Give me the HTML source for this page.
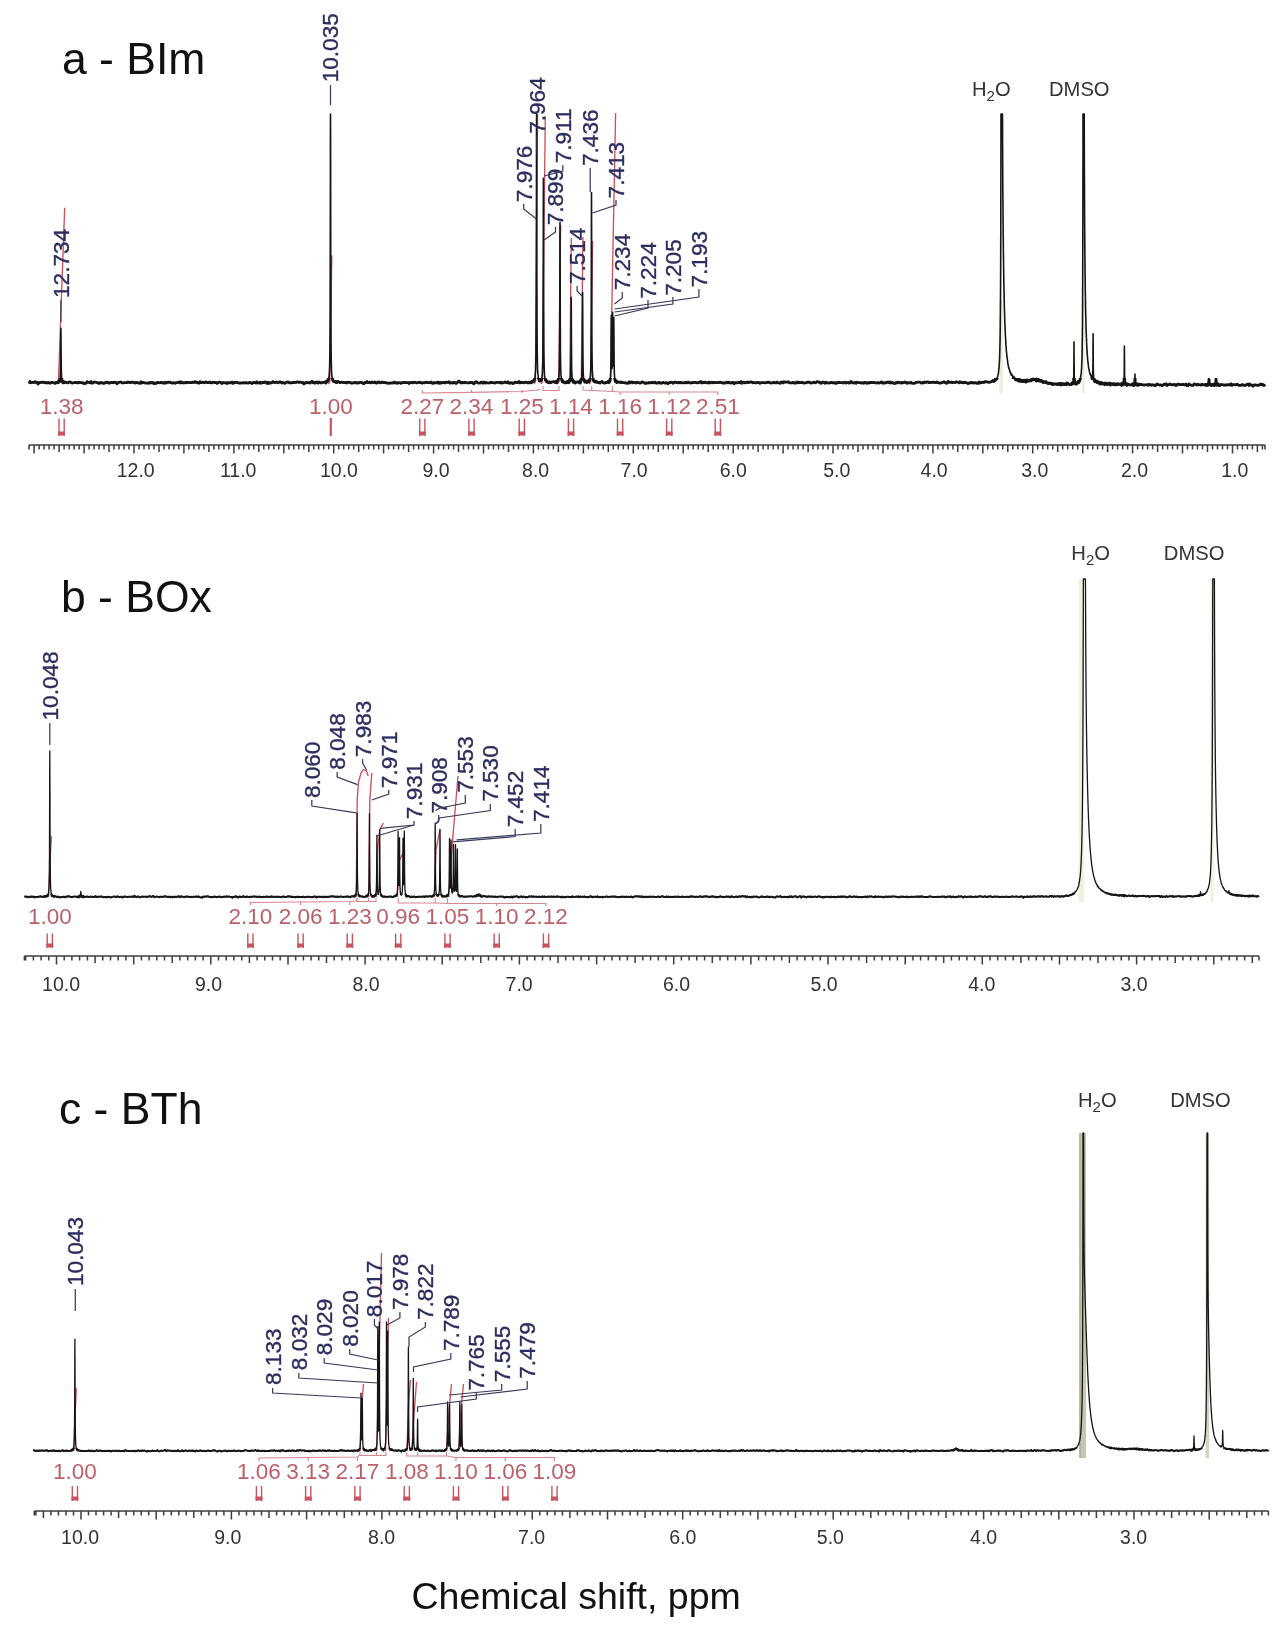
<!DOCTYPE html>
<html><head><meta charset="utf-8"><title>NMR spectra</title>
<style>html,body{margin:0;padding:0;background:#fff;}body{width:1277px;height:1626px;overflow:hidden;font-family:"Liberation Sans", sans-serif;}svg{display:block;filter:blur(0.5px);}</style>
</head><body>
<svg width="1277" height="1626" viewBox="0 0 1277 1626" font-family='"Liberation Sans", sans-serif'>
<rect width="1277" height="1626" fill="#fff"/>
<text x="62" y="74" font-size="44.5" fill="#111" text-anchor="start" >a - BIm</text>
<text x="972" y="96" font-size="20.2" fill="#333333">H<tspan font-size="15" dy="4.5">2</tspan><tspan dy="-4.5">O</tspan></text>
<text x="1049" y="96" font-size="20.2" fill="#333333" text-anchor="start" >DMSO</text>
<rect x="999.4" y="300" width="3.4" height="93" fill="#ececd8"/>
<rect x="1082.2" y="300" width="2.4" height="93" fill="#ececd8"/>
<path d="M56.9 384 L58.4 382 L61.5 294.9 L64.7 207.7" fill="none" stroke="#c9535e" stroke-width="1.35" />
<path d="M328.3 384 L329.8 382 L330.8 318.8 L331.8 255.6" fill="none" stroke="#c9535e" stroke-width="1.35" />
<path d="M533.9 384 L535.4 382 L536.5 248 L537.6 114" fill="none" stroke="#c9535e" stroke-width="1.35" />
<path d="M540.9 384 L542.4 382 L543.8 249 L545.3 116" fill="none" stroke="#c9535e" stroke-width="1.35" />
<path d="M557.3 384 L558.8 382 L559.7 303.5 L560.6 225" fill="none" stroke="#c9535e" stroke-width="1.35" />
<path d="M568.3 384 L569.8 382 L570.5 310 L571.3 238" fill="none" stroke="#c9535e" stroke-width="1.35" />
<path d="M579.8 384 L581.3 382 L582.1 309.5 L582.9 237" fill="none" stroke="#c9535e" stroke-width="1.35" />
<path d="M589.1 384 L590.6 382 L591.6 311.5 L592.6 241" fill="none" stroke="#c9535e" stroke-width="1.35" />
<path d="M608.9 384 L610.4 382 L613 247.5 L615.6 113" fill="none" stroke="#c9535e" stroke-width="1.35" />
<defs><path id="sp1" d="M29.0 383.5 L30.0 381.4 L31.0 382.8 L32.0 382.3 L33.0 382.4 L34.0 382.5 L35.0 381.7 L36.0 382.5 L37.0 382.2 L38.0 384.1 L39.0 382.7 L40.0 382.4 L41.0 382.5 L42.0 382.3 L43.0 382.1 L44.0 382.4 L45.0 382.8 L46.0 382.5 L47.0 383.0 L48.0 382.5 L49.0 382.6 L50.0 383.3 L51.0 382.8 L52.0 382.3 L53.0 382.5 L54.0 382.8 L55.0 383.4 L56.0 382.4 L57.0 382.3 L57.9 382.8 L58.0 381.9 L58.1 382.1 L58.2 382.6 L58.3 382.5 L58.4 382.2 L58.5 382.4 L58.6 380.8 L58.7 382.5 L58.8 381.6 L58.9 381.2 L59.0 382.0 L59.1 382.1 L59.2 381.5 L59.3 381.1 L59.4 381.5 L59.5 381.3 L59.6 381.7 L59.7 381.2 L59.8 380.6 L59.9 380.6 L60.0 379.4 L60.1 378.3 L60.2 378.0 L60.3 376.4 L60.4 373.6 L60.5 369.6 L60.6 363.6 L60.7 351.6 L60.8 337.7 L60.9 328.2 L61.0 336.6 L61.1 352.7 L61.2 363.1 L61.3 370.3 L61.4 372.8 L61.5 375.7 L61.6 378.0 L61.7 379.3 L61.8 378.5 L61.9 379.9 L62.0 380.6 L62.1 380.5 L62.2 381.8 L62.3 380.7 L62.4 381.6 L62.5 381.1 L62.6 382.3 L62.7 381.8 L62.8 381.7 L62.9 381.2 L63.0 382.8 L63.1 382.4 L63.2 382.4 L63.3 382.7 L63.4 382.3 L63.5 381.9 L63.6 381.9 L63.7 381.9 L63.8 382.9 L64.0 381.7 L65.0 382.2 L66.0 382.4 L67.0 382.6 L68.0 382.8 L69.0 382.0 L70.0 381.8 L71.0 382.6 L72.0 383.1 L73.0 382.9 L74.0 382.7 L75.0 382.4 L76.0 382.7 L77.0 382.5 L78.0 383.0 L79.0 382.2 L80.0 382.7 L81.0 382.5 L82.0 382.8 L83.0 382.7 L84.0 383.7 L85.0 383.3 L86.0 383.3 L87.0 381.7 L88.0 382.4 L89.0 382.3 L90.0 382.8 L91.0 381.6 L92.0 383.1 L93.0 383.1 L94.0 382.0 L95.0 382.2 L96.0 382.2 L97.0 382.6 L98.0 382.9 L99.0 383.5 L100.0 382.5 L101.0 382.9 L102.0 382.7 L103.0 383.4 L104.0 382.9 L105.0 383.2 L106.0 382.1 L107.0 382.5 L108.0 382.2 L109.0 383.3 L110.0 382.9 L111.0 382.5 L112.0 382.4 L113.0 382.8 L114.0 382.3 L115.0 382.2 L116.0 382.8 L117.0 383.7 L118.0 382.5 L119.0 382.3 L120.0 382.1 L121.0 382.0 L122.0 382.8 L123.0 383.0 L124.0 382.6 L125.0 382.7 L126.0 382.7 L127.0 382.7 L128.0 381.9 L129.0 382.4 L130.0 382.6 L131.0 382.2 L132.0 382.4 L133.0 382.2 L134.0 382.4 L135.0 383.0 L136.0 382.4 L137.0 382.5 L138.0 383.0 L139.0 382.9 L140.0 383.4 L141.0 381.7 L142.0 383.0 L143.0 382.4 L144.0 382.7 L145.0 383.0 L146.0 383.1 L147.0 383.1 L148.0 382.7 L149.0 383.3 L150.0 382.5 L151.0 382.5 L152.0 383.0 L153.0 382.4 L154.0 383.6 L155.0 383.1 L156.0 383.6 L157.0 382.6 L158.0 382.4 L159.0 382.7 L160.0 382.9 L161.0 382.3 L162.0 382.8 L163.0 382.6 L164.0 383.3 L165.0 382.3 L166.0 383.1 L167.0 382.3 L168.0 382.2 L169.0 382.3 L170.0 382.1 L171.0 382.7 L172.0 383.1 L173.0 382.7 L174.0 382.9 L175.0 383.3 L176.0 382.7 L177.0 382.7 L178.0 382.5 L179.0 381.9 L180.0 382.9 L181.0 381.8 L182.0 382.9 L183.0 382.6 L184.0 383.1 L185.0 382.6 L186.0 382.2 L187.0 382.8 L188.0 382.3 L189.0 382.5 L190.0 382.6 L191.0 382.5 L192.0 382.5 L193.0 382.2 L194.0 382.5 L195.0 381.6 L196.0 382.5 L197.0 382.1 L198.0 383.1 L199.0 383.2 L200.0 381.7 L201.0 382.7 L202.0 382.5 L203.0 382.1 L204.0 382.8 L205.0 382.4 L206.0 381.8 L207.0 382.5 L208.0 382.5 L209.0 382.6 L210.0 382.0 L211.0 382.9 L212.0 382.9 L213.0 382.1 L214.0 382.3 L215.0 382.6 L216.0 382.3 L217.0 383.4 L218.0 382.7 L219.0 382.1 L220.0 382.2 L221.0 382.6 L222.0 383.6 L223.0 382.5 L224.0 382.7 L225.0 382.8 L226.0 382.6 L227.0 383.6 L228.0 382.4 L229.0 382.9 L230.0 382.7 L231.0 382.9 L232.0 382.1 L233.0 383.4 L234.0 382.5 L235.0 382.6 L236.0 382.2 L237.0 382.3 L238.0 382.9 L239.0 383.0 L240.0 382.9 L241.0 383.1 L242.0 382.9 L243.0 382.6 L244.0 383.0 L245.0 382.9 L246.0 382.6 L247.0 382.9 L248.0 383.2 L249.0 382.7 L250.0 382.4 L251.0 382.9 L252.0 383.5 L253.0 382.5 L254.0 382.6 L255.0 382.5 L256.0 383.1 L257.0 381.8 L258.0 382.8 L259.0 383.1 L260.0 382.2 L261.0 383.3 L262.0 382.8 L263.0 382.3 L264.0 382.7 L265.0 381.9 L266.0 382.3 L267.0 383.4 L268.0 382.2 L269.0 383.4 L270.0 382.6 L271.0 383.0 L272.0 382.6 L273.0 381.6 L274.0 382.3 L275.0 382.7 L276.0 382.1 L277.0 382.0 L278.0 382.8 L279.0 382.3 L280.0 381.8 L281.0 382.3 L282.0 383.0 L283.0 382.4 L284.0 383.0 L285.0 383.3 L286.0 382.6 L287.0 382.1 L288.0 382.0 L289.0 382.6 L290.0 383.0 L291.0 382.7 L292.0 382.8 L293.0 382.4 L294.0 382.7 L295.0 382.4 L296.0 382.4 L297.0 382.0 L298.0 381.9 L299.0 382.4 L300.0 382.1 L301.0 382.2 L302.0 382.9 L303.0 382.5 L304.0 383.9 L305.0 383.0 L306.0 382.3 L307.0 382.9 L308.0 382.7 L309.0 382.3 L310.0 383.1 L311.0 382.2 L312.0 381.2 L313.0 382.9 L314.0 382.3 L315.0 383.2 L316.0 382.2 L317.0 382.0 L318.0 383.2 L319.0 382.0 L320.0 382.6 L321.0 383.1 L322.0 382.5 L323.0 382.3 L324.0 382.3 L324.9 382.5 L325.0 381.8 L325.4 382.3 L325.9 382.2 L326.0 383.0 L326.4 381.6 L326.9 381.1 L327.0 381.8 L327.4 381.0 L327.5 381.2 L327.6 381.0 L327.7 381.3 L327.8 380.4 L327.9 380.6 L327.9 379.4 L328.0 380.0 L328.1 380.9 L328.2 379.7 L328.3 379.4 L328.4 379.0 L328.4 379.7 L328.5 379.2 L328.6 378.2 L328.7 378.6 L328.8 377.9 L328.9 377.8 L328.9 376.9 L329.0 377.3 L329.1 375.8 L329.2 374.5 L329.3 372.9 L329.4 372.1 L329.4 371.8 L329.5 369.1 L329.6 366.7 L329.7 362.5 L329.8 357.1 L329.9 352.3 L329.9 348.2 L330.0 334.7 L330.1 315.4 L330.2 281.5 L330.3 223.8 L330.4 176.4 L330.4 142.0 L330.5 114.0 L330.6 141.8 L330.7 224.4 L330.8 281.2 L330.9 303.5 L330.9 314.6 L331.0 335.5 L331.1 348.9 L331.2 356.7 L331.3 361.9 L331.4 365.4 L331.4 366.9 L331.5 369.6 L331.6 371.8 L331.7 373.7 L331.8 374.8 L331.9 375.5 L331.9 375.3 L332.0 377.2 L332.1 377.3 L332.2 378.7 L332.3 377.4 L332.4 378.9 L332.4 379.2 L332.5 379.0 L332.6 379.7 L332.7 380.1 L332.8 380.2 L332.9 379.9 L332.9 380.1 L333.0 380.8 L333.1 381.1 L333.2 380.7 L333.3 380.9 L333.4 381.0 L333.4 381.4 L333.9 380.9 L334.0 380.9 L334.4 381.7 L334.9 381.4 L335.0 381.6 L335.4 382.0 L335.9 382.3 L336.0 381.7 L336.4 382.6 L336.9 381.5 L337.0 382.5 L338.0 381.6 L339.0 381.8 L340.0 382.7 L341.0 382.3 L342.0 382.1 L343.0 382.3 L344.0 382.7 L345.0 382.5 L346.0 382.5 L347.0 383.0 L348.0 382.2 L349.0 382.3 L350.0 382.3 L351.0 383.1 L352.0 383.0 L353.0 383.1 L354.0 382.6 L355.0 382.5 L356.0 383.0 L357.0 382.4 L358.0 383.0 L359.0 382.9 L360.0 382.3 L361.0 382.5 L362.0 382.5 L363.0 383.4 L364.0 383.7 L365.0 382.5 L366.0 382.6 L367.0 381.6 L368.0 382.7 L369.0 382.6 L370.0 382.1 L371.0 382.9 L372.0 381.9 L373.0 382.5 L374.0 382.7 L375.0 382.0 L376.0 383.0 L377.0 383.1 L378.0 382.0 L379.0 382.0 L380.0 382.9 L381.0 382.6 L382.0 382.0 L383.0 382.5 L384.0 382.5 L385.0 382.5 L386.0 383.0 L387.0 382.8 L388.0 383.4 L389.0 383.2 L390.0 382.9 L391.0 383.1 L392.0 383.2 L393.0 382.9 L394.0 382.0 L395.0 383.0 L396.0 382.6 L397.0 383.3 L398.0 382.6 L399.0 382.8 L400.0 382.7 L401.0 383.4 L402.0 382.7 L403.0 382.5 L404.0 382.7 L405.0 382.4 L406.0 382.7 L407.0 382.6 L408.0 382.7 L409.0 383.5 L410.0 382.4 L411.0 382.6 L412.0 382.5 L413.0 382.9 L414.0 382.1 L415.0 382.3 L416.0 382.6 L417.0 382.8 L418.0 382.6 L419.0 382.4 L420.0 382.2 L421.0 382.8 L422.0 383.2 L423.0 382.7 L424.0 382.7 L425.0 382.8 L426.0 382.2 L427.0 382.5 L428.0 382.5 L429.0 382.7 L430.0 382.6 L431.0 382.0 L432.0 383.1 L433.0 383.4 L434.0 382.5 L435.0 382.8 L436.0 382.7 L437.0 382.9 L438.0 381.9 L439.0 383.3 L440.0 382.4 L441.0 383.2 L442.0 382.6 L443.0 382.4 L444.0 382.5 L445.0 383.0 L446.0 382.2 L447.0 382.4 L448.0 382.4 L449.0 381.8 L450.0 383.2 L451.0 382.9 L452.0 382.6 L453.0 383.1 L454.0 382.2 L455.0 382.6 L456.0 383.4 L457.0 383.0 L458.0 381.6 L459.0 381.1 L460.0 382.1 L461.0 383.1 L462.0 382.4 L463.0 382.5 L464.0 382.9 L465.0 382.2 L466.0 382.7 L467.0 382.9 L468.0 382.8 L469.0 382.8 L470.0 382.3 L471.0 382.8 L472.0 382.4 L473.0 383.2 L474.0 383.7 L475.0 382.3 L476.0 381.6 L477.0 382.4 L478.0 382.8 L479.0 383.1 L480.0 383.1 L481.0 382.2 L482.0 382.2 L483.0 383.2 L484.0 382.1 L485.0 383.1 L486.0 382.5 L487.0 382.9 L488.0 382.9 L489.0 382.9 L490.0 383.0 L491.0 382.1 L492.0 382.7 L493.0 382.6 L494.0 382.7 L495.0 383.1 L496.0 382.5 L497.0 382.3 L498.0 382.3 L499.0 382.4 L500.0 382.9 L501.0 382.2 L502.0 383.1 L503.0 382.7 L504.0 382.5 L505.0 382.0 L506.0 382.7 L507.0 382.9 L508.0 381.8 L509.0 383.1 L510.0 383.3 L511.0 382.7 L512.0 382.8 L513.0 383.6 L514.0 383.1 L515.0 382.1 L516.0 382.5 L517.0 382.5 L518.0 382.5 L519.0 381.5 L520.0 382.9 L521.0 382.2 L522.0 382.6 L523.0 382.4 L524.0 382.9 L525.0 382.3 L526.0 382.1 L527.0 382.6 L528.0 383.0 L529.0 382.1 L530.0 382.8 L531.0 382.2 L531.0 381.8 L531.5 382.7 L532.0 381.5 L532.0 382.3 L532.5 381.5 L533.0 381.6 L533.0 380.9 L533.5 380.7 L533.6 381.4 L533.7 380.9 L533.8 380.7 L533.9 380.4 L534.0 380.7 L534.0 379.8 L534.1 379.7 L534.2 380.0 L534.3 379.5 L534.4 379.3 L534.5 379.4 L534.5 379.2 L534.6 378.9 L534.7 379.4 L534.8 378.6 L534.9 378.2 L535.0 377.3 L535.0 376.8 L535.1 375.7 L535.2 375.3 L535.3 373.4 L535.4 372.7 L535.5 372.3 L535.5 372.0 L535.6 369.5 L535.7 365.7 L535.8 362.2 L535.9 356.0 L536.0 352.1 L536.0 348.0 L536.1 335.7 L536.2 316.2 L536.3 281.3 L536.4 224.6 L536.5 176.0 L536.5 141.8 L536.6 114.0 L536.7 142.7 L536.8 223.3 L536.9 280.9 L537.0 302.8 L537.0 314.9 L537.1 335.7 L537.2 347.9 L537.3 356.0 L537.4 361.3 L537.5 364.6 L537.5 366.3 L537.6 369.2 L537.7 371.2 L537.8 371.6 L537.8 373.6 L537.9 374.1 L538.0 374.8 L538.0 375.6 L538.1 375.1 L538.2 376.8 L538.3 377.1 L538.3 377.6 L538.4 378.5 L538.5 378.4 L538.5 377.5 L538.6 378.5 L538.7 379.1 L538.8 379.2 L538.8 378.7 L538.9 378.7 L539.0 379.8 L539.0 379.8 L539.1 379.8 L539.2 379.2 L539.3 380.8 L539.3 378.8 L539.4 380.0 L539.5 381.2 L539.5 380.2 L539.8 380.5 L540.0 380.0 L540.0 381.1 L540.3 379.9 L540.4 380.6 L540.5 380.5 L540.5 380.0 L540.6 380.8 L540.7 379.7 L540.8 380.0 L540.8 380.3 L540.9 380.0 L541.0 380.4 L541.0 380.6 L541.1 379.9 L541.2 379.6 L541.3 379.5 L541.3 379.5 L541.4 379.9 L541.5 379.3 L541.5 379.5 L541.6 378.9 L541.7 378.3 L541.8 378.8 L541.8 377.8 L541.9 377.8 L542.0 378.1 L542.0 376.7 L542.1 376.4 L542.2 374.7 L542.3 374.5 L542.3 373.6 L542.4 372.5 L542.5 371.3 L542.5 370.7 L542.6 368.5 L542.7 363.9 L542.8 360.9 L542.8 357.9 L542.9 348.9 L543.0 340.9 L543.0 333.9 L543.1 310.7 L543.2 270.9 L543.3 236.8 L543.3 212.4 L543.4 178.4 L543.5 212.5 L543.6 270.0 L543.7 310.2 L543.8 326.2 L543.8 334.7 L543.9 350.0 L544.0 358.0 L544.1 363.4 L544.2 367.7 L544.3 369.6 L544.3 370.0 L544.4 372.9 L544.5 374.8 L544.6 375.8 L544.7 376.9 L544.8 376.5 L544.8 376.6 L544.9 378.6 L545.0 379.0 L545.1 378.3 L545.2 379.4 L545.3 379.5 L545.3 379.9 L545.4 380.0 L545.5 379.9 L545.6 380.4 L545.7 380.6 L545.8 380.6 L545.8 379.8 L545.9 379.5 L546.0 380.6 L546.1 380.3 L546.2 381.2 L546.3 381.5 L546.3 381.3 L546.8 381.4 L547.0 381.7 L547.3 382.3 L547.8 381.6 L548.0 382.4 L548.3 382.3 L548.8 382.2 L549.0 382.8 L550.0 381.9 L551.0 382.7 L552.0 381.8 L553.0 381.9 L554.0 381.7 L554.9 382.4 L555.0 381.7 L555.4 382.1 L555.9 381.5 L556.0 382.5 L556.4 382.7 L556.9 381.8 L557.0 382.4 L557.1 381.8 L557.2 382.5 L557.3 381.5 L557.4 380.6 L557.4 382.0 L557.5 381.2 L557.6 380.7 L557.7 380.7 L557.8 380.2 L557.9 380.7 L557.9 380.2 L558.0 381.2 L558.1 380.7 L558.2 379.4 L558.3 379.2 L558.4 379.3 L558.4 378.5 L558.5 379.1 L558.6 378.6 L558.7 377.7 L558.8 377.0 L558.9 376.6 L558.9 376.6 L559.0 375.8 L559.1 373.5 L559.2 371.6 L559.3 367.8 L559.4 363.8 L559.4 361.4 L559.5 356.9 L559.6 344.9 L559.7 326.2 L559.8 295.1 L559.9 250.5 L559.9 236.9 L560.0 222.6 L560.1 250.3 L560.2 295.2 L560.3 326.3 L560.4 345.5 L560.4 349.3 L560.5 357.2 L560.6 363.8 L560.7 367.5 L560.8 370.3 L560.9 373.5 L560.9 374.6 L561.0 375.2 L561.1 376.7 L561.2 377.1 L561.3 377.4 L561.4 379.0 L561.4 378.8 L561.5 379.4 L561.6 378.9 L561.7 379.9 L561.8 379.8 L561.9 380.7 L561.9 380.2 L562.0 380.3 L562.1 380.5 L562.2 381.5 L562.3 381.0 L562.4 380.8 L562.4 380.7 L562.5 380.8 L562.6 382.0 L562.7 380.6 L562.8 381.1 L562.9 381.8 L562.9 382.1 L563.0 381.5 L563.4 382.2 L563.9 382.3 L564.0 382.4 L564.4 382.1 L564.9 382.9 L565.0 382.2 L566.0 382.9 L567.0 381.6 L567.5 382.5 L568.0 381.5 L568.0 381.3 L568.2 382.2 L568.3 381.6 L568.4 382.1 L568.5 381.4 L568.5 382.6 L568.6 381.8 L568.7 381.3 L568.8 381.8 L568.9 382.1 L569.0 381.3 L569.0 381.8 L569.1 382.4 L569.2 381.8 L569.3 381.3 L569.4 380.9 L569.5 381.3 L569.5 380.4 L569.6 379.5 L569.7 380.4 L569.8 379.9 L569.9 380.9 L570.0 379.8 L570.0 379.2 L570.1 378.7 L570.2 378.7 L570.3 377.3 L570.4 376.2 L570.5 375.1 L570.5 374.8 L570.6 372.4 L570.7 368.6 L570.8 363.2 L570.9 353.3 L571.0 338.9 L571.0 336.8 L571.1 311.6 L571.2 297.4 L571.3 311.2 L571.4 335.8 L571.5 349.9 L571.5 352.6 L571.6 363.0 L571.7 368.9 L571.8 371.9 L571.9 374.7 L572.0 376.5 L572.0 376.8 L572.1 377.5 L572.2 378.4 L572.3 379.1 L572.4 379.2 L572.5 379.5 L572.5 380.8 L572.6 380.2 L572.7 380.7 L572.8 380.6 L572.9 381.7 L573.0 382.0 L573.0 381.1 L573.1 381.6 L573.2 381.1 L573.3 382.3 L573.4 382.1 L573.5 381.3 L573.5 382.3 L573.6 381.9 L573.7 382.0 L573.8 382.0 L573.9 381.6 L574.0 381.7 L574.0 382.2 L574.1 382.0 L574.5 381.7 L575.0 383.1 L576.0 382.2 L577.0 382.0 L578.0 381.9 L578.8 382.5 L579.0 382.6 L579.3 382.2 L579.6 382.4 L579.7 381.3 L579.8 381.7 L579.9 381.7 L580.0 381.8 L580.1 382.0 L580.2 380.8 L580.3 383.1 L580.4 381.2 L580.5 381.6 L580.6 381.8 L580.7 381.7 L580.8 381.2 L580.9 379.7 L581.0 380.3 L581.1 380.9 L581.2 379.9 L581.3 379.5 L581.4 378.5 L581.5 379.6 L581.6 378.5 L581.7 377.0 L581.8 376.1 L581.9 374.3 L582.0 371.3 L582.1 367.8 L582.2 361.7 L582.3 351.3 L582.4 333.9 L582.5 308.2 L582.6 292.6 L582.7 308.3 L582.8 333.1 L582.9 350.5 L583.0 362.1 L583.1 367.7 L583.2 371.8 L583.3 374.6 L583.4 375.6 L583.5 377.6 L583.6 378.5 L583.7 378.9 L583.8 379.7 L583.9 379.5 L584.0 379.2 L584.1 380.4 L584.2 380.3 L584.3 381.3 L584.4 381.2 L584.5 380.9 L584.6 381.3 L584.7 382.0 L584.8 382.0 L584.9 381.7 L585.0 381.8 L585.1 381.5 L585.2 381.6 L585.3 382.0 L585.4 381.7 L585.5 381.9 L585.8 381.3 L586.0 381.1 L586.0 381.1 L586.3 381.7 L586.5 382.5 L587.0 382.4 L587.0 381.4 L587.5 381.1 L588.0 382.0 L588.0 381.9 L588.5 380.8 L588.5 381.9 L588.6 381.4 L588.7 381.9 L588.8 381.3 L588.9 381.5 L589.0 381.2 L589.0 380.6 L589.1 380.8 L589.2 380.4 L589.3 381.0 L589.4 380.0 L589.5 379.6 L589.5 380.5 L589.6 380.5 L589.7 380.3 L589.8 379.8 L589.9 378.3 L590.0 378.3 L590.0 378.2 L590.1 377.9 L590.2 376.2 L590.3 376.3 L590.4 375.3 L590.5 373.8 L590.5 373.8 L590.6 372.3 L590.7 369.2 L590.8 365.9 L590.9 360.5 L591.0 354.8 L591.0 351.9 L591.1 338.3 L591.2 316.7 L591.3 278.5 L591.4 225.1 L591.5 196.7 L591.5 192.6 L591.6 225.6 L591.7 279.2 L591.8 316.2 L591.9 338.5 L592.0 348.8 L592.0 352.1 L592.1 359.3 L592.2 364.9 L592.3 369.8 L592.4 372.0 L592.5 372.3 L592.5 373.2 L592.6 375.2 L592.7 375.9 L592.8 377.4 L592.9 378.0 L593.0 378.6 L593.0 378.0 L593.1 379.3 L593.2 380.3 L593.3 379.4 L593.4 380.6 L593.5 380.6 L593.5 380.5 L593.6 380.4 L593.7 380.1 L593.8 380.4 L593.9 381.3 L594.0 381.5 L594.0 381.6 L594.1 381.6 L594.2 381.7 L594.3 381.2 L594.4 380.9 L594.5 381.6 L595.0 382.0 L595.0 381.8 L595.5 381.3 L596.0 381.8 L596.0 381.4 L596.5 382.2 L597.0 381.8 L597.0 382.2 L598.0 382.5 L599.0 382.4 L600.0 383.0 L601.0 381.9 L602.0 381.4 L603.0 382.8 L604.0 383.0 L605.0 383.0 L606.0 382.4 L607.0 382.5 L608.0 382.1 L608.1 381.4 L608.3 381.7 L608.4 382.1 L608.5 381.6 L608.6 382.7 L608.6 381.1 L608.7 381.6 L608.8 382.2 L608.9 381.4 L609.0 381.1 L609.1 380.9 L609.1 381.2 L609.2 382.1 L609.3 381.5 L609.3 381.6 L609.4 381.0 L609.5 381.5 L609.6 381.1 L609.6 380.6 L609.7 380.6 L609.8 380.7 L609.8 381.1 L609.9 380.3 L610.0 380.3 L610.1 380.8 L610.1 379.4 L610.2 378.7 L610.3 379.2 L610.3 378.8 L610.4 378.0 L610.5 377.1 L610.6 376.0 L610.6 375.9 L610.6 375.2 L610.7 374.1 L610.8 370.3 L610.8 369.6 L610.9 366.2 L611.0 358.2 L611.1 350.3 L611.1 345.4 L611.1 341.8 L611.2 327.1 L611.3 315.4 L611.3 315.4 L611.4 325.8 L611.5 343.7 L611.6 353.1 L611.6 356.3 L611.6 358.4 L611.7 363.4 L611.8 367.5 L611.8 367.7 L611.9 368.0 L612.0 368.7 L612.1 367.5 L612.1 366.0 L612.1 365.8 L612.2 362.8 L612.3 355.1 L612.3 353.4 L612.4 342.3 L612.5 323.9 L612.6 313.2 L612.6 312.3 L612.6 312.5 L612.7 323.7 L612.8 341.1 L612.8 345.1 L612.9 355.1 L613.0 361.9 L613.1 364.4 L613.1 365.4 L613.1 365.2 L613.2 366.0 L613.3 365.5 L613.3 365.2 L613.4 363.1 L613.5 355.9 L613.6 349.3 L613.6 343.9 L613.6 341.2 L613.7 327.6 L613.8 317.8 L613.8 317.6 L613.9 327.4 L614.0 346.5 L614.1 355.7 L614.1 358.4 L614.1 360.3 L614.2 366.1 L614.3 371.0 L614.3 372.0 L614.4 373.2 L614.5 376.8 L614.6 377.1 L614.6 377.2 L614.7 378.4 L614.8 378.8 L614.8 380.0 L614.9 379.8 L615.0 379.6 L615.1 379.9 L615.1 380.0 L615.2 380.2 L615.3 380.9 L615.3 380.4 L615.4 381.6 L615.5 381.0 L615.6 381.1 L615.6 381.6 L615.7 380.4 L615.8 381.0 L615.8 381.7 L615.9 381.5 L616.0 381.5 L616.1 381.8 L616.1 381.4 L616.2 381.6 L616.3 381.1 L616.4 381.0 L616.5 382.4 L616.6 381.5 L616.6 381.6 L616.7 382.6 L617.0 382.5 L618.0 382.0 L619.0 382.1 L620.0 382.4 L621.0 382.0 L622.0 382.7 L623.0 382.6 L624.0 382.6 L625.0 382.9 L626.0 382.9 L627.0 383.4 L628.0 383.2 L629.0 381.8 L630.0 383.0 L631.0 382.1 L632.0 381.9 L633.0 382.9 L634.0 382.3 L635.0 382.4 L636.0 383.1 L637.0 382.3 L638.0 382.2 L639.0 382.7 L640.0 383.1 L641.0 382.8 L642.0 381.9 L643.0 382.3 L644.0 382.5 L645.0 383.5 L646.0 383.0 L647.0 383.0 L648.0 383.1 L649.0 382.5 L650.0 382.8 L651.0 382.8 L652.0 382.2 L653.0 382.6 L654.0 382.9 L655.0 382.1 L656.0 383.0 L657.0 382.9 L658.0 383.1 L659.0 382.3 L660.0 382.7 L661.0 383.3 L662.0 383.0 L663.0 382.3 L664.0 382.7 L665.0 383.2 L666.0 382.6 L667.0 382.8 L668.0 383.8 L669.0 382.6 L670.0 382.6 L671.0 382.2 L672.0 382.3 L673.0 383.3 L674.0 382.5 L675.0 382.1 L676.0 382.2 L677.0 382.6 L678.0 382.9 L679.0 382.3 L680.0 382.9 L681.0 382.4 L682.0 382.8 L683.0 382.8 L684.0 382.9 L685.0 382.4 L686.0 382.5 L687.0 382.8 L688.0 382.0 L689.0 382.7 L690.0 382.8 L691.0 383.1 L692.0 382.6 L693.0 382.5 L694.0 382.7 L695.0 382.3 L696.0 382.5 L697.0 382.8 L698.0 382.7 L699.0 382.1 L700.0 382.4 L701.0 381.6 L702.0 383.0 L703.0 382.4 L704.0 382.7 L705.0 382.1 L706.0 382.6 L707.0 382.8 L708.0 383.0 L709.0 382.0 L710.0 383.0 L711.0 382.5 L712.0 382.2 L713.0 382.8 L714.0 382.5 L715.0 382.5 L716.0 382.3 L717.0 382.7 L718.0 382.6 L719.0 382.5 L720.0 382.2 L721.0 382.4 L722.0 382.8 L723.0 383.2 L724.0 382.6 L725.0 383.2 L726.0 382.6 L727.0 382.1 L728.0 382.9 L729.0 382.1 L730.0 382.8 L731.0 383.1 L732.0 382.4 L733.0 382.5 L734.0 383.7 L735.0 382.7 L736.0 382.7 L737.0 382.9 L738.0 382.5 L739.0 382.5 L740.0 382.8 L741.0 381.5 L742.0 383.2 L743.0 382.1 L744.0 382.1 L745.0 382.8 L746.0 382.6 L747.0 382.0 L748.0 382.7 L749.0 382.1 L750.0 382.3 L751.0 381.9 L752.0 382.2 L753.0 382.8 L754.0 382.6 L755.0 382.7 L756.0 383.0 L757.0 382.6 L758.0 382.3 L759.0 382.5 L760.0 383.3 L761.0 382.6 L762.0 382.7 L763.0 382.5 L764.0 382.7 L765.0 382.8 L766.0 382.6 L767.0 382.5 L768.0 382.2 L769.0 382.2 L770.0 382.8 L771.0 382.9 L772.0 383.0 L773.0 382.6 L774.0 382.2 L775.0 382.9 L776.0 382.9 L777.0 381.9 L778.0 382.9 L779.0 382.8 L780.0 383.3 L781.0 382.1 L782.0 382.0 L783.0 382.9 L784.0 381.8 L785.0 382.3 L786.0 382.1 L787.0 382.1 L788.0 381.7 L789.0 382.5 L790.0 383.0 L791.0 382.8 L792.0 382.8 L793.0 382.4 L794.0 383.2 L795.0 382.8 L796.0 383.1 L797.0 381.9 L798.0 382.7 L799.0 382.1 L800.0 382.7 L801.0 382.7 L802.0 382.1 L803.0 382.7 L804.0 383.1 L805.0 382.8 L806.0 382.9 L807.0 382.2 L808.0 382.3 L809.0 382.1 L810.0 382.6 L811.0 383.1 L812.0 382.8 L813.0 382.6 L814.0 382.1 L815.0 382.8 L816.0 382.5 L817.0 381.7 L818.0 381.8 L819.0 382.4 L820.0 382.2 L821.0 383.3 L822.0 382.6 L823.0 382.1 L824.0 382.4 L825.0 383.3 L826.0 382.2 L827.0 382.9 L828.0 382.8 L829.0 383.2 L830.0 382.8 L831.0 382.4 L832.0 382.8 L833.0 382.6 L834.0 383.0 L835.0 382.6 L836.0 383.5 L837.0 382.5 L838.0 382.8 L839.0 382.3 L840.0 382.6 L841.0 382.6 L842.0 382.7 L843.0 383.0 L844.0 382.4 L845.0 382.2 L846.0 383.1 L847.0 382.5 L848.0 382.3 L849.0 383.1 L850.0 382.9 L851.0 381.4 L852.0 382.4 L853.0 382.9 L854.0 383.0 L855.0 382.4 L856.0 383.3 L857.0 382.2 L858.0 382.5 L859.0 382.7 L860.0 382.6 L861.0 383.0 L862.0 383.1 L863.0 382.6 L864.0 383.2 L865.0 382.3 L866.0 382.5 L867.0 383.4 L868.0 382.6 L869.0 383.1 L870.0 382.4 L871.0 382.5 L872.0 382.5 L873.0 382.7 L874.0 382.4 L875.0 382.6 L876.0 382.9 L877.0 383.1 L878.0 382.6 L879.0 382.9 L880.0 383.0 L881.0 382.1 L882.0 381.9 L883.0 383.3 L884.0 383.2 L885.0 382.6 L886.0 382.8 L887.0 382.2 L888.0 382.0 L889.0 382.7 L890.0 381.9 L891.0 383.0 L892.0 382.3 L893.0 382.7 L894.0 383.5 L895.0 383.4 L896.0 382.5 L897.0 383.1 L898.0 382.1 L899.0 382.3 L900.0 382.8 L901.0 383.2 L902.0 382.3 L903.0 382.8 L904.0 382.6 L905.0 382.0 L906.0 382.5 L907.0 383.3 L908.0 382.5 L909.0 382.8 L910.0 383.0 L911.0 382.3 L912.0 383.1 L913.0 383.3 L914.0 383.3 L915.0 383.2 L916.0 382.4 L917.0 382.3 L918.0 382.2 L919.0 382.2 L920.0 382.2 L921.0 383.0 L922.0 383.2 L923.0 382.3 L924.0 382.9 L925.0 382.0 L926.0 382.4 L927.0 382.1 L928.0 381.8 L929.0 382.6 L930.0 382.6 L931.0 382.4 L932.0 382.3 L933.0 382.1 L934.0 382.5 L935.0 382.3 L936.0 382.7 L937.0 382.0 L938.0 382.7 L939.0 382.8 L940.0 383.1 L941.0 383.0 L942.0 382.6 L943.0 382.2 L944.0 381.7 L945.0 382.5 L946.0 383.2 L947.0 383.3 L948.0 381.4 L949.0 382.2 L950.0 382.4 L951.0 382.1 L952.0 382.6 L953.0 382.5 L954.0 382.3 L955.0 382.5 L956.0 381.8 L957.0 382.1 L958.0 382.1 L959.0 382.9 L960.0 381.8 L961.0 382.4 L962.0 382.8 L963.0 382.5 L964.0 382.8 L965.0 382.2 L966.0 382.7 L967.0 382.9 L968.0 383.5 L969.0 382.8 L970.0 383.1 L971.0 382.4 L972.0 382.5 L973.0 383.1 L974.0 382.7 L975.0 383.0 L976.0 382.7 L977.0 383.3 L978.0 383.4 L979.0 382.0 L980.0 383.1 L981.0 382.5 L982.0 382.5 L983.0 382.2 L984.0 382.5 L985.0 381.6 L986.0 381.8 L987.0 381.7 L988.0 382.1 L989.0 382.3 L990.0 382.1 L991.0 381.8 L992.0 381.2 L992.8 380.5 L993.0 381.4 L993.3 381.2 L993.8 381.1 L994.0 381.5 L994.3 380.6 L994.8 380.4 L995.0 379.3 L995.3 380.4 L995.8 379.6 L996.0 379.1 L996.3 379.2 L996.7 378.0 L996.8 378.0 L997.0 378.8 L997.2 377.8 L997.3 377.6 L997.7 376.4 L997.8 376.0 L998.0 375.0 L998.2 375.0 L998.3 373.4 L998.5 372.5 L998.6 371.3 L998.7 370.5 L998.8 368.7 L998.9 367.9 L999.0 368.4 L999.1 367.1 L999.2 364.9 L999.3 363.5 L999.4 362.0 L999.5 359.3 L999.6 358.1 L999.7 354.1 L999.8 351.1 L999.9 346.4 L1000.0 343.8 L1000.1 337.6 L1000.2 331.7 L1000.3 322.2 L1000.4 312.4 L1000.5 298.8 L1000.6 281.1 L1000.7 257.9 L1000.8 224.1 L1000.8 210.9 L1000.9 173.2 L1001.0 114.0 L1002.4 114.0 L1002.5 117.1 L1002.6 143.8 L1002.7 164.3 L1002.8 184.0 L1002.8 188.0 L1002.9 198.1 L1003.0 211.5 L1003.1 223.6 L1003.2 233.4 L1003.3 243.0 L1003.3 245.6 L1003.4 251.9 L1003.5 259.0 L1003.6 266.7 L1003.7 273.2 L1003.8 279.0 L1003.8 281.3 L1003.9 284.7 L1004.0 289.3 L1004.1 294.8 L1004.2 299.3 L1004.3 303.4 L1004.3 304.7 L1004.4 308.4 L1004.5 311.1 L1004.6 314.7 L1004.7 317.6 L1004.8 321.3 L1004.8 321.5 L1005.0 325.8 L1005.2 330.5 L1005.3 333.5 L1005.3 334.3 L1005.7 340.2 L1005.8 342.3 L1005.8 343.4 L1006.0 346.1 L1006.2 347.8 L1006.3 349.5 L1006.3 350.4 L1006.7 353.9 L1006.8 354.9 L1006.8 355.2 L1007.0 356.4 L1007.2 358.6 L1007.3 359.5 L1007.3 359.0 L1007.7 362.2 L1007.8 363.3 L1007.8 363.0 L1008.0 364.3 L1008.2 364.7 L1008.3 366.1 L1008.3 365.3 L1008.7 368.1 L1008.8 367.5 L1008.8 367.5 L1009.0 368.1 L1009.2 369.0 L1009.3 369.3 L1009.3 369.3 L1009.7 370.7 L1009.8 371.4 L1009.8 371.6 L1010.0 371.5 L1010.2 372.7 L1010.3 371.9 L1010.3 372.0 L1010.7 372.8 L1010.8 373.7 L1010.8 372.8 L1011.0 373.2 L1011.2 374.8 L1011.3 375.2 L1011.3 375.1 L1011.7 374.4 L1011.8 375.2 L1011.8 375.6 L1012.0 375.6 L1012.2 375.1 L1012.3 375.8 L1012.3 375.2 L1012.7 375.9 L1012.8 377.5 L1012.8 376.9 L1013.0 376.1 L1013.2 376.3 L1013.3 377.3 L1013.3 376.8 L1013.7 377.7 L1013.8 377.3 L1013.8 377.5 L1014.0 377.8 L1014.2 377.4 L1014.3 377.1 L1014.3 377.5 L1014.7 378.0 L1014.8 378.3 L1014.8 378.3 L1015.0 378.5 L1015.2 378.8 L1015.3 378.3 L1015.3 379.3 L1015.7 379.8 L1015.8 379.1 L1015.8 379.1 L1016.0 379.6 L1016.2 379.5 L1016.3 379.3 L1016.3 379.2 L1016.7 379.1 L1016.8 379.0 L1016.8 379.8 L1017.0 380.1 L1017.2 379.2 L1017.3 379.7 L1017.3 379.8 L1017.7 379.7 L1017.8 379.5 L1017.8 379.7 L1018.0 379.1 L1018.2 380.0 L1018.3 379.9 L1018.3 381.0 L1018.7 380.6 L1018.8 380.1 L1018.8 380.2 L1019.0 381.0 L1019.2 381.0 L1019.3 380.4 L1019.3 380.3 L1019.7 379.8 L1019.8 380.3 L1019.8 380.4 L1020.0 380.2 L1020.2 381.3 L1020.3 379.7 L1020.3 380.5 L1020.7 380.8 L1020.8 380.9 L1020.8 381.4 L1021.0 380.1 L1021.2 380.4 L1021.3 380.8 L1021.3 380.8 L1021.7 380.6 L1021.8 380.5 L1021.8 381.3 L1022.0 380.4 L1022.2 380.6 L1022.3 381.5 L1022.3 381.7 L1022.7 381.3 L1022.8 380.5 L1022.8 380.5 L1023.0 380.5 L1023.2 380.4 L1023.3 380.8 L1023.3 381.5 L1023.8 381.1 L1023.8 380.6 L1024.0 380.6 L1024.3 380.5 L1024.3 381.5 L1024.8 380.1 L1024.8 381.1 L1025.0 380.3 L1025.3 380.5 L1025.3 380.3 L1025.8 381.4 L1025.8 380.9 L1026.0 382.2 L1026.3 380.4 L1026.3 380.4 L1026.8 381.1 L1026.8 381.1 L1027.0 380.7 L1027.3 379.9 L1027.3 381.4 L1027.8 381.0 L1027.8 380.9 L1028.0 380.4 L1028.3 380.9 L1028.3 380.4 L1028.8 380.5 L1028.8 380.4 L1029.0 381.0 L1029.3 380.2 L1029.3 380.2 L1029.8 380.8 L1029.8 380.3 L1030.0 380.2 L1030.3 380.0 L1030.3 380.5 L1030.8 379.7 L1030.8 380.2 L1031.0 380.8 L1031.3 380.0 L1031.3 379.5 L1031.8 379.1 L1031.8 379.7 L1032.0 379.1 L1032.1 378.9 L1032.2 379.2 L1032.3 379.0 L1032.3 379.9 L1032.4 378.8 L1032.5 380.2 L1032.6 379.1 L1032.7 379.5 L1032.8 379.7 L1032.8 379.5 L1032.9 379.7 L1033.0 378.9 L1033.1 378.3 L1033.2 379.2 L1033.3 378.5 L1033.3 379.0 L1033.4 379.7 L1033.5 379.2 L1033.6 379.0 L1033.7 378.7 L1033.8 379.1 L1033.8 379.1 L1033.9 378.5 L1034.0 379.3 L1034.1 378.7 L1034.2 379.3 L1034.3 379.0 L1034.3 379.6 L1034.4 379.6 L1034.5 379.2 L1034.6 379.1 L1034.7 379.4 L1034.8 379.8 L1034.8 379.7 L1034.9 379.3 L1035.0 379.3 L1035.1 379.9 L1035.2 378.5 L1035.3 379.5 L1035.3 378.8 L1035.4 379.9 L1035.5 379.0 L1035.6 379.2 L1035.7 378.8 L1035.8 379.3 L1035.8 379.7 L1035.9 380.1 L1036.0 378.8 L1036.1 379.2 L1036.2 381.2 L1036.3 379.8 L1036.3 379.4 L1036.4 379.7 L1036.5 378.3 L1036.6 380.2 L1036.7 379.6 L1036.8 378.9 L1036.8 380.1 L1036.9 379.3 L1037.0 379.1 L1037.1 379.9 L1037.2 379.8 L1037.3 379.5 L1037.3 379.6 L1037.4 379.1 L1037.5 379.1 L1037.6 380.2 L1037.7 380.4 L1037.8 380.0 L1037.8 380.0 L1037.9 379.7 L1038.0 379.8 L1038.3 379.6 L1038.3 380.8 L1038.8 379.9 L1038.8 380.4 L1039.0 380.2 L1039.3 379.7 L1039.3 381.2 L1039.8 380.4 L1039.8 380.2 L1040.0 380.7 L1040.3 380.3 L1040.3 380.8 L1040.8 380.5 L1040.8 381.2 L1041.0 381.0 L1041.3 380.5 L1041.3 381.6 L1041.8 381.4 L1042.0 380.9 L1042.3 381.6 L1042.8 381.8 L1043.0 382.5 L1043.3 381.4 L1043.8 382.3 L1044.0 382.0 L1044.3 382.4 L1044.8 382.1 L1045.0 382.3 L1045.3 382.6 L1045.8 382.0 L1046.0 381.6 L1046.3 382.6 L1046.8 382.5 L1047.0 382.8 L1047.3 383.1 L1047.8 382.9 L1048.0 383.5 L1048.3 383.0 L1048.8 383.2 L1049.0 383.6 L1049.3 383.5 L1049.8 383.3 L1050.0 383.4 L1050.3 383.1 L1050.8 383.2 L1051.0 383.5 L1051.3 383.9 L1051.8 383.4 L1052.0 384.0 L1052.3 384.5 L1052.8 384.6 L1053.0 383.7 L1053.3 384.2 L1053.8 384.0 L1054.0 384.1 L1054.3 384.2 L1054.8 384.0 L1055.0 384.2 L1055.3 383.9 L1055.8 383.8 L1056.0 384.0 L1056.3 384.1 L1056.8 384.5 L1057.0 384.1 L1057.3 384.3 L1057.8 384.6 L1058.0 383.6 L1058.3 383.9 L1058.8 384.3 L1059.0 384.0 L1059.3 383.6 L1059.8 384.5 L1060.0 384.0 L1060.3 383.6 L1060.8 385.0 L1061.0 383.5 L1061.3 384.1 L1061.8 383.8 L1062.0 384.2 L1062.3 384.4 L1062.8 383.8 L1063.0 384.1 L1063.3 384.1 L1063.8 383.7 L1064.0 384.7 L1064.3 384.2 L1064.8 384.0 L1065.0 383.9 L1065.3 384.0 L1065.8 384.2 L1066.0 384.0 L1066.3 384.7 L1066.8 383.0 L1067.0 383.2 L1067.3 384.1 L1067.8 383.3 L1068.0 384.1 L1068.3 383.9 L1068.8 384.4 L1069.0 384.3 L1070.0 384.7 L1071.0 384.4 L1071.1 384.6 L1071.2 384.3 L1071.3 384.5 L1071.4 384.2 L1071.5 383.7 L1071.6 383.4 L1071.7 383.4 L1071.8 384.2 L1071.9 382.8 L1072.0 384.0 L1072.1 383.5 L1072.2 384.2 L1072.3 383.9 L1072.4 383.4 L1072.5 383.8 L1072.6 382.7 L1072.7 383.8 L1072.8 383.8 L1072.9 382.7 L1073.0 383.8 L1073.1 383.2 L1073.2 383.1 L1073.3 382.1 L1073.4 382.6 L1073.5 381.9 L1073.6 380.4 L1073.7 377.6 L1073.8 373.0 L1073.9 359.5 L1074.0 341.7 L1074.1 359.3 L1074.2 372.4 L1074.3 378.1 L1074.4 380.5 L1074.5 381.6 L1074.6 383.4 L1074.7 382.8 L1074.8 382.6 L1074.9 383.4 L1075.0 382.6 L1075.1 383.4 L1075.2 383.6 L1075.3 383.1 L1075.4 383.2 L1075.5 382.9 L1075.6 383.4 L1075.7 383.1 L1075.8 384.2 L1075.9 383.7 L1076.0 383.3 L1076.1 382.7 L1076.2 384.2 L1076.3 383.9 L1076.4 383.5 L1076.5 383.3 L1076.6 383.3 L1076.7 383.0 L1076.8 384.0 L1076.9 383.2 L1077.0 382.4 L1077.4 382.6 L1077.9 381.5 L1078.0 382.9 L1078.4 382.6 L1078.9 382.5 L1079.0 382.6 L1079.0 381.2 L1079.4 381.2 L1079.5 381.3 L1079.9 380.3 L1080.0 379.5 L1080.0 380.0 L1080.4 378.5 L1080.5 378.6 L1080.5 377.8 L1080.6 377.2 L1080.7 376.6 L1080.8 376.0 L1080.9 375.2 L1081.0 374.9 L1081.0 375.0 L1081.1 374.2 L1081.2 373.6 L1081.3 372.4 L1081.4 370.9 L1081.5 369.3 L1081.5 369.5 L1081.6 368.0 L1081.7 364.9 L1081.8 362.7 L1081.9 360.0 L1082.0 358.0 L1082.0 356.9 L1082.1 352.4 L1082.2 347.8 L1082.3 340.5 L1082.4 332.5 L1082.5 325.9 L1082.5 320.8 L1082.6 306.2 L1082.7 283.8 L1082.8 251.4 L1082.9 199.1 L1083.0 152.4 L1083.0 114.0 L1084.2 114.0 L1084.3 144.7 L1084.4 173.6 L1084.5 187.9 L1084.5 195.6 L1084.6 214.9 L1084.7 231.1 L1084.8 245.1 L1084.9 255.2 L1085.0 262.0 L1085.0 267.1 L1085.1 275.5 L1085.2 283.3 L1085.3 290.9 L1085.4 296.8 L1085.5 300.3 L1085.5 303.0 L1085.6 308.4 L1085.7 312.4 L1085.8 318.1 L1085.9 320.7 L1086.0 323.5 L1086.0 326.6 L1086.1 328.5 L1086.2 332.2 L1086.3 334.4 L1086.4 337.4 L1086.5 338.8 L1086.5 339.9 L1086.6 342.7 L1086.9 349.3 L1087.0 349.9 L1087.0 350.9 L1087.4 355.9 L1087.5 357.6 L1087.9 361.9 L1088.0 362.9 L1088.0 362.4 L1088.4 365.7 L1088.5 366.8 L1088.9 369.2 L1089.0 369.3 L1089.0 369.2 L1089.4 371.3 L1089.5 371.8 L1089.9 373.6 L1090.0 373.2 L1090.0 373.4 L1090.1 374.1 L1090.2 373.7 L1090.3 374.9 L1090.4 374.8 L1090.5 374.9 L1090.5 373.9 L1090.6 374.5 L1090.7 375.0 L1090.8 375.5 L1090.9 375.5 L1091.0 376.2 L1091.0 376.2 L1091.1 376.2 L1091.2 375.6 L1091.3 377.4 L1091.4 376.8 L1091.5 377.2 L1091.5 376.7 L1091.6 377.2 L1091.7 377.6 L1091.8 377.5 L1091.9 378.0 L1092.0 377.5 L1092.0 378.5 L1092.1 376.8 L1092.2 377.4 L1092.3 378.0 L1092.4 377.3 L1092.5 377.0 L1092.5 376.3 L1092.6 377.0 L1092.7 374.5 L1092.8 373.2 L1092.9 367.4 L1093.0 360.5 L1093.0 353.3 L1093.1 333.8 L1093.2 352.5 L1093.3 367.6 L1093.4 372.8 L1093.5 375.7 L1093.5 376.0 L1093.6 377.6 L1093.7 377.9 L1093.8 378.9 L1093.9 379.0 L1094.0 379.4 L1094.0 379.1 L1094.1 380.3 L1094.2 379.7 L1094.3 379.0 L1094.4 380.6 L1094.5 380.2 L1094.5 380.0 L1094.6 381.7 L1094.7 380.6 L1094.8 380.1 L1094.9 380.5 L1095.0 381.0 L1095.0 380.8 L1095.1 381.5 L1095.2 381.5 L1095.3 380.8 L1095.4 381.2 L1095.5 381.5 L1095.5 381.1 L1095.6 381.1 L1095.7 381.8 L1095.8 381.6 L1095.9 380.9 L1096.0 381.3 L1096.0 381.4 L1096.4 381.7 L1096.5 381.5 L1096.9 382.6 L1097.0 381.6 L1097.0 381.5 L1097.4 382.3 L1097.5 381.2 L1097.9 381.9 L1098.0 382.7 L1098.0 381.8 L1098.4 382.1 L1098.5 383.0 L1098.9 382.9 L1099.0 382.7 L1099.0 382.8 L1099.4 382.5 L1099.5 383.0 L1099.9 382.8 L1100.0 384.1 L1100.0 383.2 L1100.4 382.9 L1100.5 383.0 L1100.9 383.2 L1101.0 382.5 L1101.0 382.8 L1101.4 383.9 L1101.5 382.6 L1101.9 383.0 L1102.0 383.8 L1102.0 384.0 L1102.4 382.9 L1102.5 384.0 L1102.9 383.3 L1103.0 384.2 L1103.0 383.7 L1103.4 383.4 L1103.9 383.9 L1104.0 383.8 L1104.4 383.3 L1104.9 384.7 L1105.0 383.5 L1105.4 384.3 L1105.9 383.6 L1106.0 383.0 L1106.4 383.3 L1106.9 383.8 L1107.0 384.2 L1107.4 384.7 L1107.9 384.0 L1108.0 383.8 L1108.4 383.4 L1108.9 384.0 L1109.0 384.2 L1109.4 383.0 L1109.9 384.7 L1110.0 384.6 L1110.4 385.1 L1110.9 383.7 L1111.0 384.1 L1111.4 384.2 L1111.9 383.6 L1112.0 383.8 L1112.4 383.7 L1112.9 384.4 L1113.0 384.4 L1113.4 384.8 L1113.9 384.1 L1114.0 383.6 L1114.4 384.5 L1114.9 384.4 L1115.0 384.6 L1115.4 384.9 L1115.9 384.0 L1116.0 384.7 L1116.4 383.9 L1116.9 384.4 L1117.0 384.6 L1117.4 384.3 L1117.9 384.5 L1118.0 383.7 L1119.0 384.1 L1120.0 384.5 L1121.0 383.9 L1121.4 384.0 L1121.5 385.5 L1121.6 384.5 L1121.7 384.0 L1121.8 383.9 L1121.9 385.0 L1122.0 383.1 L1122.1 384.2 L1122.2 384.6 L1122.3 384.1 L1122.4 384.5 L1122.5 383.8 L1122.6 384.3 L1122.7 384.3 L1122.8 384.2 L1122.9 384.3 L1123.0 384.2 L1123.1 384.6 L1123.2 383.9 L1123.3 383.7 L1123.4 383.8 L1123.5 383.6 L1123.6 382.9 L1123.7 382.5 L1123.8 382.4 L1123.9 382.5 L1124.0 381.0 L1124.1 379.0 L1124.2 375.6 L1124.3 362.3 L1124.4 346.0 L1124.5 361.5 L1124.6 374.9 L1124.7 378.8 L1124.8 381.8 L1124.9 382.6 L1125.0 383.6 L1125.1 383.0 L1125.2 384.0 L1125.3 383.0 L1125.4 383.8 L1125.5 384.5 L1125.6 384.4 L1125.7 383.3 L1125.8 384.5 L1125.9 384.4 L1126.0 384.2 L1126.1 384.0 L1126.2 384.2 L1126.3 384.1 L1126.4 384.8 L1126.5 384.6 L1126.6 384.8 L1126.7 384.7 L1126.8 383.8 L1126.9 384.5 L1127.0 385.4 L1127.1 383.9 L1127.2 384.5 L1127.3 384.1 L1128.0 384.1 L1129.0 384.6 L1130.0 384.9 L1131.0 384.9 L1132.0 384.7 L1132.1 384.9 L1132.2 383.8 L1132.3 384.9 L1132.4 384.7 L1132.5 384.4 L1132.6 384.5 L1132.7 384.1 L1132.8 385.0 L1132.9 384.2 L1133.0 383.8 L1133.1 384.5 L1133.2 384.2 L1133.3 384.5 L1133.4 385.2 L1133.5 384.4 L1133.6 384.5 L1133.7 385.5 L1133.8 383.8 L1133.9 384.6 L1134.0 384.9 L1134.1 385.1 L1134.2 385.3 L1134.3 384.0 L1134.4 384.4 L1134.5 383.9 L1134.6 383.5 L1134.7 382.7 L1134.8 381.0 L1134.9 378.3 L1135.0 374.0 L1135.1 377.7 L1135.2 382.0 L1135.3 382.8 L1135.4 383.2 L1135.5 382.8 L1135.6 384.7 L1135.7 384.6 L1135.8 384.2 L1135.9 384.2 L1136.0 383.8 L1136.1 384.7 L1136.2 384.4 L1136.3 384.7 L1136.4 384.6 L1136.5 383.9 L1136.6 383.8 L1136.7 384.7 L1136.8 383.8 L1136.9 384.7 L1137.0 385.0 L1137.1 384.0 L1137.2 384.9 L1137.3 384.6 L1137.4 384.8 L1137.5 384.3 L1137.6 384.6 L1137.7 384.8 L1137.8 385.4 L1137.9 384.9 L1138.0 384.8 L1139.0 384.0 L1140.0 384.8 L1141.0 384.3 L1142.0 384.6 L1143.0 384.8 L1144.0 385.1 L1145.0 384.9 L1146.0 384.8 L1147.0 384.7 L1148.0 385.3 L1149.0 384.3 L1150.0 384.7 L1151.0 385.3 L1152.0 384.6 L1153.0 385.1 L1154.0 385.1 L1155.0 385.6 L1156.0 385.2 L1157.0 384.0 L1158.0 384.7 L1159.0 384.9 L1160.0 385.1 L1161.0 384.9 L1162.0 385.6 L1163.0 385.2 L1164.0 384.2 L1165.0 384.5 L1166.0 383.8 L1167.0 385.5 L1168.0 384.7 L1169.0 384.7 L1170.0 384.0 L1171.0 384.5 L1172.0 384.9 L1173.0 384.6 L1174.0 384.6 L1175.0 384.5 L1176.0 385.6 L1177.0 384.5 L1178.0 384.1 L1179.0 384.5 L1180.0 384.6 L1181.0 384.7 L1182.0 384.6 L1183.0 384.2 L1184.0 384.6 L1185.0 384.9 L1186.0 384.1 L1187.0 385.6 L1188.0 385.5 L1189.0 383.9 L1190.0 384.6 L1191.0 385.2 L1192.0 385.3 L1193.0 385.5 L1194.0 383.9 L1195.0 384.2 L1196.0 384.5 L1197.0 385.0 L1198.0 384.2 L1199.0 384.9 L1200.0 384.9 L1201.0 385.1 L1202.0 384.2 L1203.0 384.8 L1204.0 384.8 L1205.0 384.5 L1206.0 385.3 L1206.1 384.6 L1206.2 385.4 L1206.3 384.5 L1206.4 385.5 L1206.5 385.5 L1206.6 384.3 L1206.7 384.9 L1206.8 384.9 L1206.9 384.3 L1207.0 385.1 L1207.1 385.0 L1207.2 384.3 L1207.3 384.7 L1207.4 385.1 L1207.5 384.6 L1207.6 384.3 L1207.7 385.4 L1207.8 384.2 L1207.9 384.7 L1208.0 385.0 L1208.1 384.8 L1208.2 383.5 L1208.3 384.1 L1208.4 384.0 L1208.5 383.7 L1208.6 383.7 L1208.7 383.0 L1208.8 381.6 L1208.9 380.0 L1209.0 379.4 L1209.1 380.5 L1209.2 380.7 L1209.3 383.7 L1209.4 383.2 L1209.5 384.2 L1209.6 383.4 L1209.7 384.1 L1209.8 383.8 L1209.9 385.0 L1210.0 385.0 L1210.1 384.6 L1210.2 384.6 L1210.3 384.8 L1210.4 384.3 L1210.5 384.4 L1210.6 384.4 L1210.7 385.1 L1210.8 384.7 L1210.9 384.2 L1211.0 384.9 L1211.1 385.0 L1211.2 385.4 L1211.3 384.5 L1211.4 385.0 L1211.5 385.7 L1211.6 384.6 L1211.7 384.6 L1211.8 385.0 L1211.9 384.6 L1212.0 384.8 L1213.0 384.6 L1213.1 384.4 L1213.2 385.2 L1213.3 384.6 L1213.4 384.3 L1213.5 384.6 L1213.6 384.7 L1213.7 384.9 L1213.8 385.2 L1213.9 385.6 L1214.0 384.2 L1214.1 384.6 L1214.2 383.9 L1214.3 384.8 L1214.4 384.9 L1214.5 384.4 L1214.6 384.3 L1214.7 384.2 L1214.8 383.9 L1214.9 384.9 L1215.0 385.4 L1215.1 384.0 L1215.2 385.1 L1215.3 384.2 L1215.4 383.5 L1215.5 384.1 L1215.6 383.8 L1215.7 382.9 L1215.8 381.5 L1215.9 380.7 L1216.0 378.8 L1216.1 380.2 L1216.2 381.9 L1216.3 382.3 L1216.4 382.6 L1216.5 383.1 L1216.6 383.9 L1216.7 384.4 L1216.8 383.6 L1216.9 384.1 L1217.0 385.2 L1217.1 383.8 L1217.2 384.8 L1217.3 384.8 L1217.4 385.0 L1217.5 384.0 L1217.6 384.8 L1217.7 384.1 L1217.8 385.3 L1217.9 384.3 L1218.0 384.9 L1218.1 384.4 L1218.2 384.8 L1218.3 384.0 L1218.4 384.9 L1218.5 385.0 L1218.6 384.8 L1218.7 385.5 L1218.8 384.9 L1218.9 385.1 L1219.0 385.0 L1220.0 385.6 L1221.0 384.5 L1222.0 384.7 L1223.0 384.7 L1224.0 385.1 L1225.0 384.9 L1226.0 385.2 L1227.0 384.9 L1228.0 384.6 L1229.0 384.8 L1230.0 385.0 L1231.0 383.8 L1232.0 385.4 L1233.0 384.6 L1234.0 384.7 L1235.0 384.9 L1236.0 384.7 L1237.0 384.2 L1238.0 384.7 L1239.0 385.5 L1240.0 385.3 L1241.0 385.4 L1242.0 384.6 L1243.0 384.7 L1244.0 385.3 L1245.0 385.5 L1246.0 384.9 L1247.0 384.4 L1248.0 384.0 L1249.0 385.5 L1250.0 384.1 L1251.0 385.0 L1252.0 385.3 L1253.0 386.3 L1254.0 384.9 L1255.0 384.8 L1256.0 385.1 L1257.0 385.1 L1258.0 385.5 L1259.0 385.2 L1260.0 384.5 L1261.0 383.9 L1262.0 385.0 L1263.0 384.5 L1264.0 385.5 L1265.0 384.3" fill="none" stroke="#151515" stroke-linejoin="round"/></defs>
<use href="#sp1" stroke-width="1.6"/>
<clipPath id="bc1"><rect x="24" y="378.1" width="1246" height="13.0"/></clipPath>
<use href="#sp1" stroke-width="2.8" clip-path="url(#bc1)"/>
<text transform="translate(68.8,298) rotate(-90)" font-size="22.6" fill="#2b2d5e" stroke="#2b2d5e" stroke-width="0.35">12.734</text>
<text transform="translate(338.4,82.3) rotate(-90)" font-size="22.6" fill="#2b2d5e" stroke="#2b2d5e" stroke-width="0.35">10.035</text>
<text transform="translate(531.6,202.2) rotate(-90)" font-size="22.6" fill="#2b2d5e" stroke="#2b2d5e" stroke-width="0.35">7.976</text>
<text transform="translate(544.7,133.8) rotate(-90)" font-size="22.6" fill="#2b2d5e" stroke="#2b2d5e" stroke-width="0.35">7.964</text>
<text transform="translate(563.4,225.3) rotate(-90)" font-size="22.6" fill="#2b2d5e" stroke="#2b2d5e" stroke-width="0.35">7.899</text>
<text transform="translate(570.7,163.3) rotate(-90)" font-size="22.6" fill="#2b2d5e" stroke="#2b2d5e" stroke-width="0.35">7.911</text>
<text transform="translate(585,284.1) rotate(-90)" font-size="22.6" fill="#2b2d5e" stroke="#2b2d5e" stroke-width="0.35">7.514</text>
<text transform="translate(598.1,166) rotate(-90)" font-size="22.6" fill="#2b2d5e" stroke="#2b2d5e" stroke-width="0.35">7.436</text>
<text transform="translate(623.9,198.4) rotate(-90)" font-size="22.6" fill="#2b2d5e" stroke="#2b2d5e" stroke-width="0.35">7.413</text>
<text transform="translate(630.2,290.3) rotate(-90)" font-size="22.6" fill="#2b2d5e" stroke="#2b2d5e" stroke-width="0.35">7.234</text>
<text transform="translate(655.9,298.8) rotate(-90)" font-size="22.6" fill="#2b2d5e" stroke="#2b2d5e" stroke-width="0.35">7.224</text>
<text transform="translate(680.8,295.8) rotate(-90)" font-size="22.6" fill="#2b2d5e" stroke="#2b2d5e" stroke-width="0.35">7.205</text>
<text transform="translate(706.8,287.5) rotate(-90)" font-size="22.6" fill="#2b2d5e" stroke="#2b2d5e" stroke-width="0.35">7.193</text>
<path d="M60.9 300 L60.9 322" fill="none" stroke="#3a3b5c" stroke-width="1.25" />
<path d="M330.5 85 L330.5 105" fill="none" stroke="#3a3b5c" stroke-width="1.25" />
<path d="M523.7 204 L523.7 209 L536.5 219" fill="none" stroke="#3a3b5c" stroke-width="1.25" />
<path d="M537 135 L537 153" fill="none" stroke="#3a3b5c" stroke-width="1.25" />
<path d="M555.5 227 L555.5 232 L544 240" fill="none" stroke="#3a3b5c" stroke-width="1.25" />
<path d="M562.8 165 L562.8 171 L544 176" fill="none" stroke="#3a3b5c" stroke-width="1.25" />
<path d="M577.1 286 L577.1 291 L582 296" fill="none" stroke="#3a3b5c" stroke-width="1.25" />
<path d="M590.2 168 L590.2 192" fill="none" stroke="#3a3b5c" stroke-width="1.25" />
<path d="M616 200 L616 205 L592.5 213" fill="none" stroke="#3a3b5c" stroke-width="1.25" />
<path d="M622.3 292 L622.3 298 L614.5 304" fill="none" stroke="#3a3b5c" stroke-width="1.25" />
<path d="M648 300 L648 308 L614.5 316" fill="none" stroke="#3a3b5c" stroke-width="1.25" />
<path d="M672.9 297 L672.9 304 L614.5 312" fill="none" stroke="#3a3b5c" stroke-width="1.25" />
<path d="M698.9 289 L698.9 297 L614.5 309" fill="none" stroke="#3a3b5c" stroke-width="1.25" />
<text x="61.6" y="413.6" font-size="22.5" fill="#bb5f69" text-anchor="middle" >1.38</text>
<text x="330.8" y="413.6" font-size="22.5" fill="#bb5f69" text-anchor="middle" >1.00</text>
<text x="422.3" y="413.6" font-size="22.5" fill="#bb5f69" text-anchor="middle" >2.27</text>
<text x="471.5" y="413.6" font-size="22.5" fill="#bb5f69" text-anchor="middle" >2.34</text>
<text x="521.8" y="413.6" font-size="22.5" fill="#bb5f69" text-anchor="middle" >1.25</text>
<text x="571" y="413.6" font-size="22.5" fill="#bb5f69" text-anchor="middle" >1.14</text>
<text x="620.1" y="413.6" font-size="22.5" fill="#bb5f69" text-anchor="middle" >1.16</text>
<text x="669.2" y="413.6" font-size="22.5" fill="#bb5f69" text-anchor="middle" >1.12</text>
<text x="717.8" y="413.6" font-size="22.5" fill="#bb5f69" text-anchor="middle" >2.51</text>
<path d="M422.5 390 L422.5 393 L471.5 392.3 L521.8 391.5 L537 390 L540 389" fill="none" stroke="#d9878e" stroke-width="1.2" />
<line x1="471.5" y1="390" x2="471.5" y2="393" stroke="#d9878e" stroke-width="1.2" />
<line x1="521.8" y1="390" x2="521.8" y2="393" stroke="#d9878e" stroke-width="1.2" />
<path d="M543 386 L543 390.5 L559 390.5 L559 386" fill="none" stroke="#d9878e" stroke-width="1.1" />
<path d="M583 386 L583 390 L591.7 390.5 L591.7 386" fill="none" stroke="#d9878e" stroke-width="1.1" />
<path d="M591.7 390.5 L612.3 391.5 L612.3 386" fill="none" stroke="#d9878e" stroke-width="1.1" />
<path d="M612.3 391.5 L620.1 392 L669.2 392 L717.8 392 L717.8 395" fill="none" stroke="#d9878e" stroke-width="1.2" />
<line x1="620.1" y1="392" x2="620.1" y2="395" stroke="#d9878e" stroke-width="1.2" />
<line x1="669.2" y1="392" x2="669.2" y2="395" stroke="#d9878e" stroke-width="1.2" />
<line x1="59" y1="418.5" x2="59" y2="436" stroke="#c9535e" stroke-width="1.4" />
<line x1="64.2" y1="418.5" x2="64.2" y2="436" stroke="#c9535e" stroke-width="1.4" />
<rect x="58.2" y="431.5" width="6.8" height="4" fill="#c9535e"/>
<line x1="330.8" y1="418" x2="330.8" y2="436" stroke="#c9535e" stroke-width="2.2" />
<line x1="419.7" y1="418.5" x2="419.7" y2="436" stroke="#c9535e" stroke-width="1.4" />
<line x1="424.9" y1="418.5" x2="424.9" y2="436" stroke="#c9535e" stroke-width="1.4" />
<rect x="418.9" y="431.5" width="6.8" height="4" fill="#c9535e"/>
<line x1="468.9" y1="418.5" x2="468.9" y2="436" stroke="#c9535e" stroke-width="1.4" />
<line x1="474.1" y1="418.5" x2="474.1" y2="436" stroke="#c9535e" stroke-width="1.4" />
<rect x="468.1" y="431.5" width="6.8" height="4" fill="#c9535e"/>
<line x1="519.2" y1="418.5" x2="519.2" y2="436" stroke="#c9535e" stroke-width="1.4" />
<line x1="524.4" y1="418.5" x2="524.4" y2="436" stroke="#c9535e" stroke-width="1.4" />
<rect x="518.4" y="431.5" width="6.8" height="4" fill="#c9535e"/>
<line x1="568.4" y1="418.5" x2="568.4" y2="436" stroke="#c9535e" stroke-width="1.4" />
<line x1="573.6" y1="418.5" x2="573.6" y2="436" stroke="#c9535e" stroke-width="1.4" />
<rect x="567.6" y="431.5" width="6.8" height="4" fill="#c9535e"/>
<line x1="617.5" y1="418.5" x2="617.5" y2="436" stroke="#c9535e" stroke-width="1.4" />
<line x1="622.7" y1="418.5" x2="622.7" y2="436" stroke="#c9535e" stroke-width="1.4" />
<rect x="616.7" y="431.5" width="6.8" height="4" fill="#c9535e"/>
<line x1="666.6" y1="418.5" x2="666.6" y2="436" stroke="#c9535e" stroke-width="1.4" />
<line x1="671.8" y1="418.5" x2="671.8" y2="436" stroke="#c9535e" stroke-width="1.4" />
<rect x="665.8" y="431.5" width="6.8" height="4" fill="#c9535e"/>
<line x1="715.2" y1="418.5" x2="715.2" y2="436" stroke="#c9535e" stroke-width="1.4" />
<line x1="720.4" y1="418.5" x2="720.4" y2="436" stroke="#c9535e" stroke-width="1.4" />
<rect x="714.4" y="431.5" width="6.8" height="4" fill="#c9535e"/>
<line x1="29" y1="445" x2="1265" y2="445" stroke="#3c3c3c" stroke-width="1.6"/>
<path d="M1262.4 445.0V449.5 M1257.4 445.0V452.0 M1252.4 445.0V449.5 M1247.4 445.0V449.5 M1242.4 445.0V449.5 M1237.5 445.0V449.5 M1232.5 445.0V453.5 M1227.5 445.0V449.5 M1222.5 445.0V449.5 M1217.5 445.0V449.5 M1212.5 445.0V449.5 M1207.5 445.0V452.0 M1202.5 445.0V449.5 M1197.5 445.0V449.5 M1192.5 445.0V449.5 M1187.5 445.0V449.5 M1182.5 445.0V453.5 M1177.5 445.0V449.5 M1172.5 445.0V449.5 M1167.6 445.0V449.5 M1162.6 445.0V449.5 M1157.6 445.0V452.0 M1152.6 445.0V449.5 M1147.6 445.0V449.5 M1142.6 445.0V449.5 M1137.6 445.0V449.5 M1132.6 445.0V453.5 M1127.6 445.0V449.5 M1122.6 445.0V449.5 M1117.6 445.0V449.5 M1112.6 445.0V449.5 M1107.6 445.0V452.0 M1102.6 445.0V449.5 M1097.6 445.0V449.5 M1092.7 445.0V449.5 M1087.7 445.0V449.5 M1082.7 445.0V453.5 M1077.7 445.0V449.5 M1072.7 445.0V449.5 M1067.7 445.0V449.5 M1062.7 445.0V449.5 M1057.7 445.0V452.0 M1052.7 445.0V449.5 M1047.7 445.0V449.5 M1042.7 445.0V449.5 M1037.7 445.0V449.5 M1032.7 445.0V453.5 M1027.7 445.0V449.5 M1022.8 445.0V449.5 M1017.8 445.0V449.5 M1012.8 445.0V449.5 M1007.8 445.0V452.0 M1002.8 445.0V449.5 M997.8 445.0V449.5 M992.8 445.0V449.5 M987.8 445.0V449.5 M982.8 445.0V453.5 M977.8 445.0V449.5 M972.8 445.0V449.5 M967.8 445.0V449.5 M962.8 445.0V449.5 M957.8 445.0V452.0 M952.9 445.0V449.5 M947.9 445.0V449.5 M942.9 445.0V449.5 M937.9 445.0V449.5 M932.9 445.0V453.5 M927.9 445.0V449.5 M922.9 445.0V449.5 M917.9 445.0V449.5 M912.9 445.0V449.5 M907.9 445.0V452.0 M902.9 445.0V449.5 M897.9 445.0V449.5 M892.9 445.0V449.5 M887.9 445.0V449.5 M883.0 445.0V453.5 M878.0 445.0V449.5 M873.0 445.0V449.5 M868.0 445.0V449.5 M863.0 445.0V449.5 M858.0 445.0V452.0 M853.0 445.0V449.5 M848.0 445.0V449.5 M843.0 445.0V449.5 M838.0 445.0V449.5 M833.0 445.0V453.5 M828.0 445.0V449.5 M823.0 445.0V449.5 M818.0 445.0V449.5 M813.0 445.0V449.5 M808.1 445.0V452.0 M803.1 445.0V449.5 M798.1 445.0V449.5 M793.1 445.0V449.5 M788.1 445.0V449.5 M783.1 445.0V453.5 M778.1 445.0V449.5 M773.1 445.0V449.5 M768.1 445.0V449.5 M763.1 445.0V449.5 M758.1 445.0V452.0 M753.1 445.0V449.5 M748.1 445.0V449.5 M743.1 445.0V449.5 M738.2 445.0V449.5 M733.2 445.0V453.5 M728.2 445.0V449.5 M723.2 445.0V449.5 M718.2 445.0V449.5 M713.2 445.0V449.5 M708.2 445.0V452.0 M703.2 445.0V449.5 M698.2 445.0V449.5 M693.2 445.0V449.5 M688.2 445.0V449.5 M683.2 445.0V453.5 M678.2 445.0V449.5 M673.2 445.0V449.5 M668.3 445.0V449.5 M663.3 445.0V449.5 M658.3 445.0V452.0 M653.3 445.0V449.5 M648.3 445.0V449.5 M643.3 445.0V449.5 M638.3 445.0V449.5 M633.3 445.0V453.5 M628.3 445.0V449.5 M623.3 445.0V449.5 M618.3 445.0V449.5 M613.3 445.0V449.5 M608.3 445.0V452.0 M603.3 445.0V449.5 M598.3 445.0V449.5 M593.4 445.0V449.5 M588.4 445.0V449.5 M583.4 445.0V453.5 M578.4 445.0V449.5 M573.4 445.0V449.5 M568.4 445.0V449.5 M563.4 445.0V449.5 M558.4 445.0V452.0 M553.4 445.0V449.5 M548.4 445.0V449.5 M543.4 445.0V449.5 M538.4 445.0V449.5 M533.4 445.0V453.5 M528.4 445.0V449.5 M523.5 445.0V449.5 M518.5 445.0V449.5 M513.5 445.0V449.5 M508.5 445.0V452.0 M503.5 445.0V449.5 M498.5 445.0V449.5 M493.5 445.0V449.5 M488.5 445.0V449.5 M483.5 445.0V453.5 M478.5 445.0V449.5 M473.5 445.0V449.5 M468.5 445.0V449.5 M463.5 445.0V449.5 M458.5 445.0V452.0 M453.6 445.0V449.5 M448.6 445.0V449.5 M443.6 445.0V449.5 M438.6 445.0V449.5 M433.6 445.0V453.5 M428.6 445.0V449.5 M423.6 445.0V449.5 M418.6 445.0V449.5 M413.6 445.0V449.5 M408.6 445.0V452.0 M403.6 445.0V449.5 M398.6 445.0V449.5 M393.6 445.0V449.5 M388.6 445.0V449.5 M383.6 445.0V453.5 M378.7 445.0V449.5 M373.7 445.0V449.5 M368.7 445.0V449.5 M363.7 445.0V449.5 M358.7 445.0V452.0 M353.7 445.0V449.5 M348.7 445.0V449.5 M343.7 445.0V449.5 M338.7 445.0V449.5 M333.7 445.0V453.5 M328.7 445.0V449.5 M323.7 445.0V449.5 M318.7 445.0V449.5 M313.7 445.0V449.5 M308.8 445.0V452.0 M303.8 445.0V449.5 M298.8 445.0V449.5 M293.8 445.0V449.5 M288.8 445.0V449.5 M283.8 445.0V453.5 M278.8 445.0V449.5 M273.8 445.0V449.5 M268.8 445.0V449.5 M263.8 445.0V449.5 M258.8 445.0V452.0 M253.8 445.0V449.5 M248.8 445.0V449.5 M243.8 445.0V449.5 M238.9 445.0V449.5 M233.9 445.0V453.5 M228.9 445.0V449.5 M223.9 445.0V449.5 M218.9 445.0V449.5 M213.9 445.0V449.5 M208.9 445.0V452.0 M203.9 445.0V449.5 M198.9 445.0V449.5 M193.9 445.0V449.5 M188.9 445.0V449.5 M183.9 445.0V453.5 M178.9 445.0V449.5 M173.9 445.0V449.5 M169.0 445.0V449.5 M164.0 445.0V449.5 M159.0 445.0V452.0 M154.0 445.0V449.5 M149.0 445.0V449.5 M144.0 445.0V449.5 M139.0 445.0V449.5 M134.0 445.0V453.5 M129.0 445.0V449.5 M124.0 445.0V449.5 M119.0 445.0V449.5 M114.0 445.0V449.5 M109.0 445.0V452.0 M104.0 445.0V449.5 M99.0 445.0V449.5 M94.1 445.0V449.5 M89.1 445.0V449.5 M84.1 445.0V453.5 M79.1 445.0V449.5 M74.1 445.0V449.5 M69.1 445.0V449.5 M64.1 445.0V449.5 M59.1 445.0V452.0 M54.1 445.0V449.5 M49.1 445.0V449.5 M44.1 445.0V449.5 M39.1 445.0V449.5 M34.1 445.0V453.5 M29.1 445.0V449.5 M29.0 445.0V449.5 M1265.0 445.0V449.5" stroke="#3c3c3c" stroke-width="1.5" fill="none"/>
<text x="135.7" y="477.2" font-size="19.5" fill="#333333" text-anchor="middle" >12.0</text>
<text x="238.2" y="477.2" font-size="19.5" fill="#333333" text-anchor="middle" >11.0</text>
<text x="339" y="477.2" font-size="19.5" fill="#333333" text-anchor="middle" >10.0</text>
<text x="436" y="477.2" font-size="19.5" fill="#333333" text-anchor="middle" >9.0</text>
<text x="535.6" y="477.2" font-size="19.5" fill="#333333" text-anchor="middle" >8.0</text>
<text x="634.1" y="477.2" font-size="19.5" fill="#333333" text-anchor="middle" >7.0</text>
<text x="733.2" y="477.2" font-size="19.5" fill="#333333" text-anchor="middle" >6.0</text>
<text x="836.8" y="477.2" font-size="19.5" fill="#333333" text-anchor="middle" >5.0</text>
<text x="934.1" y="477.2" font-size="19.5" fill="#333333" text-anchor="middle" >4.0</text>
<text x="1034.7" y="477.2" font-size="19.5" fill="#333333" text-anchor="middle" >3.0</text>
<text x="1134.5" y="477.2" font-size="19.5" fill="#333333" text-anchor="middle" >2.0</text>
<text x="1234.7" y="477.2" font-size="19.5" fill="#333333" text-anchor="middle" >1.0</text>
<text x="61" y="611.7" font-size="44.5" fill="#111" text-anchor="start" >b - BOx</text>
<text x="1071.3" y="560.3" font-size="20.2" fill="#333333">H<tspan font-size="15" dy="4.5">2</tspan><tspan dy="-4.5">O</tspan></text>
<text x="1163.8" y="560.3" font-size="20.2" fill="#333333" text-anchor="start" >DMSO</text>
<rect x="1078.6" y="579" width="5.4" height="323" fill="#f0f0dc"/>
<rect x="1210.5" y="579" width="3.2" height="323" fill="#f0f0dc"/>
<path d="M48.5 897 L50.2 860 L51.4 836" fill="none" stroke="#c9535e" stroke-width="1.35" />
<path d="M356.2 897 L357.2 800 L358.5 782 L361 773 L363.2 769.5 L366.5 771 L368.2 776" fill="none" stroke="#c9535e" stroke-width="1.35" />
<path d="M368.6 897 L369.8 800 L371.8 773" fill="none" stroke="#c9535e" stroke-width="1.35" />
<path d="M376.3 897 L377.6 850 L379.7 830 L383.4 823" fill="none" stroke="#c9535e" stroke-width="1.35" />
<path d="M397.3 897 L399.5 860 L404.8 850" fill="none" stroke="#c9535e" stroke-width="1.35" />
<path d="M434.3 897 L436 850 L440 829" fill="none" stroke="#c9535e" stroke-width="1.35" />
<path d="M448.6 897 L452.6 840 L458 776" fill="none" stroke="#c9535e" stroke-width="1.35" />
<defs><path id="sp2" d="M24.4 896.8 L25.4 896.6 L26.4 896.5 L27.4 897.3 L28.4 896.8 L29.4 896.7 L30.4 897.0 L31.4 896.5 L32.4 896.7 L33.4 896.6 L34.4 897.4 L35.4 896.9 L36.4 897.0 L37.4 897.1 L38.4 896.7 L39.4 896.7 L40.4 896.2 L41.4 896.8 L42.4 896.7 L43.4 896.5 L44.4 896.9 L45.0 895.9 L45.4 896.6 L45.5 896.0 L46.0 896.0 L46.4 896.1 L46.5 896.6 L46.8 895.6 L46.9 895.7 L47.0 895.6 L47.0 896.5 L47.1 896.0 L47.2 895.9 L47.3 896.3 L47.4 895.7 L47.5 894.9 L47.5 895.3 L47.6 895.0 L47.7 895.8 L47.8 894.6 L47.9 895.0 L48.0 894.6 L48.0 894.5 L48.1 894.4 L48.2 894.0 L48.3 893.5 L48.4 892.9 L48.5 892.8 L48.5 892.4 L48.6 891.8 L48.7 891.2 L48.8 890.0 L48.9 888.7 L49.0 887.5 L49.0 887.1 L49.1 883.4 L49.2 879.2 L49.3 873.4 L49.4 862.6 L49.5 855.5 L49.5 846.0 L49.6 816.8 L49.7 775.6 L49.8 751.0 L49.9 775.8 L50.0 796.9 L50.0 816.4 L50.1 845.6 L50.2 862.3 L50.3 872.8 L50.4 879.1 L50.5 881.9 L50.5 883.9 L50.6 886.3 L50.7 888.4 L50.8 889.7 L50.9 890.7 L51.0 891.5 L51.0 892.2 L51.1 892.9 L51.2 893.5 L51.3 893.6 L51.4 893.2 L51.5 894.5 L51.5 894.8 L51.6 894.9 L51.7 895.1 L51.8 895.4 L51.9 896.0 L52.0 895.4 L52.0 895.8 L52.1 895.7 L52.2 895.8 L52.3 895.6 L52.4 895.7 L52.5 895.4 L52.5 896.0 L52.6 895.8 L52.7 895.6 L53.0 895.9 L53.4 895.9 L53.5 896.8 L54.0 896.3 L54.4 896.5 L54.5 896.1 L55.4 896.3 L56.4 897.0 L57.4 896.6 L58.4 896.8 L59.4 897.3 L60.4 897.4 L61.4 897.0 L62.4 896.9 L63.4 896.8 L64.4 896.7 L65.4 897.4 L66.4 896.4 L67.4 896.7 L68.4 896.2 L69.4 896.4 L70.4 896.9 L71.4 896.9 L72.4 896.9 L73.4 896.7 L74.4 896.6 L75.4 896.6 L76.4 896.7 L77.4 897.1 L77.8 897.2 L77.9 896.9 L78.0 896.6 L78.1 896.5 L78.2 896.8 L78.3 896.7 L78.4 896.2 L78.5 897.2 L78.6 896.7 L78.7 896.6 L78.8 896.5 L78.9 896.4 L79.0 897.0 L79.1 896.4 L79.2 896.7 L79.3 896.9 L79.4 897.2 L79.5 896.8 L79.6 896.6 L79.7 896.4 L79.8 896.8 L79.9 896.8 L80.0 896.3 L80.1 896.5 L80.2 896.1 L80.3 895.4 L80.4 895.2 L80.5 895.2 L80.6 894.3 L80.7 892.5 L80.8 891.3 L80.9 892.1 L81.0 894.0 L81.1 895.0 L81.2 895.0 L81.3 896.1 L81.4 895.9 L81.5 896.5 L81.6 896.6 L81.7 896.7 L81.8 896.9 L81.9 896.8 L82.0 896.3 L82.1 896.3 L82.2 897.0 L82.3 896.8 L82.4 896.2 L82.5 896.1 L82.6 897.0 L82.7 897.4 L82.8 897.0 L82.9 896.7 L83.0 896.8 L83.1 895.9 L83.2 896.4 L83.3 897.1 L83.4 897.0 L83.5 896.1 L83.6 897.1 L83.7 896.9 L84.4 897.1 L85.4 896.7 L86.4 896.8 L87.4 896.5 L88.4 896.9 L89.4 897.1 L90.4 896.5 L91.4 896.9 L92.4 896.6 L93.4 897.1 L94.4 897.1 L95.4 896.1 L96.4 896.9 L97.4 897.1 L98.4 896.6 L99.4 896.7 L100.4 896.7 L101.4 896.4 L102.4 896.8 L103.4 897.3 L104.4 896.9 L105.4 897.3 L106.4 897.1 L107.4 897.2 L108.4 896.8 L109.4 897.0 L110.4 897.4 L111.4 897.3 L112.4 896.9 L113.4 896.6 L114.4 896.5 L115.4 896.9 L116.4 896.9 L117.4 896.2 L118.4 896.9 L119.4 896.9 L120.4 896.9 L121.4 896.6 L122.4 897.5 L123.4 897.1 L124.4 896.4 L125.4 896.6 L126.4 897.0 L127.4 897.0 L128.4 896.8 L129.4 896.8 L130.4 896.7 L131.4 896.7 L132.4 896.5 L133.4 897.0 L134.4 895.9 L135.4 896.6 L136.4 897.2 L137.4 896.5 L138.4 896.4 L139.4 897.4 L140.4 897.1 L141.4 896.7 L142.4 896.6 L143.4 896.7 L144.4 896.7 L145.4 896.7 L146.4 896.6 L147.4 897.0 L148.4 896.6 L149.4 896.2 L150.4 896.4 L151.4 896.8 L152.4 896.5 L153.4 896.0 L154.4 897.2 L155.4 896.9 L156.4 896.6 L157.4 896.6 L158.4 896.9 L159.4 897.2 L160.4 896.6 L161.4 896.9 L162.4 896.6 L163.4 896.9 L164.4 896.4 L165.4 896.2 L166.4 896.8 L167.4 896.8 L168.4 897.0 L169.4 896.6 L170.4 897.2 L171.4 896.8 L172.4 897.3 L173.4 896.7 L174.4 897.2 L175.4 896.8 L176.4 896.8 L177.4 897.1 L178.4 896.2 L179.4 896.4 L180.4 897.3 L181.4 896.3 L182.4 896.6 L183.4 896.9 L184.4 897.2 L185.4 896.6 L186.4 896.8 L187.4 896.4 L188.4 896.7 L189.4 897.1 L190.4 896.9 L191.4 896.8 L192.4 896.9 L193.4 896.8 L194.4 896.8 L195.4 896.7 L196.4 896.5 L197.4 897.0 L198.4 896.4 L199.4 897.1 L200.4 897.4 L201.4 897.3 L202.4 897.5 L203.4 896.5 L204.4 896.9 L205.4 896.5 L206.4 896.6 L207.4 896.3 L208.4 896.4 L209.4 897.0 L210.4 897.0 L211.4 897.2 L212.4 897.1 L213.4 897.0 L214.4 896.5 L215.4 896.8 L216.4 897.0 L217.4 897.2 L218.4 896.7 L219.4 896.6 L220.4 896.7 L221.4 897.3 L222.4 897.0 L223.4 896.7 L224.4 896.6 L225.4 896.9 L226.4 896.3 L227.4 896.7 L228.4 896.6 L229.4 896.6 L230.4 896.9 L231.4 896.9 L232.4 897.7 L233.4 896.8 L234.4 897.0 L235.4 896.5 L236.4 896.3 L237.4 897.2 L238.4 897.4 L239.4 896.5 L240.4 896.8 L241.4 897.1 L242.4 896.8 L243.4 896.1 L244.4 897.1 L245.4 896.8 L246.4 897.0 L247.4 896.5 L248.4 897.1 L249.4 897.1 L250.4 896.6 L251.4 897.0 L252.4 896.6 L253.4 896.6 L254.4 896.5 L255.4 896.7 L256.4 896.6 L257.4 897.2 L258.4 896.7 L259.4 896.5 L260.4 897.2 L261.4 897.0 L262.4 897.1 L263.4 896.8 L264.4 897.0 L265.4 896.8 L266.4 896.5 L267.4 896.8 L268.4 896.8 L269.4 896.8 L270.4 897.1 L271.4 896.3 L272.4 896.9 L273.4 896.6 L274.4 896.7 L275.4 896.9 L276.4 896.8 L277.4 896.6 L278.4 897.0 L279.4 896.8 L280.4 897.1 L281.4 897.2 L282.4 896.7 L283.4 896.5 L284.4 896.8 L285.4 897.1 L286.4 896.9 L287.4 896.5 L288.4 896.3 L289.4 896.5 L290.4 896.5 L291.4 897.0 L292.4 896.8 L293.4 897.1 L294.4 896.8 L295.4 897.3 L296.4 896.8 L297.4 897.0 L298.4 896.7 L299.4 896.9 L300.4 897.1 L301.4 897.1 L302.4 897.2 L303.4 896.6 L304.4 897.0 L305.4 897.3 L306.4 896.9 L307.4 896.8 L308.4 896.7 L309.4 896.7 L310.4 896.9 L311.4 897.2 L312.4 897.0 L313.4 896.8 L314.4 896.6 L315.4 896.5 L316.4 897.5 L317.4 896.7 L318.4 896.8 L319.4 896.7 L320.4 896.9 L321.4 896.7 L322.4 896.8 L323.4 897.2 L324.4 896.6 L325.4 897.0 L326.4 896.8 L327.4 897.0 L328.4 896.6 L329.4 896.9 L330.4 896.5 L331.4 896.2 L332.4 896.4 L333.4 896.5 L334.4 896.4 L335.4 896.7 L336.4 897.1 L337.4 896.4 L338.4 896.9 L339.4 896.8 L340.4 896.6 L341.4 896.5 L342.4 896.9 L343.4 896.9 L344.4 896.7 L345.4 896.7 L346.4 896.7 L347.4 896.3 L348.4 896.8 L349.4 896.8 L350.4 897.2 L351.4 896.3 L352.4 896.3 L353.4 896.5 L353.4 896.3 L353.9 896.2 L354.1 896.3 L354.2 896.2 L354.3 896.2 L354.4 896.3 L354.4 895.7 L354.5 896.3 L354.6 895.4 L354.7 896.6 L354.8 896.3 L354.9 895.7 L354.9 896.2 L355.0 895.8 L355.1 895.9 L355.2 895.9 L355.3 895.6 L355.4 895.4 L355.4 895.5 L355.5 895.1 L355.6 894.9 L355.7 894.5 L355.8 893.9 L355.9 894.5 L355.9 894.2 L356.0 893.1 L356.1 893.0 L356.2 892.1 L356.3 890.2 L356.4 889.0 L356.4 888.8 L356.5 887.3 L356.6 883.5 L356.7 877.7 L356.8 867.5 L356.9 851.2 L356.9 846.2 L357.0 827.5 L357.1 813.2 L357.2 826.9 L357.3 851.0 L357.4 867.9 L357.4 870.4 L357.5 877.7 L357.6 883.0 L357.7 886.8 L357.8 889.1 L357.9 891.2 L357.9 890.9 L358.0 891.7 L358.1 892.4 L358.2 893.6 L358.3 894.2 L358.4 894.2 L358.4 894.3 L358.5 894.7 L358.6 895.4 L358.7 894.8 L358.8 895.4 L358.9 895.6 L358.9 895.7 L359.0 896.0 L359.1 896.0 L359.2 895.9 L359.3 896.4 L359.4 896.3 L359.4 896.1 L359.5 896.1 L359.6 895.7 L359.7 896.2 L359.8 896.0 L359.9 895.9 L359.9 896.2 L360.0 895.7 L360.4 896.1 L360.4 896.2 L361.4 896.6 L362.4 896.5 L363.4 896.7 L364.4 897.0 L365.4 896.7 L365.9 896.1 L366.4 895.8 L366.4 896.0 L366.5 896.0 L366.6 895.6 L366.7 895.7 L366.8 895.6 L366.9 895.9 L366.9 896.5 L367.0 896.6 L367.1 895.7 L367.2 895.8 L367.3 895.5 L367.4 895.3 L367.4 895.8 L367.5 895.7 L367.6 895.4 L367.7 895.6 L367.8 895.2 L367.9 895.5 L367.9 895.0 L368.0 895.2 L368.1 894.6 L368.2 894.4 L368.3 894.2 L368.4 893.3 L368.4 893.3 L368.5 892.8 L368.6 891.9 L368.7 890.9 L368.8 889.0 L368.9 887.7 L368.9 886.8 L369.0 883.3 L369.1 877.2 L369.2 868.1 L369.3 851.5 L369.4 840.4 L369.4 828.3 L369.5 813.6 L369.6 828.7 L369.7 851.1 L369.8 867.8 L369.9 873.4 L369.9 877.5 L370.0 883.3 L370.1 886.6 L370.2 889.1 L370.3 890.8 L370.4 891.8 L370.4 891.8 L370.5 893.0 L370.6 893.6 L370.7 894.0 L370.8 894.2 L370.9 894.5 L370.9 894.1 L371.0 894.9 L371.1 895.2 L371.2 895.1 L371.3 895.6 L371.4 895.6 L371.4 895.3 L371.5 895.9 L371.6 895.6 L371.7 896.5 L371.8 895.6 L371.9 895.7 L371.9 895.7 L372.0 896.0 L372.1 896.4 L372.2 896.1 L372.3 896.0 L372.4 896.7 L372.4 896.4 L372.9 896.1 L373.4 896.2 L373.8 895.7 L373.9 896.2 L374.0 896.7 L374.1 895.8 L374.2 895.7 L374.3 896.1 L374.3 895.4 L374.4 896.5 L374.5 895.5 L374.6 895.7 L374.7 895.9 L374.8 896.2 L374.8 896.0 L374.9 895.2 L375.0 895.2 L375.1 895.7 L375.2 894.9 L375.3 895.3 L375.3 895.1 L375.4 895.4 L375.5 895.4 L375.6 894.0 L375.7 894.6 L375.8 894.4 L375.8 893.9 L375.9 893.5 L376.0 892.6 L376.1 892.0 L376.2 891.1 L376.3 890.2 L376.3 889.6 L376.4 886.4 L376.4 885.6 L376.5 882.5 L376.6 874.2 L376.7 862.6 L376.8 851.4 L376.8 846.6 L376.9 835.2 L376.9 836.0 L377.0 845.5 L377.1 862.9 L377.2 874.9 L377.3 880.0 L377.3 882.1 L377.4 886.2 L377.4 887.0 L377.5 888.8 L377.6 890.1 L377.7 891.7 L377.8 892.4 L377.8 892.1 L377.9 893.3 L377.9 893.1 L378.0 893.2 L378.1 893.5 L378.2 893.5 L378.3 893.4 L378.3 893.9 L378.4 893.8 L378.4 893.4 L378.5 893.4 L378.6 893.1 L378.7 892.9 L378.8 892.8 L378.8 891.9 L378.9 891.4 L378.9 891.1 L379.0 890.2 L379.1 888.6 L379.2 885.1 L379.3 881.7 L379.3 880.6 L379.4 872.4 L379.4 871.3 L379.5 859.5 L379.6 840.9 L379.7 829.6 L379.8 835.8 L379.8 840.9 L379.9 859.8 L379.9 863.3 L380.0 873.0 L380.1 881.5 L380.2 885.7 L380.3 887.9 L380.4 890.8 L380.4 890.3 L380.5 891.9 L380.6 893.4 L380.7 893.8 L380.8 893.6 L380.9 894.1 L380.9 894.5 L381.0 895.1 L381.1 894.7 L381.2 895.5 L381.3 895.4 L381.4 895.5 L381.4 895.5 L381.5 896.1 L381.6 895.3 L381.7 895.5 L381.8 896.2 L381.9 896.3 L381.9 895.6 L382.0 895.7 L382.1 895.7 L382.2 896.3 L382.3 896.0 L382.4 896.6 L382.4 896.4 L382.5 896.3 L382.6 896.3 L382.9 896.5 L383.4 896.7 L384.4 896.5 L385.4 896.7 L386.4 896.9 L387.4 896.6 L388.4 896.9 L389.4 896.6 L390.4 896.4 L391.4 896.7 L392.4 897.1 L393.4 896.9 L394.4 895.9 L394.9 896.4 L395.1 896.1 L395.2 896.1 L395.3 896.0 L395.4 896.0 L395.4 895.9 L395.5 896.0 L395.6 896.1 L395.7 895.6 L395.8 895.5 L395.9 895.5 L395.9 895.5 L396.0 895.9 L396.1 895.3 L396.2 895.5 L396.3 895.5 L396.4 895.5 L396.4 895.3 L396.5 895.5 L396.5 895.1 L396.6 895.1 L396.7 895.0 L396.8 894.0 L396.9 894.3 L396.9 894.6 L397.0 893.9 L397.0 893.7 L397.1 893.8 L397.2 892.5 L397.3 891.9 L397.4 889.7 L397.4 890.3 L397.5 888.9 L397.5 888.5 L397.6 885.9 L397.7 880.9 L397.8 873.3 L397.9 861.3 L397.9 860.8 L398.0 848.5 L398.0 842.6 L398.1 831.3 L398.2 842.2 L398.3 860.1 L398.4 871.3 L398.4 872.7 L398.5 877.2 L398.5 878.7 L398.6 883.1 L398.7 885.3 L398.8 885.5 L398.9 885.4 L398.9 885.1 L399.0 883.9 L399.0 883.5 L399.1 879.7 L399.2 874.2 L399.3 863.4 L399.4 849.5 L399.4 847.3 L399.5 838.9 L399.5 837.6 L399.6 847.5 L399.7 864.4 L399.8 876.3 L399.9 881.3 L399.9 882.1 L400.0 885.5 L400.0 886.0 L400.1 888.9 L400.2 890.3 L400.3 891.5 L400.4 892.6 L400.4 892.3 L400.5 892.4 L400.5 893.2 L400.6 893.4 L400.7 893.5 L400.8 893.7 L400.9 894.3 L400.9 893.9 L401.0 894.3 L401.0 894.5 L401.1 894.3 L401.1 894.6 L401.2 893.9 L401.3 894.5 L401.4 894.5 L401.5 894.8 L401.5 894.2 L401.6 894.4 L401.6 894.1 L401.7 893.6 L401.8 893.4 L401.9 893.2 L402.0 893.3 L402.0 892.7 L402.1 892.4 L402.1 892.6 L402.2 891.9 L402.3 890.7 L402.4 889.2 L402.5 886.7 L402.5 886.0 L402.6 882.7 L402.6 882.4 L402.7 875.5 L402.8 863.7 L402.9 847.7 L403.0 838.5 L403.0 838.1 L403.1 845.2 L403.1 847.4 L403.2 863.2 L403.3 873.9 L403.4 879.2 L403.5 882.2 L403.5 882.7 L403.6 883.9 L403.6 884.5 L403.7 883.9 L403.8 881.8 L403.9 878.2 L404.0 874.3 L404.0 871.7 L404.1 860.6 L404.1 858.9 L404.2 841.7 L404.3 831.1 L404.4 842.6 L404.5 855.2 L404.5 860.7 L404.6 872.6 L404.6 872.7 L404.7 880.7 L404.8 885.9 L404.9 888.2 L405.0 889.7 L405.0 890.5 L405.1 891.2 L405.1 891.4 L405.2 892.0 L405.3 893.3 L405.4 893.6 L405.5 893.9 L405.5 893.3 L405.6 894.7 L405.6 894.7 L405.7 894.5 L405.8 895.3 L405.9 894.4 L406.0 895.2 L406.0 894.8 L406.1 896.2 L406.1 894.6 L406.2 895.2 L406.3 895.4 L406.4 896.0 L406.5 896.0 L406.6 896.0 L406.6 895.8 L406.7 896.6 L406.8 895.8 L406.9 896.1 L407.0 896.6 L407.1 895.7 L407.1 895.9 L407.2 896.5 L407.4 896.3 L408.4 896.0 L409.4 896.5 L410.4 897.2 L411.4 896.5 L412.4 896.9 L413.4 896.7 L414.4 896.5 L415.4 897.2 L416.4 897.0 L417.4 897.1 L418.4 896.6 L419.4 896.7 L420.4 896.8 L421.4 896.8 L422.4 896.6 L423.4 896.5 L424.4 897.1 L425.4 896.3 L426.4 896.5 L427.4 896.5 L428.4 896.5 L429.4 896.2 L430.4 896.3 L431.4 896.7 L431.8 896.3 L432.2 896.1 L432.3 896.8 L432.3 895.9 L432.4 896.5 L432.5 896.3 L432.6 895.7 L432.7 896.0 L432.8 896.0 L432.8 896.4 L432.9 896.3 L433.0 895.9 L433.1 895.5 L433.2 895.3 L433.3 895.7 L433.3 895.3 L433.4 895.5 L433.5 895.4 L433.6 895.4 L433.7 895.4 L433.8 895.0 L433.8 895.0 L433.9 894.6 L434.0 894.6 L434.1 894.1 L434.2 893.7 L434.3 893.2 L434.3 892.3 L434.4 891.1 L434.5 890.3 L434.6 888.3 L434.7 884.6 L434.8 881.9 L434.8 879.7 L434.9 871.1 L435.0 856.8 L435.1 835.8 L435.2 823.3 L435.3 830.4 L435.3 835.9 L435.4 856.7 L435.5 871.1 L435.6 878.9 L435.7 884.5 L435.8 887.2 L435.8 887.2 L435.9 889.9 L436.0 891.0 L436.1 891.8 L436.2 893.4 L436.3 893.8 L436.3 893.5 L436.4 893.9 L436.5 894.8 L436.6 895.0 L436.7 894.9 L436.7 895.2 L436.8 895.0 L436.8 894.9 L436.9 895.3 L437.0 895.1 L437.1 895.5 L437.2 895.3 L437.2 895.3 L437.3 895.3 L437.3 895.6 L437.4 895.8 L437.5 895.6 L437.6 895.3 L437.7 895.7 L437.7 895.2 L437.8 895.2 L437.8 895.4 L437.9 895.7 L438.0 895.6 L438.1 895.5 L438.2 895.7 L438.2 895.6 L438.3 895.1 L438.3 895.5 L438.4 895.0 L438.5 895.1 L438.6 894.9 L438.7 894.5 L438.7 894.0 L438.8 894.2 L438.9 893.8 L439.0 893.3 L439.1 892.6 L439.2 891.4 L439.2 891.1 L439.3 890.7 L439.4 888.8 L439.5 885.8 L439.6 881.0 L439.7 873.7 L439.7 871.2 L439.8 859.9 L439.9 841.4 L440.0 829.7 L440.1 841.4 L440.2 860.0 L440.2 863.3 L440.3 873.2 L440.4 880.9 L440.5 885.9 L440.6 889.0 L440.7 890.3 L440.7 890.7 L440.8 891.5 L440.9 893.1 L441.0 893.4 L441.1 894.3 L441.2 894.2 L441.2 894.7 L441.3 894.5 L441.4 894.8 L441.5 895.3 L441.6 895.2 L441.7 895.3 L441.7 895.8 L441.8 895.6 L441.9 896.1 L442.0 896.5 L442.1 895.7 L442.2 895.8 L442.2 895.5 L442.3 895.6 L442.4 896.2 L442.5 896.1 L442.6 896.2 L442.7 896.3 L442.7 895.9 L442.8 895.7 L442.9 896.5 L443.2 896.3 L443.4 896.6 L444.4 896.3 L445.4 896.5 L446.4 896.0 L446.5 896.1 L446.5 896.1 L446.6 896.2 L446.7 896.5 L446.8 896.2 L446.9 895.2 L447.0 896.0 L447.0 896.0 L447.1 896.2 L447.2 895.9 L447.3 895.6 L447.4 895.5 L447.5 895.6 L447.5 895.5 L447.6 896.0 L447.7 895.7 L447.8 895.4 L447.9 895.5 L448.0 895.8 L448.0 895.0 L448.1 894.9 L448.2 894.5 L448.3 894.0 L448.4 893.8 L448.5 893.4 L448.5 893.6 L448.6 893.0 L448.7 892.3 L448.8 890.6 L448.9 889.5 L449.0 887.2 L449.0 886.6 L449.1 883.0 L449.2 876.2 L449.3 864.8 L449.4 849.0 L449.5 839.9 L449.5 838.4 L449.6 848.0 L449.7 863.6 L449.8 874.9 L449.9 880.9 L450.0 883.6 L450.0 884.4 L450.1 886.1 L450.2 888.2 L450.3 887.7 L450.4 886.0 L450.5 885.6 L450.5 884.6 L450.6 880.7 L450.7 875.2 L450.8 864.7 L450.9 849.6 L451.0 841.5 L451.0 839.9 L451.1 849.6 L451.2 865.3 L451.3 876.2 L451.4 882.6 L451.5 885.4 L451.5 886.7 L451.6 888.4 L451.7 889.8 L451.8 891.8 L451.9 892.1 L452.0 892.6 L452.0 892.5 L452.1 892.6 L452.2 892.7 L452.3 892.9 L452.4 892.7 L452.5 892.6 L452.5 892.6 L452.6 892.4 L452.7 891.8 L452.8 891.2 L452.9 889.1 L453.0 887.1 L453.1 883.9 L453.2 877.8 L453.3 866.9 L453.4 853.4 L453.5 844.6 L453.6 853.1 L453.7 867.4 L453.8 877.3 L453.9 883.7 L454.0 887.0 L454.1 889.0 L454.2 890.5 L454.3 891.2 L454.4 891.1 L454.5 891.2 L454.6 891.0 L454.7 891.2 L454.8 890.2 L454.9 889.2 L455.0 887.0 L455.1 883.3 L455.2 877.1 L455.3 867.4 L455.4 853.8 L455.5 844.3 L455.6 852.9 L455.7 867.4 L455.8 877.8 L455.9 883.3 L456.0 886.4 L456.1 888.5 L456.2 889.9 L456.3 890.6 L456.4 891.2 L456.5 891.5 L456.6 890.6 L456.7 889.4 L456.8 887.4 L456.9 884.1 L457.0 879.2 L457.1 870.3 L457.2 857.1 L457.3 848.9 L457.4 857.3 L457.5 870.2 L457.6 879.6 L457.7 885.1 L457.8 888.5 L457.9 890.6 L458.0 892.3 L458.1 892.9 L458.2 893.6 L458.3 894.4 L458.4 894.7 L458.5 895.2 L458.6 894.8 L458.7 895.6 L458.8 895.4 L458.9 895.2 L459.0 895.6 L459.1 895.4 L459.2 895.6 L459.3 895.8 L459.4 896.3 L459.5 895.6 L459.6 896.2 L459.7 896.1 L459.8 896.6 L459.9 896.3 L460.0 896.4 L460.1 896.7 L460.2 896.0 L460.4 896.2 L461.4 896.1 L462.4 896.3 L463.4 896.7 L464.4 896.6 L465.4 896.8 L466.4 896.6 L467.4 896.5 L468.4 896.6 L469.4 896.4 L470.4 896.3 L471.4 896.2 L472.4 896.6 L473.4 896.7 L474.4 896.1 L474.4 896.4 L474.9 895.8 L475.4 896.0 L475.4 896.3 L475.6 895.9 L475.7 896.4 L475.8 896.1 L475.9 896.3 L475.9 896.0 L476.0 895.8 L476.1 896.1 L476.2 896.3 L476.3 895.9 L476.4 896.1 L476.4 895.8 L476.5 895.9 L476.6 896.3 L476.7 895.9 L476.8 895.5 L476.9 895.9 L476.9 895.7 L477.0 895.5 L477.1 895.8 L477.2 894.7 L477.3 895.6 L477.4 895.9 L477.4 895.4 L477.5 894.7 L477.6 895.6 L477.7 895.8 L477.8 895.1 L477.9 894.6 L477.9 894.6 L478.0 894.7 L478.1 894.7 L478.2 895.0 L478.3 894.7 L478.4 893.8 L478.4 894.4 L478.5 894.4 L478.6 895.0 L478.7 894.3 L478.8 894.1 L478.9 894.5 L478.9 894.7 L479.0 894.1 L479.1 895.0 L479.2 894.7 L479.3 895.1 L479.4 895.2 L479.4 895.2 L479.5 895.5 L479.6 895.7 L479.7 895.1 L479.8 895.3 L479.9 895.8 L479.9 895.5 L480.0 895.4 L480.1 895.6 L480.2 895.4 L480.3 895.6 L480.4 894.8 L480.4 895.9 L480.5 896.4 L480.6 896.2 L480.7 896.2 L480.8 896.1 L480.9 895.9 L480.9 896.2 L481.0 896.1 L481.1 896.1 L481.2 896.3 L481.3 896.1 L481.4 896.3 L481.4 896.5 L481.5 896.6 L481.9 896.4 L482.4 896.7 L482.4 896.5 L483.4 895.9 L484.4 896.1 L485.4 896.6 L486.4 896.4 L487.4 896.9 L488.4 896.3 L489.4 896.6 L490.4 896.6 L491.4 896.5 L492.4 896.6 L493.4 896.8 L494.4 896.8 L495.4 896.6 L496.4 896.8 L497.4 896.9 L498.4 896.7 L499.4 896.6 L500.4 896.6 L501.4 896.6 L502.4 896.6 L503.4 896.8 L504.4 897.6 L505.4 897.1 L506.4 896.8 L507.4 897.0 L508.4 897.0 L509.4 897.2 L510.4 897.2 L511.4 896.5 L512.4 897.4 L513.4 896.5 L514.4 896.8 L515.4 896.6 L516.4 896.3 L517.4 896.3 L518.4 897.4 L519.4 897.2 L520.4 896.5 L521.4 896.5 L522.4 897.2 L523.4 896.5 L524.4 896.9 L525.4 897.4 L526.4 897.0 L527.4 897.2 L528.4 896.9 L529.4 896.3 L530.4 896.6 L531.4 896.3 L532.4 896.9 L533.4 896.4 L534.4 896.8 L535.4 896.7 L536.4 896.6 L537.4 897.0 L538.4 896.7 L539.4 896.6 L540.4 897.1 L541.4 896.8 L542.4 896.4 L543.4 897.1 L544.4 896.4 L545.4 896.9 L546.4 897.0 L547.4 896.7 L548.4 896.6 L549.4 896.7 L550.4 896.7 L551.4 896.5 L552.4 897.0 L553.4 896.6 L554.4 896.6 L555.4 897.2 L556.4 896.6 L557.4 896.3 L558.4 896.8 L559.4 896.8 L560.4 896.8 L561.4 897.4 L562.4 896.6 L563.4 897.2 L564.4 897.1 L565.4 897.2 L566.4 896.8 L567.4 896.7 L568.4 896.7 L569.4 896.9 L570.4 897.1 L571.4 897.3 L572.4 896.3 L573.4 897.1 L574.4 896.9 L575.4 896.8 L576.4 896.5 L577.4 896.9 L578.4 896.3 L579.4 897.2 L580.4 896.5 L581.4 896.8 L582.4 896.8 L583.4 897.0 L584.4 896.4 L585.4 897.1 L586.4 896.9 L587.4 897.3 L588.4 896.9 L589.4 896.8 L590.4 896.2 L591.4 896.7 L592.4 897.3 L593.4 896.7 L594.4 896.7 L595.4 896.8 L596.4 897.1 L597.4 896.3 L598.4 897.3 L599.4 897.0 L600.4 897.0 L601.4 896.8 L602.4 897.4 L603.4 896.7 L604.4 897.0 L605.4 896.8 L606.4 896.4 L607.4 896.8 L608.4 897.0 L609.4 896.7 L610.4 896.7 L611.4 896.8 L612.4 896.5 L613.4 896.5 L614.4 896.8 L615.4 896.5 L616.4 897.0 L617.4 897.0 L618.4 897.2 L619.4 897.1 L620.4 896.7 L621.4 896.9 L622.4 896.5 L623.4 896.9 L624.4 896.7 L625.4 897.2 L626.4 896.6 L627.4 896.9 L628.4 896.6 L629.4 897.0 L630.4 897.0 L631.4 896.5 L632.4 897.4 L633.4 897.0 L634.4 896.4 L635.4 896.5 L636.4 896.3 L637.4 896.2 L638.4 896.8 L639.4 896.2 L640.4 896.9 L641.4 896.3 L642.4 896.7 L643.4 897.3 L644.4 896.7 L645.4 896.8 L646.4 897.2 L647.4 896.7 L648.4 897.0 L649.4 896.6 L650.4 896.7 L651.4 896.8 L652.4 896.8 L653.4 896.6 L654.4 896.9 L655.4 897.0 L656.4 897.0 L657.4 896.8 L658.4 896.5 L659.4 897.0 L660.4 897.1 L661.4 896.5 L662.4 896.1 L663.4 896.7 L664.4 897.1 L665.4 897.1 L666.4 896.4 L667.4 897.2 L668.4 896.5 L669.4 897.1 L670.4 896.7 L671.4 897.1 L672.4 896.9 L673.4 896.7 L674.4 897.0 L675.4 896.6 L676.4 896.7 L677.4 896.7 L678.4 896.5 L679.4 897.1 L680.4 897.1 L681.4 896.8 L682.4 896.5 L683.4 896.9 L684.4 896.9 L685.4 897.0 L686.4 896.8 L687.4 896.7 L688.4 897.2 L689.4 896.6 L690.4 896.7 L691.4 896.3 L692.4 896.7 L693.4 896.6 L694.4 896.7 L695.4 897.0 L696.4 896.6 L697.4 896.9 L698.4 896.7 L699.4 896.7 L700.4 896.2 L701.4 896.9 L702.4 897.0 L703.4 896.5 L704.4 896.6 L705.4 896.2 L706.4 896.7 L707.4 896.4 L708.4 896.9 L709.4 896.7 L710.4 896.9 L711.4 896.5 L712.4 896.3 L713.4 896.7 L714.4 896.6 L715.4 897.3 L716.4 896.8 L717.4 897.2 L718.4 896.9 L719.4 896.7 L720.4 896.3 L721.4 896.7 L722.4 896.9 L723.4 896.8 L724.4 896.9 L725.4 896.9 L726.4 896.4 L727.4 896.9 L728.4 896.5 L729.4 896.8 L730.4 897.2 L731.4 896.2 L732.4 896.7 L733.4 896.9 L734.4 897.1 L735.4 896.8 L736.4 896.5 L737.4 897.0 L738.4 896.9 L739.4 896.2 L740.4 896.8 L741.4 896.3 L742.4 896.0 L743.4 896.5 L744.4 896.5 L745.4 896.1 L746.4 897.3 L747.4 896.4 L748.4 896.9 L749.4 897.0 L750.4 897.4 L751.4 896.7 L752.4 897.3 L753.4 896.4 L754.4 896.8 L755.4 896.7 L756.4 896.5 L757.4 896.9 L758.4 897.4 L759.4 897.4 L760.4 897.0 L761.4 896.5 L762.4 896.5 L763.4 897.0 L764.4 897.0 L765.4 897.0 L766.4 896.7 L767.4 896.5 L768.4 896.9 L769.4 896.8 L770.4 897.2 L771.4 896.6 L772.4 897.0 L773.4 897.2 L774.4 897.4 L775.4 897.4 L776.4 896.5 L777.4 896.4 L778.4 896.8 L779.4 896.5 L780.4 896.1 L781.4 897.2 L782.4 896.9 L783.4 897.1 L784.4 896.8 L785.4 897.1 L786.4 896.9 L787.4 896.8 L788.4 897.4 L789.4 896.4 L790.4 897.0 L791.4 896.3 L792.4 897.2 L793.4 896.7 L794.4 896.4 L795.4 896.2 L796.4 896.7 L797.4 897.4 L798.4 896.9 L799.4 896.3 L800.4 896.2 L801.4 897.6 L802.4 896.6 L803.4 896.3 L804.4 896.8 L805.4 897.0 L806.4 897.3 L807.4 896.7 L808.4 896.6 L809.4 897.0 L810.4 896.5 L811.4 896.9 L812.4 896.8 L813.4 897.1 L814.4 896.6 L815.4 896.6 L816.4 896.9 L817.4 896.9 L818.4 896.3 L819.4 896.5 L820.4 896.8 L821.4 896.7 L822.4 897.5 L823.4 897.0 L824.4 897.2 L825.4 896.8 L826.4 896.8 L827.4 896.8 L828.4 897.1 L829.4 896.7 L830.4 897.3 L831.4 896.6 L832.4 897.1 L833.4 896.9 L834.4 896.7 L835.4 897.3 L836.4 897.1 L837.4 896.7 L838.4 896.6 L839.4 897.0 L840.4 896.5 L841.4 897.0 L842.4 896.5 L843.4 896.8 L844.4 896.5 L845.4 896.7 L846.4 897.3 L847.4 897.3 L848.4 896.6 L849.4 896.7 L850.4 896.3 L851.4 896.9 L852.4 897.1 L853.4 896.5 L854.4 896.5 L855.4 896.9 L856.4 896.6 L857.4 896.8 L858.4 897.3 L859.4 896.9 L860.4 897.0 L861.4 897.4 L862.4 896.9 L863.4 897.0 L864.4 896.8 L865.4 896.6 L866.4 897.3 L867.4 896.4 L868.4 896.8 L869.4 896.4 L870.4 896.5 L871.4 896.4 L872.4 896.7 L873.4 896.9 L874.4 897.2 L875.4 896.2 L876.4 896.9 L877.4 896.7 L878.4 896.6 L879.4 896.8 L880.4 896.8 L881.4 896.8 L882.4 896.8 L883.4 897.4 L884.4 896.8 L885.4 896.9 L886.4 896.4 L887.4 897.1 L888.4 896.6 L889.4 896.8 L890.4 896.6 L891.4 896.8 L892.4 896.5 L893.4 896.4 L894.4 896.4 L895.4 896.7 L896.4 896.8 L897.4 897.0 L898.4 897.3 L899.4 897.3 L900.4 896.6 L901.4 896.6 L902.4 897.0 L903.4 896.5 L904.4 897.1 L905.4 897.1 L906.4 896.5 L907.4 897.0 L908.4 897.2 L909.4 896.9 L910.4 896.7 L911.4 896.7 L912.4 896.9 L913.4 896.6 L914.4 896.9 L915.4 896.7 L916.4 896.6 L917.4 896.5 L918.4 897.0 L919.4 896.5 L920.4 896.9 L921.4 896.2 L922.4 896.7 L923.4 896.8 L924.4 896.9 L925.4 897.1 L926.4 897.0 L927.4 897.0 L928.4 896.7 L929.4 896.5 L930.4 896.4 L931.4 896.6 L932.4 896.9 L933.4 897.1 L934.4 896.9 L935.4 896.9 L936.4 897.0 L937.4 896.7 L938.4 896.8 L939.4 896.8 L940.4 896.9 L941.4 896.7 L942.4 896.4 L943.4 896.7 L944.4 896.5 L945.4 897.3 L946.4 897.2 L947.4 896.6 L948.4 896.5 L949.4 896.8 L950.4 896.3 L951.4 897.2 L952.4 896.8 L953.4 896.6 L954.4 897.1 L955.4 897.2 L956.4 896.8 L957.4 897.1 L958.4 896.3 L959.4 896.6 L960.4 896.5 L961.4 896.3 L962.4 897.0 L963.4 897.5 L964.4 896.4 L965.4 896.6 L966.4 897.1 L967.4 896.7 L968.4 896.8 L969.4 896.5 L970.4 896.9 L971.4 896.5 L972.4 897.0 L973.4 896.9 L974.4 896.9 L975.4 896.5 L976.4 896.7 L977.4 896.9 L978.4 896.5 L979.4 896.5 L980.4 896.1 L981.4 896.6 L982.4 896.7 L983.4 897.0 L984.4 896.4 L985.4 896.3 L986.4 897.1 L987.4 897.1 L988.4 896.4 L989.4 896.6 L990.4 896.2 L991.4 896.7 L992.4 897.1 L993.4 897.0 L994.4 896.4 L995.4 896.8 L996.4 896.5 L997.4 896.8 L998.4 896.6 L999.4 896.9 L1000.4 897.1 L1001.4 896.8 L1002.4 896.8 L1003.4 896.9 L1004.4 897.0 L1005.4 896.6 L1006.4 896.7 L1007.4 896.7 L1008.4 897.1 L1009.4 896.8 L1010.4 896.9 L1011.4 896.6 L1012.4 896.3 L1013.4 896.6 L1014.4 896.9 L1015.4 896.6 L1016.4 896.5 L1017.4 896.6 L1018.4 896.9 L1019.4 896.8 L1020.4 896.7 L1021.4 896.4 L1022.4 896.5 L1023.4 897.8 L1024.4 896.6 L1025.4 896.9 L1026.4 896.8 L1027.4 896.3 L1028.4 897.1 L1029.4 896.7 L1030.4 896.4 L1031.4 896.9 L1032.4 896.5 L1033.4 896.7 L1034.4 896.2 L1035.4 896.6 L1036.4 896.8 L1037.4 896.5 L1038.4 896.2 L1039.4 896.4 L1040.4 896.8 L1041.4 896.1 L1042.4 896.2 L1043.4 896.8 L1044.4 896.6 L1045.4 896.5 L1046.4 896.4 L1047.4 896.6 L1048.4 896.7 L1049.4 896.6 L1050.4 895.9 L1051.4 896.6 L1052.4 895.9 L1053.4 896.9 L1054.4 896.2 L1055.4 896.5 L1056.4 896.4 L1057.4 896.1 L1058.4 896.6 L1059.4 896.2 L1060.4 896.8 L1061.4 896.3 L1062.4 896.1 L1063.4 896.7 L1064.4 896.3 L1065.4 895.7 L1066.4 895.4 L1067.4 896.1 L1068.4 895.7 L1069.4 895.5 L1070.4 894.8 L1071.0 894.5 L1071.4 894.3 L1071.5 894.9 L1072.0 894.3 L1072.4 894.4 L1072.5 893.5 L1073.0 894.2 L1073.4 893.4 L1073.5 892.8 L1074.0 892.9 L1074.4 893.1 L1074.5 893.4 L1075.0 891.7 L1075.4 891.7 L1075.5 892.0 L1076.0 891.0 L1076.4 890.7 L1076.5 890.4 L1077.0 889.9 L1077.4 888.6 L1077.5 888.8 L1077.7 888.1 L1078.0 887.6 L1078.2 887.0 L1078.4 886.6 L1078.5 886.0 L1078.7 885.7 L1079.0 883.4 L1079.2 882.8 L1079.4 882.0 L1079.5 881.2 L1079.7 879.1 L1080.0 877.6 L1080.2 875.5 L1080.4 874.2 L1080.5 872.3 L1080.7 869.9 L1081.0 864.5 L1081.2 860.9 L1081.3 857.6 L1081.4 855.5 L1081.5 852.9 L1081.6 849.5 L1081.7 846.8 L1081.8 842.6 L1081.9 838.8 L1082.0 833.1 L1082.1 827.8 L1082.2 822.0 L1082.3 814.6 L1082.4 806.8 L1082.5 797.3 L1082.6 785.9 L1082.7 773.2 L1082.8 758.0 L1082.9 739.5 L1083.0 717.0 L1083.1 689.5 L1083.2 655.4 L1083.3 612.3 L1083.4 579.0 L1085.4 579.0 L1085.5 586.0 L1085.6 612.7 L1085.7 634.3 L1085.8 652.4 L1085.9 667.6 L1086.0 681.8 L1086.1 693.0 L1086.2 704.3 L1086.3 713.2 L1086.4 722.3 L1086.5 730.0 L1086.6 736.9 L1086.7 743.7 L1086.8 750.0 L1086.9 756.5 L1087.0 761.7 L1087.1 766.6 L1087.2 771.8 L1087.3 775.9 L1087.4 780.2 L1087.5 784.5 L1087.6 789.1 L1087.7 792.5 L1088.0 803.0 L1088.2 809.2 L1088.4 814.7 L1088.5 817.8 L1088.7 822.7 L1089.0 828.9 L1089.2 832.9 L1089.4 837.0 L1089.5 838.5 L1089.7 842.1 L1090.0 846.8 L1090.2 849.3 L1090.4 851.9 L1090.5 852.9 L1090.7 855.1 L1091.0 858.1 L1091.2 860.7 L1091.4 861.8 L1091.5 862.9 L1091.7 864.5 L1092.0 866.8 L1092.2 868.0 L1092.4 868.8 L1092.5 870.6 L1092.7 870.8 L1093.0 872.9 L1093.2 873.3 L1093.4 874.8 L1093.5 874.7 L1093.7 876.4 L1094.0 877.2 L1094.2 877.3 L1094.4 879.0 L1094.5 878.3 L1094.7 879.4 L1095.0 880.8 L1095.2 880.9 L1095.4 881.9 L1095.5 881.8 L1095.7 882.1 L1096.0 883.4 L1096.2 883.5 L1096.4 883.7 L1096.5 884.4 L1096.7 884.4 L1097.0 884.6 L1097.2 885.1 L1097.4 886.5 L1097.5 886.6 L1097.7 885.7 L1098.0 886.9 L1098.2 887.3 L1098.4 887.1 L1098.5 887.5 L1098.7 887.3 L1099.0 887.8 L1099.2 888.5 L1099.4 888.4 L1099.5 888.4 L1099.7 888.6 L1100.0 888.6 L1100.2 888.9 L1100.4 889.2 L1100.5 889.4 L1100.7 889.4 L1101.0 890.5 L1101.2 889.5 L1101.4 889.9 L1101.5 890.1 L1101.7 890.6 L1102.0 890.2 L1102.2 890.9 L1102.4 890.6 L1102.5 890.7 L1102.7 891.2 L1103.0 891.5 L1103.2 891.7 L1103.4 891.1 L1103.5 891.9 L1103.7 892.0 L1104.0 891.9 L1104.2 892.1 L1104.4 892.0 L1104.5 892.0 L1104.7 892.4 L1105.0 892.8 L1105.2 892.3 L1105.4 892.6 L1105.5 892.8 L1105.7 892.1 L1106.0 893.2 L1106.2 892.9 L1106.4 893.3 L1106.5 892.8 L1106.7 892.7 L1107.0 893.0 L1107.2 893.2 L1107.4 892.9 L1107.5 893.5 L1107.7 893.4 L1108.0 893.0 L1108.2 893.6 L1108.4 893.4 L1108.5 893.5 L1108.7 893.4 L1109.0 893.4 L1109.2 893.3 L1109.4 893.8 L1109.5 893.8 L1109.7 894.0 L1110.0 893.7 L1110.2 894.1 L1110.4 894.2 L1110.5 893.6 L1110.7 894.1 L1111.0 894.8 L1111.2 894.0 L1111.4 894.1 L1111.5 894.2 L1111.7 894.1 L1112.0 894.5 L1112.2 894.3 L1112.4 894.3 L1112.5 894.1 L1112.7 894.6 L1113.0 894.4 L1113.2 894.4 L1113.4 894.4 L1113.5 895.0 L1113.7 894.6 L1114.0 894.7 L1114.2 895.0 L1114.4 894.6 L1114.5 895.0 L1115.0 894.4 L1115.4 895.0 L1115.5 894.2 L1116.0 894.9 L1116.4 894.8 L1116.5 894.7 L1117.0 895.3 L1117.4 895.2 L1117.5 895.3 L1118.0 895.5 L1118.4 895.3 L1118.5 895.3 L1119.0 895.2 L1119.4 895.8 L1119.5 895.5 L1120.0 895.0 L1120.4 895.0 L1120.5 895.1 L1121.0 895.1 L1121.4 895.8 L1121.5 895.5 L1122.0 895.7 L1122.4 895.2 L1122.5 895.2 L1123.0 895.9 L1123.4 894.9 L1123.5 895.2 L1124.0 894.9 L1124.4 895.4 L1124.5 896.4 L1125.4 895.4 L1126.4 896.0 L1127.4 896.2 L1128.4 895.6 L1129.4 895.6 L1130.4 896.0 L1131.4 896.1 L1132.4 895.5 L1133.4 895.7 L1134.4 896.5 L1135.4 895.8 L1136.4 896.2 L1137.4 896.4 L1138.4 896.0 L1139.4 896.1 L1140.4 896.0 L1141.4 896.0 L1142.4 896.0 L1143.4 895.7 L1144.4 896.1 L1145.4 896.2 L1146.4 896.5 L1147.4 896.1 L1148.4 896.1 L1149.4 896.9 L1150.4 896.3 L1151.4 896.2 L1152.4 896.2 L1153.4 896.3 L1154.4 896.1 L1155.4 896.2 L1156.4 896.1 L1157.4 896.0 L1158.4 896.2 L1159.4 896.0 L1160.4 896.9 L1161.4 896.0 L1162.4 896.9 L1163.4 896.5 L1164.4 896.7 L1165.4 896.8 L1166.4 895.9 L1167.4 896.9 L1168.4 896.6 L1169.4 896.3 L1170.4 896.2 L1171.4 896.5 L1172.4 895.9 L1173.4 897.0 L1174.4 896.4 L1175.4 896.6 L1176.4 896.4 L1177.4 896.3 L1178.4 896.3 L1179.4 896.1 L1180.4 896.8 L1181.4 896.4 L1182.4 896.5 L1183.4 896.5 L1184.4 896.5 L1185.4 896.5 L1186.4 896.7 L1187.4 896.1 L1188.4 896.0 L1189.4 896.2 L1190.4 896.1 L1191.4 896.2 L1192.4 896.5 L1193.4 896.4 L1194.4 896.2 L1195.4 895.7 L1196.4 896.0 L1197.4 895.8 L1197.5 896.0 L1197.6 895.7 L1197.7 895.6 L1197.8 895.7 L1197.9 895.5 L1198.0 895.4 L1198.1 895.7 L1198.2 895.6 L1198.3 895.9 L1198.4 895.6 L1198.5 895.2 L1198.6 896.0 L1198.7 896.0 L1198.8 895.2 L1198.9 895.3 L1199.0 895.8 L1199.1 895.5 L1199.2 895.0 L1199.3 895.7 L1199.4 895.4 L1199.5 895.4 L1199.6 895.6 L1199.7 895.0 L1199.8 894.9 L1199.9 895.2 L1200.0 895.1 L1200.1 894.6 L1200.2 894.5 L1200.3 893.6 L1200.4 892.9 L1200.5 891.7 L1200.6 892.5 L1200.7 893.7 L1200.8 893.8 L1200.9 894.2 L1201.0 894.7 L1201.1 894.7 L1201.2 894.5 L1201.3 894.4 L1201.4 895.3 L1201.5 894.9 L1201.6 895.3 L1201.7 894.6 L1201.8 894.9 L1201.9 894.8 L1202.0 894.8 L1202.1 894.3 L1202.2 895.1 L1202.3 894.6 L1202.4 894.8 L1202.5 894.4 L1202.6 895.1 L1202.7 894.2 L1202.8 895.1 L1202.9 894.4 L1203.0 894.4 L1203.1 894.3 L1203.2 894.8 L1203.3 894.1 L1203.4 894.1 L1203.6 894.0 L1204.1 894.1 L1204.4 894.0 L1204.6 893.5 L1205.1 893.5 L1205.4 893.5 L1205.6 893.1 L1206.1 892.5 L1206.4 891.7 L1206.6 892.2 L1207.1 891.2 L1207.4 890.0 L1207.5 890.0 L1207.6 889.2 L1208.0 889.2 L1208.1 888.4 L1208.4 887.7 L1208.5 887.8 L1208.6 886.6 L1209.0 885.6 L1209.1 884.7 L1209.4 882.7 L1209.5 882.8 L1209.6 881.8 L1210.0 878.0 L1210.1 877.3 L1210.4 873.1 L1210.5 871.5 L1210.6 869.9 L1210.7 868.5 L1210.8 865.7 L1210.9 863.5 L1211.0 861.5 L1211.1 858.0 L1211.2 855.1 L1211.3 851.4 L1211.4 846.9 L1211.5 842.3 L1211.6 836.9 L1211.7 830.5 L1211.8 823.2 L1211.9 814.2 L1212.0 803.8 L1212.1 790.9 L1212.2 775.1 L1212.3 756.1 L1212.4 731.8 L1212.5 700.8 L1212.6 659.7 L1212.7 605.0 L1212.8 579.0 L1214.4 579.0 L1214.5 615.1 L1214.6 646.1 L1214.7 671.1 L1214.8 690.7 L1214.9 707.7 L1215.0 721.2 L1215.1 734.2 L1215.2 745.2 L1215.3 755.2 L1215.4 764.1 L1215.5 771.9 L1215.6 778.7 L1215.7 785.2 L1215.8 791.2 L1215.9 796.8 L1216.0 802.1 L1216.1 807.3 L1216.2 811.4 L1216.3 815.1 L1216.4 819.2 L1216.5 824.1 L1216.6 827.1 L1216.7 829.8 L1216.8 832.9 L1216.9 836.1 L1217.0 838.6 L1217.1 841.2 L1217.4 847.2 L1217.5 849.4 L1217.6 851.8 L1218.0 858.6 L1218.1 859.9 L1218.4 864.2 L1218.5 864.9 L1218.6 866.0 L1219.0 869.9 L1219.1 871.1 L1219.4 873.0 L1219.5 874.5 L1219.6 874.3 L1220.0 877.3 L1220.1 877.9 L1220.4 879.7 L1220.5 879.3 L1220.6 879.9 L1221.0 881.7 L1221.1 882.4 L1221.4 883.5 L1221.5 882.8 L1221.6 883.8 L1222.0 885.1 L1222.1 885.4 L1222.4 886.1 L1222.5 886.2 L1222.6 886.5 L1223.0 886.8 L1223.1 887.8 L1223.4 887.3 L1223.5 888.2 L1223.6 888.1 L1224.0 889.1 L1224.1 888.8 L1224.4 889.8 L1224.5 889.8 L1224.6 890.0 L1225.0 890.6 L1225.1 890.7 L1225.4 890.6 L1225.5 891.0 L1225.6 891.0 L1226.0 891.5 L1226.1 891.4 L1226.2 890.7 L1226.3 891.4 L1226.4 891.6 L1226.5 891.5 L1226.6 891.5 L1226.7 891.8 L1226.8 891.7 L1226.9 892.1 L1227.0 892.4 L1227.1 892.1 L1227.2 892.4 L1227.3 891.8 L1227.4 892.0 L1227.5 892.2 L1227.6 892.1 L1227.7 892.4 L1227.8 892.5 L1227.9 893.0 L1228.0 892.4 L1228.1 893.0 L1228.2 892.3 L1228.3 892.5 L1228.4 892.9 L1228.5 892.7 L1228.6 891.7 L1228.7 892.2 L1228.8 892.0 L1228.9 890.8 L1229.0 890.7 L1229.1 891.2 L1229.2 892.1 L1229.3 892.9 L1229.4 892.4 L1229.5 892.8 L1229.6 893.6 L1229.7 893.6 L1229.8 893.9 L1229.9 893.4 L1230.0 893.8 L1230.1 892.8 L1230.2 893.7 L1230.3 893.4 L1230.4 893.3 L1230.5 893.4 L1230.6 894.1 L1230.7 894.2 L1230.8 893.7 L1230.9 893.8 L1231.0 894.3 L1231.1 893.7 L1231.2 894.1 L1231.3 894.2 L1231.4 894.4 L1231.5 894.0 L1231.6 893.3 L1231.7 894.1 L1231.8 894.4 L1231.9 894.1 L1232.0 894.1 L1232.1 894.0 L1232.4 894.5 L1232.5 894.4 L1232.6 894.5 L1233.0 894.5 L1233.1 894.9 L1233.4 894.7 L1233.5 894.6 L1233.6 894.3 L1234.0 894.6 L1234.1 894.7 L1234.4 895.2 L1234.5 894.9 L1234.6 894.7 L1235.0 895.1 L1235.1 895.1 L1235.4 894.8 L1235.5 895.1 L1235.6 894.7 L1236.0 895.1 L1236.1 895.7 L1236.4 895.4 L1236.5 895.3 L1236.6 895.4 L1237.0 895.4 L1237.1 894.9 L1237.4 895.1 L1237.5 895.1 L1237.6 895.4 L1238.0 895.6 L1238.1 895.9 L1238.4 895.3 L1238.6 895.1 L1239.1 895.5 L1239.4 895.5 L1239.6 895.6 L1240.1 895.5 L1240.4 895.7 L1240.6 895.4 L1241.1 895.7 L1241.4 895.9 L1241.6 895.7 L1242.1 895.9 L1242.4 895.5 L1242.6 896.0 L1243.1 895.7 L1243.4 895.6 L1243.6 895.7 L1244.1 895.7 L1244.4 895.8 L1244.6 895.7 L1245.1 896.4 L1245.4 896.2 L1245.6 896.1 L1246.1 896.1 L1246.4 895.9 L1246.6 896.2 L1247.1 895.9 L1247.4 896.0 L1247.6 895.8 L1248.1 896.4 L1248.4 896.4 L1248.6 896.4 L1249.1 896.4 L1249.4 895.4 L1249.6 896.1 L1250.1 896.4 L1250.4 896.3 L1250.6 895.7 L1251.1 896.2 L1251.4 896.3 L1251.6 896.0 L1252.1 895.8 L1252.4 896.0 L1252.6 895.3 L1253.1 896.3 L1253.4 896.0 L1253.6 896.1 L1254.4 896.2 L1255.4 896.2 L1256.4 896.7 L1257.4 896.0 L1258.4 896.2 L1259.0 895.7" fill="none" stroke="#151515" stroke-linejoin="round"/></defs>
<use href="#sp2" stroke-width="1.3"/>
<clipPath id="bc2"><rect x="19.4" y="893.8" width="1244.6" height="10"/></clipPath>
<use href="#sp2" stroke-width="2.0" clip-path="url(#bc2)"/>
<text transform="translate(57.7,720.5) rotate(-90)" font-size="22.6" fill="#2b2d5e" stroke="#2b2d5e" stroke-width="0.35">10.048</text>
<text transform="translate(319.7,798.1) rotate(-90)" font-size="22.6" fill="#2b2d5e" stroke="#2b2d5e" stroke-width="0.35">8.060</text>
<text transform="translate(345.1,769.8) rotate(-90)" font-size="22.6" fill="#2b2d5e" stroke="#2b2d5e" stroke-width="0.35">8.048</text>
<text transform="translate(370.5,757.2) rotate(-90)" font-size="22.6" fill="#2b2d5e" stroke="#2b2d5e" stroke-width="0.35">7.983</text>
<text transform="translate(396.6,788.2) rotate(-90)" font-size="22.6" fill="#2b2d5e" stroke="#2b2d5e" stroke-width="0.35">7.971</text>
<text transform="translate(421.9,819.2) rotate(-90)" font-size="22.6" fill="#2b2d5e" stroke="#2b2d5e" stroke-width="0.35">7.931</text>
<text transform="translate(446.6,813.6) rotate(-90)" font-size="22.6" fill="#2b2d5e" stroke="#2b2d5e" stroke-width="0.35">7.908</text>
<text transform="translate(473.2,792.8) rotate(-90)" font-size="22.6" fill="#2b2d5e" stroke="#2b2d5e" stroke-width="0.35">7.553</text>
<text transform="translate(498.2,801.8) rotate(-90)" font-size="22.6" fill="#2b2d5e" stroke="#2b2d5e" stroke-width="0.35">7.530</text>
<text transform="translate(523.1,827.3) rotate(-90)" font-size="22.6" fill="#2b2d5e" stroke="#2b2d5e" stroke-width="0.35">7.452</text>
<text transform="translate(548.7,822) rotate(-90)" font-size="22.6" fill="#2b2d5e" stroke="#2b2d5e" stroke-width="0.35">7.414</text>
<path d="M49.8 723 L49.8 745" fill="none" stroke="#3a3b5c" stroke-width="1.25" />
<path d="M311.8 800 L311.8 806 L356.3 812.8" fill="none" stroke="#3a3b5c" stroke-width="1.25" />
<path d="M337.2 772 L337.2 777 L357.5 784.6" fill="none" stroke="#3a3b5c" stroke-width="1.25" />
<path d="M362.6 759 L362.6 763 L366.5 770" fill="none" stroke="#3a3b5c" stroke-width="1.25" />
<path d="M388.7 790 L388.7 794 L371.8 800" fill="none" stroke="#3a3b5c" stroke-width="1.25" />
<path d="M414 821 L414 825 L380.2 828.3" fill="none" stroke="#3a3b5c" stroke-width="1.25" />
<path d="M414 825 L376.7 836" fill="none" stroke="#3a3b5c" stroke-width="1.25" />
<path d="M438.7 815 L438.7 821 L435.2 824" fill="none" stroke="#3a3b5c" stroke-width="1.25" />
<path d="M465.3 795 L465.3 803 L440 808 L435.3 810.5" fill="none" stroke="#3a3b5c" stroke-width="1.25" />
<path d="M490.3 804 L490.3 810.5 L439.3 818 L438 822.5 L435.3 823.2" fill="none" stroke="#3a3b5c" stroke-width="1.25" />
<path d="M515.2 829 L515.2 836.5 L452.6 841.8" fill="none" stroke="#3a3b5c" stroke-width="1.25" />
<path d="M540.8 824 L540.8 833 L456.6 839.8" fill="none" stroke="#3a3b5c" stroke-width="1.25" />
<text x="49.8" y="924.2" font-size="22.5" fill="#bb5f69" text-anchor="middle" >1.00</text>
<text x="250.4" y="924.2" font-size="22.5" fill="#bb5f69" text-anchor="middle" >2.10</text>
<text x="300.6" y="924.2" font-size="22.5" fill="#bb5f69" text-anchor="middle" >2.06</text>
<text x="349.8" y="924.2" font-size="22.5" fill="#bb5f69" text-anchor="middle" >1.23</text>
<text x="398.2" y="924.2" font-size="22.5" fill="#bb5f69" text-anchor="middle" >0.96</text>
<text x="447.5" y="924.2" font-size="22.5" fill="#bb5f69" text-anchor="middle" >1.05</text>
<text x="496.7" y="924.2" font-size="22.5" fill="#bb5f69" text-anchor="middle" >1.10</text>
<text x="546" y="924.2" font-size="22.5" fill="#bb5f69" text-anchor="middle" >2.12</text>
<path d="M250.4 905 L250.4 902.5 L300.6 902 L349.8 901.5 L356.5 901 L357 898" fill="none" stroke="#d9878e" stroke-width="1.2" />
<line x1="300.6" y1="902" x2="300.6" y2="905" stroke="#d9878e" stroke-width="1.2" />
<line x1="349.8" y1="902" x2="349.8" y2="905" stroke="#d9878e" stroke-width="1.2" />
<path d="M357 898 L357 901.5 L368.5 901.5 L368.5 898" fill="none" stroke="#d9878e" stroke-width="1.1" />
<path d="M368.5 901.5 L376 901.5 L376 898" fill="none" stroke="#d9878e" stroke-width="1.1" />
<path d="M398.2 898 L398.2 903 L435.2 903 L435.2 898" fill="none" stroke="#d9878e" stroke-width="1.1" />
<path d="M435.2 903 L447.5 903.5 L447.5 898" fill="none" stroke="#d9878e" stroke-width="1.1" />
<path d="M447.5 903.5 L496.7 903.5 L546 903.5 L546 906" fill="none" stroke="#d9878e" stroke-width="1.2" />
<line x1="496.7" y1="903.5" x2="496.7" y2="906" stroke="#d9878e" stroke-width="1.2" />
<line x1="47.2" y1="933.5" x2="47.2" y2="948" stroke="#c9535e" stroke-width="1.4" />
<line x1="52.4" y1="933.5" x2="52.4" y2="948" stroke="#c9535e" stroke-width="1.4" />
<rect x="46.4" y="943.5" width="6.8" height="4" fill="#c9535e"/>
<line x1="247.8" y1="933.5" x2="247.8" y2="948" stroke="#c9535e" stroke-width="1.4" />
<line x1="253" y1="933.5" x2="253" y2="948" stroke="#c9535e" stroke-width="1.4" />
<rect x="247" y="943.5" width="6.8" height="4" fill="#c9535e"/>
<line x1="298" y1="933.5" x2="298" y2="948" stroke="#c9535e" stroke-width="1.4" />
<line x1="303.2" y1="933.5" x2="303.2" y2="948" stroke="#c9535e" stroke-width="1.4" />
<rect x="297.2" y="943.5" width="6.8" height="4" fill="#c9535e"/>
<line x1="347.2" y1="933.5" x2="347.2" y2="948" stroke="#c9535e" stroke-width="1.4" />
<line x1="352.4" y1="933.5" x2="352.4" y2="948" stroke="#c9535e" stroke-width="1.4" />
<rect x="346.4" y="943.5" width="6.8" height="4" fill="#c9535e"/>
<line x1="395.6" y1="933.5" x2="395.6" y2="948" stroke="#c9535e" stroke-width="1.4" />
<line x1="400.8" y1="933.5" x2="400.8" y2="948" stroke="#c9535e" stroke-width="1.4" />
<rect x="394.8" y="943.5" width="6.8" height="4" fill="#c9535e"/>
<line x1="444.9" y1="933.5" x2="444.9" y2="948" stroke="#c9535e" stroke-width="1.4" />
<line x1="450.1" y1="933.5" x2="450.1" y2="948" stroke="#c9535e" stroke-width="1.4" />
<rect x="444.1" y="943.5" width="6.8" height="4" fill="#c9535e"/>
<line x1="494.1" y1="933.5" x2="494.1" y2="948" stroke="#c9535e" stroke-width="1.4" />
<line x1="499.3" y1="933.5" x2="499.3" y2="948" stroke="#c9535e" stroke-width="1.4" />
<rect x="493.3" y="943.5" width="6.8" height="4" fill="#c9535e"/>
<line x1="543.4" y1="933.5" x2="543.4" y2="948" stroke="#c9535e" stroke-width="1.4" />
<line x1="548.6" y1="933.5" x2="548.6" y2="948" stroke="#c9535e" stroke-width="1.4" />
<rect x="542.6" y="943.5" width="6.8" height="4" fill="#c9535e"/>
<line x1="24.4" y1="956" x2="1259" y2="956" stroke="#3c3c3c" stroke-width="1.6"/>
<path d="M1252.3 956.0V963.0 M1244.6 956.0V960.5 M1236.9 956.0V960.5 M1229.2 956.0V960.5 M1221.5 956.0V960.5 M1213.8 956.0V964.5 M1206.0 956.0V960.5 M1198.3 956.0V960.5 M1190.6 956.0V960.5 M1182.9 956.0V960.5 M1175.2 956.0V963.0 M1167.5 956.0V960.5 M1159.7 956.0V960.5 M1152.0 956.0V960.5 M1144.3 956.0V960.5 M1136.6 956.0V964.5 M1128.9 956.0V960.5 M1121.2 956.0V960.5 M1113.5 956.0V960.5 M1105.7 956.0V960.5 M1098.0 956.0V963.0 M1090.3 956.0V960.5 M1082.6 956.0V960.5 M1074.9 956.0V960.5 M1067.2 956.0V960.5 M1059.5 956.0V964.5 M1051.7 956.0V960.5 M1044.0 956.0V960.5 M1036.3 956.0V960.5 M1028.6 956.0V960.5 M1020.9 956.0V963.0 M1013.2 956.0V960.5 M1005.4 956.0V960.5 M997.7 956.0V960.5 M990.0 956.0V960.5 M982.3 956.0V964.5 M974.6 956.0V960.5 M966.9 956.0V960.5 M959.2 956.0V960.5 M951.4 956.0V960.5 M943.7 956.0V963.0 M936.0 956.0V960.5 M928.3 956.0V960.5 M920.6 956.0V960.5 M912.9 956.0V960.5 M905.2 956.0V964.5 M897.4 956.0V960.5 M889.7 956.0V960.5 M882.0 956.0V960.5 M874.3 956.0V960.5 M866.6 956.0V963.0 M858.9 956.0V960.5 M851.1 956.0V960.5 M843.4 956.0V960.5 M835.7 956.0V960.5 M828.0 956.0V964.5 M820.3 956.0V960.5 M812.6 956.0V960.5 M804.9 956.0V960.5 M797.1 956.0V960.5 M789.4 956.0V963.0 M781.7 956.0V960.5 M774.0 956.0V960.5 M766.3 956.0V960.5 M758.6 956.0V960.5 M750.9 956.0V964.5 M743.1 956.0V960.5 M735.4 956.0V960.5 M727.7 956.0V960.5 M720.0 956.0V960.5 M712.3 956.0V963.0 M704.6 956.0V960.5 M696.8 956.0V960.5 M689.1 956.0V960.5 M681.4 956.0V960.5 M673.7 956.0V964.5 M666.0 956.0V960.5 M658.3 956.0V960.5 M650.6 956.0V960.5 M642.8 956.0V960.5 M635.1 956.0V963.0 M627.4 956.0V960.5 M619.7 956.0V960.5 M612.0 956.0V960.5 M604.3 956.0V960.5 M596.6 956.0V964.5 M588.8 956.0V960.5 M581.1 956.0V960.5 M573.4 956.0V960.5 M565.7 956.0V960.5 M558.0 956.0V963.0 M550.3 956.0V960.5 M542.5 956.0V960.5 M534.8 956.0V960.5 M527.1 956.0V960.5 M519.4 956.0V964.5 M511.7 956.0V960.5 M504.0 956.0V960.5 M496.3 956.0V960.5 M488.5 956.0V960.5 M480.8 956.0V963.0 M473.1 956.0V960.5 M465.4 956.0V960.5 M457.7 956.0V960.5 M450.0 956.0V960.5 M442.2 956.0V964.5 M434.5 956.0V960.5 M426.8 956.0V960.5 M419.1 956.0V960.5 M411.4 956.0V960.5 M403.7 956.0V963.0 M396.0 956.0V960.5 M388.2 956.0V960.5 M380.5 956.0V960.5 M372.8 956.0V960.5 M365.1 956.0V964.5 M357.4 956.0V960.5 M349.7 956.0V960.5 M342.0 956.0V960.5 M334.2 956.0V960.5 M326.5 956.0V963.0 M318.8 956.0V960.5 M311.1 956.0V960.5 M303.4 956.0V960.5 M295.7 956.0V960.5 M288.0 956.0V964.5 M280.2 956.0V960.5 M272.5 956.0V960.5 M264.8 956.0V960.5 M257.1 956.0V960.5 M249.4 956.0V963.0 M241.7 956.0V960.5 M233.9 956.0V960.5 M226.2 956.0V960.5 M218.5 956.0V960.5 M210.8 956.0V964.5 M203.1 956.0V960.5 M195.4 956.0V960.5 M187.7 956.0V960.5 M179.9 956.0V960.5 M172.2 956.0V963.0 M164.5 956.0V960.5 M156.8 956.0V960.5 M149.1 956.0V960.5 M141.4 956.0V960.5 M133.7 956.0V964.5 M125.9 956.0V960.5 M118.2 956.0V960.5 M110.5 956.0V960.5 M102.8 956.0V960.5 M95.1 956.0V963.0 M87.4 956.0V960.5 M79.6 956.0V960.5 M71.9 956.0V960.5 M64.2 956.0V960.5 M56.5 956.0V964.5 M48.8 956.0V960.5 M41.1 956.0V960.5 M33.4 956.0V960.5 M25.6 956.0V960.5 M24.4 956.0V960.5 M1259.0 956.0V960.5" stroke="#3c3c3c" stroke-width="1.5" fill="none"/>
<text x="61.1" y="991.3" font-size="19.5" fill="#333333" text-anchor="middle" >10.0</text>
<text x="208.5" y="991.3" font-size="19.5" fill="#333333" text-anchor="middle" >9.0</text>
<text x="366" y="991.3" font-size="19.5" fill="#333333" text-anchor="middle" >8.0</text>
<text x="519.1" y="991.3" font-size="19.5" fill="#333333" text-anchor="middle" >7.0</text>
<text x="676.5" y="991.3" font-size="19.5" fill="#333333" text-anchor="middle" >6.0</text>
<text x="824.1" y="991.3" font-size="19.5" fill="#333333" text-anchor="middle" >5.0</text>
<text x="981.7" y="991.3" font-size="19.5" fill="#333333" text-anchor="middle" >4.0</text>
<text x="1134" y="991.3" font-size="19.5" fill="#333333" text-anchor="middle" >3.0</text>
<text x="59" y="1124.2" font-size="44.5" fill="#111" text-anchor="start" >c - BTh</text>
<text x="1078" y="1107" font-size="20.2" fill="#333333">H<tspan font-size="15" dy="4.5">2</tspan><tspan dy="-4.5">O</tspan></text>
<text x="1170.2" y="1107" font-size="20.2" fill="#333333" text-anchor="start" >DMSO</text>
<rect x="1079.4" y="1133" width="6.6" height="325" fill="#c9c6b0"/>
<line x1="1080" y1="1133" x2="1080" y2="1458" stroke="#aaa68e" stroke-width="1.2"/>
<rect x="1205.6" y="1133" width="3.6" height="325" fill="#d4d2c0"/>
<path d="M73.8 1451 L74.9 1420 L76.3 1388" fill="none" stroke="#c9535e" stroke-width="1.35" />
<path d="M360 1451 L361.2 1410 L363.5 1384" fill="none" stroke="#c9535e" stroke-width="1.35" />
<path d="M376.8 1451 L378.6 1380 L381.5 1253" fill="none" stroke="#c9535e" stroke-width="1.35" />
<path d="M385.5 1451 L387 1380 L388.5 1318" fill="none" stroke="#c9535e" stroke-width="1.35" />
<path d="M406.8 1451 L408.8 1400 L410.5 1380" fill="none" stroke="#c9535e" stroke-width="1.35" />
<path d="M411.8 1451 L413.6 1420 L416.5 1382" fill="none" stroke="#c9535e" stroke-width="1.35" />
<path d="M446.5 1451 L449 1410 L451.5 1384" fill="none" stroke="#c9535e" stroke-width="1.35" />
<path d="M458.6 1451 L461 1410 L463.5 1384" fill="none" stroke="#c9535e" stroke-width="1.35" />
<defs><path id="sp3" d="M33.2 1450.6 L34.2 1450.2 L35.2 1451.0 L36.2 1450.8 L37.2 1450.6 L38.2 1451.0 L39.2 1450.5 L40.2 1450.7 L41.2 1450.5 L42.2 1450.5 L43.2 1450.7 L44.2 1450.6 L45.2 1450.7 L46.2 1450.4 L47.2 1450.3 L48.2 1451.2 L49.2 1450.9 L50.2 1450.7 L51.2 1450.8 L52.2 1450.5 L53.2 1450.9 L54.2 1450.3 L55.2 1450.9 L56.2 1450.9 L57.2 1450.7 L58.2 1451.0 L59.2 1450.7 L60.2 1451.3 L61.2 1450.9 L62.2 1450.3 L63.2 1450.5 L64.2 1451.2 L65.2 1450.6 L66.2 1450.8 L67.2 1450.5 L68.2 1451.1 L69.2 1450.9 L70.2 1450.8 L70.7 1450.4 L71.2 1450.3 L71.2 1450.8 L71.7 1450.1 L71.9 1449.6 L72.0 1450.6 L72.1 1450.4 L72.2 1449.7 L72.2 1450.1 L72.3 1450.2 L72.4 1450.0 L72.5 1450.4 L72.6 1450.2 L72.7 1449.5 L72.7 1449.7 L72.8 1449.9 L72.9 1449.8 L73.0 1449.2 L73.1 1449.5 L73.2 1448.8 L73.2 1449.2 L73.3 1448.2 L73.4 1448.6 L73.5 1448.7 L73.6 1448.2 L73.7 1447.2 L73.7 1446.3 L73.8 1446.6 L73.9 1446.0 L74.0 1444.6 L74.1 1443.0 L74.2 1441.4 L74.2 1440.6 L74.3 1437.2 L74.4 1432.4 L74.5 1424.8 L74.6 1412.3 L74.7 1400.1 L74.7 1389.6 L74.8 1358.5 L74.9 1339.2 L75.0 1358.4 L75.1 1389.9 L75.2 1403.9 L75.2 1411.9 L75.3 1424.7 L75.4 1433.1 L75.5 1437.3 L75.6 1440.8 L75.7 1441.9 L75.7 1443.1 L75.8 1444.0 L75.9 1445.5 L76.0 1446.2 L76.1 1446.7 L76.2 1447.4 L76.2 1447.6 L76.3 1447.9 L76.4 1448.1 L76.5 1448.5 L76.6 1448.7 L76.7 1449.4 L76.7 1449.3 L76.8 1449.7 L76.9 1449.7 L77.0 1450.1 L77.1 1449.7 L77.2 1449.8 L77.2 1449.8 L77.3 1449.8 L77.4 1450.1 L77.5 1450.1 L77.6 1450.2 L77.7 1450.2 L77.7 1450.4 L77.8 1449.8 L78.2 1450.5 L78.2 1450.3 L78.7 1450.3 L79.2 1450.4 L80.2 1450.8 L81.2 1450.9 L82.2 1450.7 L83.2 1451.0 L84.2 1450.9 L85.2 1451.1 L86.2 1451.1 L87.2 1451.0 L88.2 1450.7 L89.2 1450.5 L90.2 1451.2 L91.2 1450.6 L92.2 1451.0 L93.2 1450.8 L94.2 1451.3 L95.2 1450.8 L96.2 1450.7 L97.2 1450.2 L98.2 1451.0 L99.2 1450.8 L100.2 1450.6 L101.2 1450.7 L102.2 1451.2 L103.2 1450.9 L104.2 1451.1 L105.2 1450.8 L106.2 1450.9 L107.2 1451.1 L108.2 1450.7 L109.2 1451.2 L110.2 1450.8 L111.2 1451.4 L112.2 1450.7 L113.2 1450.7 L114.2 1450.9 L115.2 1450.7 L116.2 1450.8 L117.2 1450.8 L118.2 1451.2 L119.2 1450.7 L120.2 1451.2 L121.2 1451.1 L122.2 1450.9 L123.2 1450.8 L124.2 1451.4 L125.2 1450.1 L126.2 1450.7 L127.2 1450.8 L128.2 1451.0 L129.2 1450.9 L130.2 1451.1 L131.2 1451.0 L132.2 1451.2 L133.2 1450.7 L134.2 1451.0 L135.2 1451.3 L136.2 1450.7 L137.2 1450.9 L138.2 1450.4 L139.2 1451.0 L140.2 1450.6 L141.2 1451.0 L142.2 1450.5 L143.2 1450.8 L144.2 1450.5 L145.2 1450.8 L146.2 1451.0 L147.2 1451.5 L148.2 1451.0 L149.2 1451.0 L150.2 1451.4 L151.2 1451.1 L152.2 1450.5 L153.2 1451.0 L154.2 1450.9 L155.2 1451.1 L156.2 1451.0 L157.2 1450.3 L158.2 1450.7 L159.2 1451.4 L160.2 1451.1 L161.2 1450.6 L162.2 1450.7 L163.2 1450.7 L164.2 1450.4 L165.2 1449.8 L166.2 1451.0 L167.2 1450.5 L168.2 1450.6 L169.2 1450.6 L170.2 1450.7 L171.2 1450.7 L172.2 1451.2 L173.2 1450.7 L174.2 1451.0 L175.2 1450.8 L176.2 1451.2 L177.2 1450.8 L178.2 1450.2 L179.2 1451.3 L180.2 1451.3 L181.2 1451.0 L182.2 1450.3 L183.2 1451.2 L184.2 1450.9 L185.2 1450.5 L186.2 1450.6 L187.2 1451.1 L188.2 1450.6 L189.2 1450.7 L190.2 1450.6 L191.2 1450.9 L192.2 1450.5 L193.2 1451.0 L194.2 1450.7 L195.2 1451.4 L196.2 1450.6 L197.2 1450.8 L198.2 1451.1 L199.2 1451.0 L200.2 1450.3 L201.2 1450.8 L202.2 1450.9 L203.2 1451.0 L204.2 1450.7 L205.2 1451.2 L206.2 1451.2 L207.2 1450.7 L208.2 1450.5 L209.2 1450.8 L210.2 1451.0 L211.2 1451.1 L212.2 1450.5 L213.2 1450.6 L214.2 1450.2 L215.2 1450.5 L216.2 1451.1 L217.2 1451.5 L218.2 1451.0 L219.2 1450.8 L220.2 1450.7 L221.2 1451.4 L222.2 1451.2 L223.2 1450.9 L224.2 1450.7 L225.2 1450.6 L226.2 1450.8 L227.2 1451.4 L228.2 1450.8 L229.2 1450.7 L230.2 1450.9 L231.2 1450.8 L232.2 1451.1 L233.2 1450.5 L234.2 1450.9 L235.2 1450.6 L236.2 1451.1 L237.2 1450.9 L238.2 1450.6 L239.2 1450.7 L240.2 1450.8 L241.2 1451.3 L242.2 1451.0 L243.2 1450.9 L244.2 1450.5 L245.2 1450.3 L246.2 1450.3 L247.2 1450.6 L248.2 1450.9 L249.2 1450.8 L250.2 1451.1 L251.2 1450.5 L252.2 1450.7 L253.2 1450.7 L254.2 1450.5 L255.2 1450.1 L256.2 1450.5 L257.2 1451.1 L258.2 1450.3 L259.2 1451.0 L260.2 1451.0 L261.2 1450.7 L262.2 1450.9 L263.2 1450.7 L264.2 1450.8 L265.2 1451.2 L266.2 1451.1 L267.2 1451.1 L268.2 1450.9 L269.2 1450.8 L270.2 1450.9 L271.2 1450.4 L272.2 1450.5 L273.2 1450.8 L274.2 1450.2 L275.2 1450.8 L276.2 1450.7 L277.2 1450.7 L278.2 1450.7 L279.2 1450.6 L280.2 1451.4 L281.2 1450.2 L282.2 1450.6 L283.2 1450.2 L284.2 1450.9 L285.2 1451.0 L286.2 1451.3 L287.2 1450.6 L288.2 1451.0 L289.2 1450.5 L290.2 1450.7 L291.2 1451.0 L292.2 1450.3 L293.2 1450.7 L294.2 1450.6 L295.2 1450.9 L296.2 1451.0 L297.2 1450.3 L298.2 1450.7 L299.2 1450.3 L300.2 1450.1 L301.2 1450.4 L302.2 1450.6 L303.2 1450.4 L304.2 1450.4 L305.2 1451.1 L306.2 1450.8 L307.2 1451.1 L308.2 1451.2 L309.2 1450.8 L310.2 1451.5 L311.2 1450.9 L312.2 1450.8 L313.2 1450.5 L314.2 1450.7 L315.2 1450.9 L316.2 1450.8 L317.2 1450.8 L318.2 1450.9 L319.2 1450.4 L320.2 1450.5 L321.2 1450.7 L322.2 1450.6 L323.2 1450.4 L324.2 1450.7 L325.2 1450.5 L326.2 1451.1 L327.2 1450.5 L328.2 1450.8 L329.2 1450.2 L330.2 1450.7 L331.2 1451.1 L332.2 1450.8 L333.2 1451.0 L334.2 1450.8 L335.2 1450.7 L336.2 1450.9 L337.2 1450.9 L338.2 1450.9 L339.2 1450.6 L340.2 1450.6 L341.2 1449.9 L342.2 1450.8 L343.2 1450.4 L344.2 1450.5 L345.2 1451.0 L346.2 1450.8 L347.2 1450.8 L348.2 1450.5 L349.2 1450.9 L350.2 1450.7 L351.2 1450.8 L352.2 1450.6 L353.2 1451.2 L354.2 1450.3 L355.2 1450.7 L356.2 1450.6 L357.2 1450.7 L358.0 1450.5 L358.0 1450.1 L358.1 1450.3 L358.2 1450.7 L358.3 1450.5 L358.4 1450.0 L358.5 1450.2 L358.5 1450.1 L358.6 1450.5 L358.7 1449.9 L358.8 1450.4 L358.9 1450.4 L359.0 1449.8 L359.0 1450.5 L359.1 1449.7 L359.2 1449.6 L359.3 1449.8 L359.4 1449.2 L359.5 1449.3 L359.5 1448.9 L359.6 1448.9 L359.7 1448.8 L359.8 1448.1 L359.9 1448.3 L360.0 1448.0 L360.0 1447.6 L360.1 1447.2 L360.2 1446.4 L360.3 1444.8 L360.4 1443.5 L360.5 1441.7 L360.5 1440.6 L360.6 1436.8 L360.7 1429.6 L360.8 1417.7 L360.9 1402.6 L361.0 1393.7 L361.0 1393.1 L361.1 1401.9 L361.2 1417.9 L361.3 1428.3 L361.4 1434.3 L361.5 1437.1 L361.5 1438.0 L361.6 1439.4 L361.7 1439.9 L361.8 1438.9 L361.9 1435.4 L362.0 1432.2 L362.0 1430.9 L362.1 1421.2 L362.2 1406.5 L362.3 1398.2 L362.4 1407.9 L362.5 1417.4 L362.5 1422.1 L362.6 1431.4 L362.7 1438.0 L362.8 1441.4 L362.9 1444.1 L363.0 1445.5 L363.0 1445.7 L363.1 1446.9 L363.2 1447.7 L363.3 1448.4 L363.4 1448.4 L363.5 1448.0 L363.5 1448.2 L363.6 1449.2 L363.7 1449.4 L363.8 1449.7 L363.9 1449.4 L364.0 1449.4 L364.0 1449.0 L364.1 1449.4 L364.2 1449.7 L364.3 1449.7 L364.4 1449.4 L364.5 1450.4 L364.6 1450.0 L364.7 1450.2 L364.8 1450.2 L364.9 1450.2 L365.0 1449.9 L365.1 1450.5 L365.2 1450.1 L366.2 1450.1 L367.2 1450.9 L368.2 1450.6 L369.2 1450.7 L370.2 1449.9 L371.2 1451.0 L372.2 1450.1 L373.2 1449.9 L373.4 1450.1 L373.9 1449.8 L374.2 1449.7 L374.4 1450.1 L374.8 1450.2 L374.8 1449.7 L374.9 1449.7 L374.9 1449.7 L375.0 1449.7 L375.1 1449.2 L375.2 1450.0 L375.3 1448.9 L375.3 1449.2 L375.4 1449.9 L375.4 1449.2 L375.5 1448.9 L375.6 1449.1 L375.7 1449.6 L375.8 1448.8 L375.8 1448.4 L375.9 1448.6 L375.9 1448.6 L376.0 1448.1 L376.1 1448.2 L376.2 1447.1 L376.3 1447.6 L376.3 1447.5 L376.4 1447.1 L376.4 1446.8 L376.5 1447.0 L376.6 1446.1 L376.7 1445.5 L376.8 1444.1 L376.8 1444.4 L376.9 1443.5 L376.9 1443.2 L377.0 1440.8 L377.1 1438.5 L377.2 1434.8 L377.3 1430.1 L377.3 1429.6 L377.4 1422.5 L377.4 1421.4 L377.5 1406.5 L377.6 1382.7 L377.7 1348.0 L377.8 1327.1 L377.8 1326.6 L377.9 1343.9 L377.9 1348.1 L378.0 1381.1 L378.1 1404.5 L378.2 1418.1 L378.3 1424.1 L378.3 1425.2 L378.4 1428.9 L378.4 1429.6 L378.5 1431.0 L378.6 1430.3 L378.7 1428.4 L378.8 1425.3 L378.8 1424.7 L378.9 1417.3 L378.9 1416.3 L379.0 1402.7 L379.1 1377.9 L379.2 1343.5 L379.3 1322.4 L379.3 1322.1 L379.4 1341.1 L379.4 1343.8 L379.5 1379.4 L379.6 1404.6 L379.7 1419.0 L379.8 1428.2 L379.8 1428.9 L379.9 1433.9 L379.9 1434.3 L380.0 1438.0 L380.1 1440.1 L380.2 1442.4 L380.3 1443.6 L380.3 1444.0 L380.4 1444.8 L380.4 1445.1 L380.5 1445.8 L380.6 1445.6 L380.7 1446.5 L380.8 1447.3 L380.8 1447.0 L380.9 1447.5 L380.9 1447.8 L381.0 1447.5 L381.1 1448.1 L381.2 1448.7 L381.3 1448.4 L381.3 1448.2 L381.4 1448.6 L381.4 1448.5 L381.5 1448.3 L381.6 1449.0 L381.7 1448.9 L381.8 1448.4 L381.8 1449.4 L381.9 1448.8 L381.9 1449.1 L382.0 1449.3 L382.0 1449.1 L382.1 1448.8 L382.2 1448.5 L382.3 1449.1 L382.5 1449.4 L382.8 1449.0 L383.0 1449.2 L383.2 1449.7 L383.3 1449.0 L383.5 1450.5 L383.5 1449.4 L383.5 1448.9 L383.6 1449.4 L383.7 1449.1 L383.8 1449.5 L383.8 1448.7 L383.9 1449.3 L384.0 1448.7 L384.0 1449.1 L384.0 1449.5 L384.1 1448.9 L384.2 1449.2 L384.3 1448.6 L384.4 1448.8 L384.5 1448.2 L384.5 1448.3 L384.5 1448.4 L384.6 1447.8 L384.7 1447.7 L384.8 1447.6 L384.9 1448.0 L385.0 1447.2 L385.0 1446.8 L385.0 1446.7 L385.1 1446.7 L385.2 1445.8 L385.3 1445.6 L385.4 1444.4 L385.5 1443.6 L385.5 1444.0 L385.5 1443.1 L385.6 1443.0 L385.7 1440.2 L385.8 1437.4 L385.9 1434.3 L386.0 1430.1 L386.0 1429.5 L386.0 1428.6 L386.1 1419.2 L386.2 1404.4 L386.3 1379.3 L386.4 1343.8 L386.5 1323.0 L386.5 1322.1 L386.5 1321.8 L386.6 1341.9 L386.7 1377.1 L386.8 1401.6 L386.9 1414.7 L387.0 1421.0 L387.0 1421.3 L387.0 1422.0 L387.1 1425.1 L387.2 1425.0 L387.3 1423.1 L387.4 1416.8 L387.5 1407.1 L387.5 1405.3 L387.5 1404.2 L387.6 1382.0 L387.7 1350.9 L387.8 1331.2 L387.9 1351.1 L388.0 1378.3 L388.0 1382.2 L388.0 1384.5 L388.1 1407.5 L388.2 1421.6 L388.3 1429.6 L388.4 1435.5 L388.5 1437.7 L388.5 1438.6 L388.5 1439.0 L388.6 1441.4 L388.7 1442.8 L388.8 1444.0 L388.9 1445.1 L389.0 1445.8 L389.0 1446.0 L389.0 1445.9 L389.1 1446.6 L389.2 1446.9 L389.3 1447.2 L389.4 1448.1 L389.5 1448.2 L389.5 1448.3 L389.5 1448.6 L389.6 1448.1 L389.7 1448.4 L389.8 1448.6 L389.9 1449.2 L390.0 1448.6 L390.0 1448.8 L390.0 1449.3 L390.1 1448.7 L390.2 1449.5 L390.3 1449.9 L390.4 1449.6 L390.5 1449.3 L390.5 1449.4 L390.5 1449.2 L390.6 1449.6 L390.7 1450.0 L391.0 1450.1 L391.0 1449.1 L391.2 1449.7 L391.5 1450.1 L392.0 1450.1 L392.2 1449.5 L393.2 1450.4 L394.2 1450.6 L395.2 1450.5 L396.2 1450.5 L397.2 1450.9 L398.2 1450.2 L399.2 1450.5 L400.2 1450.7 L401.2 1451.6 L402.2 1450.3 L403.2 1450.7 L404.2 1450.9 L404.3 1450.6 L404.8 1450.6 L405.2 1450.6 L405.3 1449.6 L405.4 1450.3 L405.5 1449.9 L405.6 1450.5 L405.7 1450.1 L405.8 1450.0 L405.8 1450.0 L405.9 1449.5 L406.0 1450.1 L406.1 1449.2 L406.2 1449.6 L406.3 1449.4 L406.3 1449.8 L406.4 1449.4 L406.5 1449.0 L406.6 1449.3 L406.7 1449.5 L406.8 1448.4 L406.8 1449.1 L406.9 1448.3 L407.0 1448.1 L407.1 1447.7 L407.2 1447.0 L407.3 1447.2 L407.3 1446.8 L407.4 1446.1 L407.5 1444.4 L407.6 1443.6 L407.7 1441.1 L407.8 1438.8 L407.8 1437.1 L407.9 1434.1 L408.0 1426.1 L408.1 1414.0 L408.2 1394.1 L408.3 1365.3 L408.3 1359.7 L408.4 1347.2 L408.5 1364.8 L408.6 1394.3 L408.7 1414.1 L408.8 1426.2 L408.8 1428.5 L408.9 1433.9 L409.0 1438.3 L409.1 1441.6 L409.2 1442.8 L409.3 1444.8 L409.3 1445.6 L409.4 1445.6 L409.5 1446.1 L409.6 1447.5 L409.7 1447.8 L409.8 1448.3 L409.8 1448.3 L409.9 1448.1 L410.0 1448.4 L410.1 1448.3 L410.2 1449.7 L410.3 1448.7 L410.3 1448.9 L410.4 1448.9 L410.5 1449.3 L410.6 1449.7 L410.7 1449.1 L410.8 1449.5 L410.8 1449.6 L410.9 1450.0 L411.0 1449.3 L411.1 1449.4 L411.2 1449.8 L411.3 1448.8 L411.3 1449.3 L411.4 1449.3 L411.5 1448.8 L411.6 1449.0 L411.7 1449.0 L411.8 1449.1 L411.8 1449.0 L411.9 1448.4 L412.0 1448.1 L412.1 1448.3 L412.2 1447.2 L412.3 1446.9 L412.3 1446.6 L412.4 1445.9 L412.5 1445.5 L412.6 1443.5 L412.7 1441.7 L412.8 1439.2 L412.9 1434.3 L413.0 1424.9 L413.1 1410.9 L413.2 1390.7 L413.3 1378.3 L413.4 1391.4 L413.5 1411.5 L413.6 1425.5 L413.7 1433.5 L413.8 1439.1 L413.9 1442.0 L414.0 1444.0 L414.1 1445.6 L414.2 1446.9 L414.3 1447.2 L414.4 1447.6 L414.5 1447.8 L414.6 1448.9 L414.7 1448.9 L414.8 1448.2 L414.9 1449.2 L415.0 1449.5 L415.1 1448.9 L415.2 1449.0 L415.3 1449.8 L415.4 1449.5 L415.5 1449.2 L415.6 1449.7 L415.7 1449.8 L415.8 1449.4 L415.9 1449.4 L416.0 1449.6 L416.1 1449.6 L416.2 1450.1 L416.3 1449.8 L416.4 1449.5 L416.5 1449.0 L416.6 1448.7 L416.7 1448.0 L416.8 1448.2 L416.9 1447.5 L417.0 1446.5 L417.1 1445.6 L417.2 1443.6 L417.3 1439.0 L417.4 1433.5 L417.5 1424.8 L417.6 1419.1 L417.7 1424.5 L417.8 1434.0 L417.9 1439.9 L418.0 1444.0 L418.1 1445.3 L418.2 1446.6 L418.3 1447.7 L418.4 1448.7 L418.5 1449.2 L418.6 1449.8 L418.7 1449.2 L418.8 1449.2 L418.9 1450.0 L419.0 1450.1 L419.1 1450.1 L419.2 1450.5 L419.3 1449.9 L419.4 1449.7 L419.5 1450.9 L419.6 1450.4 L419.7 1450.2 L419.8 1450.6 L419.9 1451.1 L420.0 1450.5 L420.1 1451.0 L420.2 1450.5 L420.3 1451.1 L420.4 1450.5 L420.5 1450.9 L421.2 1450.6 L422.2 1450.8 L423.2 1450.7 L424.2 1450.6 L425.2 1450.7 L426.2 1450.9 L427.2 1450.7 L428.2 1450.6 L429.2 1450.9 L430.2 1451.2 L431.2 1450.7 L432.2 1450.4 L433.2 1450.5 L434.2 1450.7 L435.2 1451.2 L436.2 1450.4 L437.2 1451.1 L438.2 1450.7 L439.2 1450.5 L440.2 1450.5 L441.2 1451.0 L442.2 1450.5 L443.2 1451.0 L444.2 1451.1 L444.6 1450.2 L444.7 1450.0 L444.8 1449.8 L444.9 1450.5 L445.0 1450.0 L445.1 1450.1 L445.2 1450.0 L445.3 1450.6 L445.4 1450.4 L445.5 1450.3 L445.6 1449.5 L445.7 1449.7 L445.8 1449.9 L445.9 1449.8 L446.0 1449.8 L446.1 1450.0 L446.2 1449.6 L446.3 1449.4 L446.4 1448.9 L446.5 1448.5 L446.6 1448.1 L446.7 1447.7 L446.8 1446.5 L446.9 1445.9 L447.0 1444.6 L447.1 1442.3 L447.2 1439.0 L447.3 1432.7 L447.4 1423.4 L447.5 1409.8 L447.6 1401.8 L447.7 1409.7 L447.8 1423.3 L447.9 1432.7 L448.0 1438.6 L448.1 1441.7 L448.2 1444.1 L448.3 1444.9 L448.4 1446.0 L448.5 1446.0 L448.6 1445.9 L448.7 1445.8 L448.8 1446.2 L448.9 1445.1 L449.0 1444.0 L449.1 1443.1 L449.2 1438.8 L449.3 1433.9 L449.4 1424.5 L449.5 1411.9 L449.6 1404.5 L449.7 1412.1 L449.8 1425.7 L449.9 1434.0 L450.0 1439.5 L450.1 1442.5 L450.2 1445.0 L450.3 1446.0 L450.4 1447.2 L450.5 1447.6 L450.6 1448.5 L450.7 1448.5 L450.8 1449.0 L450.9 1449.2 L451.0 1449.2 L451.1 1449.6 L451.2 1449.7 L451.3 1449.9 L451.4 1449.3 L451.5 1450.4 L451.6 1450.1 L451.7 1450.2 L451.8 1450.3 L451.9 1449.8 L452.0 1450.4 L452.1 1450.3 L452.2 1450.1 L452.3 1450.5 L452.4 1450.2 L452.5 1450.0 L453.2 1450.7 L454.2 1450.7 L455.2 1450.6 L456.2 1450.4 L456.8 1450.8 L456.9 1450.2 L457.0 1450.4 L457.1 1450.2 L457.2 1450.2 L457.3 1450.4 L457.4 1449.9 L457.5 1450.3 L457.6 1450.2 L457.7 1450.0 L457.8 1449.8 L457.9 1449.5 L458.0 1449.9 L458.1 1450.3 L458.2 1449.5 L458.3 1449.3 L458.4 1449.2 L458.5 1449.3 L458.6 1449.1 L458.7 1448.7 L458.8 1448.2 L458.9 1447.4 L459.0 1447.3 L459.1 1446.0 L459.2 1444.8 L459.3 1442.5 L459.4 1439.0 L459.5 1433.5 L459.6 1423.6 L459.7 1410.4 L459.8 1401.9 L459.9 1410.0 L460.0 1423.3 L460.1 1433.2 L460.2 1438.7 L460.3 1442.1 L460.4 1443.9 L460.5 1444.8 L460.6 1445.6 L460.7 1446.2 L460.8 1446.7 L460.9 1446.3 L461.0 1445.8 L461.1 1445.2 L461.2 1444.4 L461.3 1442.2 L461.4 1439.1 L461.5 1434.0 L461.6 1425.2 L461.7 1411.8 L461.8 1404.3 L461.9 1412.3 L462.0 1425.1 L462.1 1434.5 L462.2 1440.0 L462.3 1442.7 L462.4 1445.7 L462.5 1446.5 L462.6 1447.7 L462.7 1448.1 L462.8 1447.9 L462.9 1448.4 L463.0 1449.1 L463.1 1449.4 L463.2 1449.7 L463.3 1449.0 L463.4 1449.6 L463.5 1450.0 L463.6 1450.3 L463.7 1450.2 L463.8 1449.7 L463.9 1450.0 L464.0 1450.1 L464.1 1450.1 L464.2 1450.6 L464.3 1450.7 L464.4 1450.7 L464.5 1450.0 L464.6 1450.0 L464.7 1450.0 L465.2 1450.4 L466.2 1450.6 L467.2 1450.3 L468.2 1450.8 L469.2 1450.8 L470.2 1450.7 L471.2 1450.9 L472.2 1450.5 L473.2 1450.4 L474.2 1451.2 L475.2 1450.7 L476.2 1451.1 L477.2 1450.6 L478.2 1450.1 L479.2 1450.9 L480.2 1450.4 L481.2 1450.5 L482.2 1451.0 L483.2 1450.3 L484.2 1450.7 L485.2 1451.1 L486.2 1451.4 L487.2 1450.5 L488.2 1450.8 L489.2 1450.6 L490.2 1451.2 L491.2 1450.6 L492.2 1451.2 L493.2 1450.4 L494.2 1451.0 L495.2 1451.2 L496.2 1451.0 L497.2 1450.8 L498.2 1450.6 L499.2 1450.4 L500.2 1451.1 L501.2 1451.1 L502.2 1450.9 L503.2 1450.4 L504.2 1450.5 L505.2 1450.7 L506.2 1451.3 L507.2 1451.4 L508.2 1451.1 L509.2 1450.4 L510.2 1450.2 L511.2 1450.8 L512.2 1450.9 L513.2 1451.3 L514.2 1450.5 L515.2 1451.1 L516.2 1450.7 L517.2 1451.0 L518.2 1450.6 L519.2 1450.6 L520.2 1450.6 L521.2 1450.7 L522.2 1450.5 L523.2 1450.5 L524.2 1450.9 L525.2 1450.4 L526.2 1450.7 L527.2 1450.6 L528.2 1450.7 L529.2 1451.1 L530.2 1450.6 L531.2 1451.3 L532.2 1450.2 L533.2 1450.5 L534.2 1451.0 L535.2 1450.0 L536.2 1450.7 L537.2 1450.9 L538.2 1450.4 L539.2 1451.2 L540.2 1451.3 L541.2 1450.8 L542.2 1450.8 L543.2 1451.0 L544.2 1451.1 L545.2 1450.7 L546.2 1450.7 L547.2 1451.4 L548.2 1450.9 L549.2 1450.7 L550.2 1450.5 L551.2 1449.9 L552.2 1450.8 L553.2 1450.8 L554.2 1450.8 L555.2 1450.7 L556.2 1451.0 L557.2 1450.9 L558.2 1450.9 L559.2 1450.7 L560.2 1450.7 L561.2 1450.8 L562.2 1450.6 L563.2 1451.1 L564.2 1450.9 L565.2 1450.8 L566.2 1451.4 L567.2 1451.0 L568.2 1450.4 L569.2 1450.5 L570.2 1450.8 L571.2 1450.6 L572.2 1451.2 L573.2 1451.0 L574.2 1451.1 L575.2 1451.1 L576.2 1451.1 L577.2 1450.3 L578.2 1450.4 L579.2 1450.5 L580.2 1451.0 L581.2 1450.9 L582.2 1451.4 L583.2 1451.2 L584.2 1451.2 L585.2 1450.6 L586.2 1450.8 L587.2 1451.1 L588.2 1450.5 L589.2 1450.6 L590.2 1451.3 L591.2 1451.4 L592.2 1450.3 L593.2 1450.8 L594.2 1450.4 L595.2 1450.2 L596.2 1450.5 L597.2 1451.0 L598.2 1451.0 L599.2 1450.9 L600.2 1451.2 L601.2 1450.5 L602.2 1450.7 L603.2 1451.2 L604.2 1451.0 L605.2 1450.5 L606.2 1450.4 L607.2 1450.8 L608.2 1450.8 L609.2 1450.9 L610.2 1450.7 L611.2 1450.8 L612.2 1450.6 L613.2 1450.8 L614.2 1450.6 L615.2 1450.4 L616.2 1450.8 L617.2 1450.5 L618.2 1450.5 L619.2 1451.0 L620.2 1450.9 L621.2 1451.4 L622.2 1451.3 L623.2 1450.7 L624.2 1450.7 L625.2 1450.6 L626.2 1450.4 L627.2 1451.3 L628.2 1451.0 L629.2 1450.6 L630.2 1451.3 L631.2 1451.0 L632.2 1451.0 L633.2 1450.7 L634.2 1450.1 L635.2 1451.0 L636.2 1450.6 L637.2 1450.3 L638.2 1451.0 L639.2 1451.0 L640.2 1450.5 L641.2 1450.8 L642.2 1450.9 L643.2 1450.8 L644.2 1450.6 L645.2 1451.2 L646.2 1450.7 L647.2 1451.1 L648.2 1450.8 L649.2 1450.7 L650.2 1451.2 L651.2 1450.6 L652.2 1450.9 L653.2 1451.0 L654.2 1451.1 L655.2 1450.8 L656.2 1450.3 L657.2 1450.3 L658.2 1450.2 L659.2 1450.4 L660.2 1450.7 L661.2 1450.7 L662.2 1450.6 L663.2 1450.7 L664.2 1450.6 L665.2 1450.8 L666.2 1450.8 L667.2 1451.4 L668.2 1450.7 L669.2 1450.7 L670.2 1450.7 L671.2 1450.5 L672.2 1451.0 L673.2 1450.4 L674.2 1451.4 L675.2 1450.3 L676.2 1450.8 L677.2 1451.1 L678.2 1450.9 L679.2 1451.0 L680.2 1450.3 L681.2 1451.1 L682.2 1451.0 L683.2 1451.3 L684.2 1450.8 L685.2 1450.8 L686.2 1450.3 L687.2 1451.0 L688.2 1450.5 L689.2 1450.9 L690.2 1451.3 L691.2 1450.5 L692.2 1450.9 L693.2 1450.6 L694.2 1450.6 L695.2 1450.2 L696.2 1450.7 L697.2 1450.9 L698.2 1451.2 L699.2 1451.3 L700.2 1450.8 L701.2 1451.1 L702.2 1450.8 L703.2 1450.5 L704.2 1450.7 L705.2 1451.1 L706.2 1451.0 L707.2 1450.3 L708.2 1451.0 L709.2 1450.7 L710.2 1451.0 L711.2 1450.8 L712.2 1450.4 L713.2 1450.4 L714.2 1450.8 L715.2 1450.8 L716.2 1450.8 L717.2 1450.4 L718.2 1451.2 L719.2 1450.1 L720.2 1451.2 L721.2 1450.7 L722.2 1450.6 L723.2 1451.3 L724.2 1450.8 L725.2 1450.8 L726.2 1450.6 L727.2 1451.0 L728.2 1451.0 L729.2 1451.2 L730.2 1451.2 L731.2 1450.8 L732.2 1450.6 L733.2 1450.7 L734.2 1450.6 L735.2 1450.7 L736.2 1450.6 L737.2 1450.9 L738.2 1450.8 L739.2 1450.6 L740.2 1450.9 L741.2 1450.1 L742.2 1450.8 L743.2 1450.1 L744.2 1450.7 L745.2 1451.0 L746.2 1450.8 L747.2 1450.4 L748.2 1450.7 L749.2 1450.7 L750.2 1450.6 L751.2 1450.8 L752.2 1450.6 L753.2 1450.5 L754.2 1450.5 L755.2 1450.9 L756.2 1450.5 L757.2 1450.3 L758.2 1451.0 L759.2 1450.5 L760.2 1450.3 L761.2 1451.0 L762.2 1450.6 L763.2 1450.6 L764.2 1450.5 L765.2 1451.0 L766.2 1451.0 L767.2 1451.1 L768.2 1450.6 L769.2 1451.5 L770.2 1450.6 L771.2 1450.4 L772.2 1450.7 L773.2 1450.2 L774.2 1450.5 L775.2 1450.6 L776.2 1450.8 L777.2 1451.2 L778.2 1450.9 L779.2 1450.7 L780.2 1450.8 L781.2 1450.4 L782.2 1451.2 L783.2 1450.8 L784.2 1450.9 L785.2 1450.6 L786.2 1450.5 L787.2 1450.5 L788.2 1450.5 L789.2 1450.6 L790.2 1451.0 L791.2 1450.6 L792.2 1451.0 L793.2 1451.0 L794.2 1450.9 L795.2 1451.0 L796.2 1450.1 L797.2 1450.9 L798.2 1450.7 L799.2 1451.2 L800.2 1450.9 L801.2 1450.7 L802.2 1450.8 L803.2 1450.9 L804.2 1451.3 L805.2 1450.7 L806.2 1450.9 L807.2 1450.6 L808.2 1450.9 L809.2 1450.9 L810.2 1450.9 L811.2 1450.8 L812.2 1451.3 L813.2 1451.1 L814.2 1451.0 L815.2 1450.6 L816.2 1450.9 L817.2 1450.8 L818.2 1451.1 L819.2 1451.0 L820.2 1450.6 L821.2 1451.0 L822.2 1451.4 L823.2 1451.0 L824.2 1450.5 L825.2 1450.7 L826.2 1451.1 L827.2 1451.2 L828.2 1450.4 L829.2 1451.1 L830.2 1451.3 L831.2 1451.3 L832.2 1450.4 L833.2 1450.8 L834.2 1451.2 L835.2 1451.1 L836.2 1450.7 L837.2 1450.5 L838.2 1450.8 L839.2 1451.0 L840.2 1450.5 L841.2 1450.8 L842.2 1451.2 L843.2 1451.2 L844.2 1450.9 L845.2 1451.2 L846.2 1450.8 L847.2 1450.6 L848.2 1450.6 L849.2 1450.5 L850.2 1450.7 L851.2 1450.7 L852.2 1451.5 L853.2 1451.1 L854.2 1451.5 L855.2 1450.5 L856.2 1451.0 L857.2 1450.7 L858.2 1450.4 L859.2 1451.0 L860.2 1450.6 L861.2 1451.1 L862.2 1451.6 L863.2 1450.8 L864.2 1450.8 L865.2 1450.6 L866.2 1450.4 L867.2 1450.7 L868.2 1450.6 L869.2 1450.9 L870.2 1450.7 L871.2 1450.9 L872.2 1451.0 L873.2 1451.2 L874.2 1450.5 L875.2 1450.6 L876.2 1451.2 L877.2 1451.1 L878.2 1450.6 L879.2 1451.6 L880.2 1450.0 L881.2 1450.7 L882.2 1450.7 L883.2 1450.9 L884.2 1450.4 L885.2 1450.8 L886.2 1450.9 L887.2 1451.2 L888.2 1450.2 L889.2 1450.6 L890.2 1450.6 L891.2 1451.1 L892.2 1451.4 L893.2 1451.3 L894.2 1450.6 L895.2 1450.9 L896.2 1450.7 L897.2 1450.8 L898.2 1450.6 L899.2 1450.8 L900.2 1450.8 L901.2 1451.0 L902.2 1450.7 L903.2 1451.6 L904.2 1450.3 L905.2 1450.6 L906.2 1450.6 L907.2 1450.8 L908.2 1451.1 L909.2 1450.8 L910.2 1451.7 L911.2 1450.9 L912.2 1451.2 L913.2 1450.8 L914.2 1450.6 L915.2 1451.5 L916.2 1450.5 L917.2 1450.3 L918.2 1450.6 L919.2 1450.9 L920.2 1451.2 L921.2 1450.7 L922.2 1450.7 L923.2 1450.9 L924.2 1451.0 L925.2 1450.5 L926.2 1450.9 L927.2 1450.6 L928.2 1450.9 L929.2 1450.9 L930.2 1451.1 L931.2 1451.3 L932.2 1450.6 L933.2 1450.5 L934.2 1450.8 L935.2 1450.8 L936.2 1450.8 L937.2 1451.0 L938.2 1450.8 L939.2 1451.1 L940.2 1450.8 L941.2 1450.8 L942.2 1450.5 L943.2 1451.0 L944.2 1450.8 L945.2 1451.1 L946.2 1451.0 L947.2 1450.6 L948.2 1450.8 L949.2 1450.7 L950.2 1450.6 L951.2 1450.2 L951.9 1450.6 L952.2 1450.5 L952.4 1450.1 L952.9 1450.5 L953.0 1450.5 L953.1 1450.0 L953.2 1450.0 L953.3 1450.3 L953.4 1450.5 L953.4 1450.3 L953.5 1449.7 L953.6 1449.8 L953.7 1450.3 L953.8 1449.8 L953.9 1450.4 L953.9 1450.4 L954.0 1449.7 L954.1 1450.0 L954.2 1450.1 L954.3 1449.9 L954.4 1449.6 L954.4 1449.7 L954.5 1449.6 L954.6 1450.0 L954.7 1449.7 L954.8 1449.7 L954.9 1449.4 L954.9 1449.5 L955.0 1449.5 L955.1 1449.1 L955.2 1448.8 L955.3 1449.0 L955.4 1448.7 L955.4 1448.6 L955.5 1448.5 L955.6 1448.2 L955.7 1448.6 L955.8 1448.3 L955.9 1448.3 L955.9 1448.4 L956.0 1448.1 L956.1 1448.7 L956.2 1448.8 L956.3 1448.2 L956.4 1448.5 L956.4 1448.6 L956.5 1448.6 L956.6 1448.8 L956.7 1449.0 L956.8 1448.8 L956.9 1449.3 L956.9 1448.5 L957.0 1448.9 L957.1 1449.6 L957.2 1449.3 L957.3 1449.6 L957.4 1449.9 L957.4 1450.1 L957.5 1449.3 L957.6 1449.5 L957.7 1449.6 L957.8 1449.6 L957.9 1450.0 L957.9 1449.3 L958.0 1450.1 L958.1 1450.0 L958.2 1450.5 L958.3 1449.6 L958.4 1450.3 L958.4 1450.0 L958.5 1450.0 L958.6 1450.5 L958.7 1450.5 L958.8 1449.9 L958.9 1450.5 L958.9 1450.2 L959.2 1450.3 L959.4 1450.3 L959.9 1450.5 L960.2 1450.3 L961.2 1450.6 L962.2 1449.9 L963.2 1451.0 L964.2 1450.8 L965.2 1450.6 L966.2 1450.8 L967.2 1450.7 L968.2 1450.9 L969.2 1451.1 L970.2 1450.9 L971.2 1449.9 L972.2 1451.1 L973.2 1450.8 L974.2 1451.0 L975.2 1450.5 L976.2 1450.7 L977.2 1450.7 L978.2 1450.9 L979.2 1451.0 L980.2 1450.9 L981.2 1450.8 L982.2 1451.0 L983.2 1451.1 L984.2 1451.0 L985.2 1450.7 L986.2 1451.0 L987.2 1450.6 L988.2 1450.8 L989.2 1451.2 L990.2 1450.3 L991.2 1450.4 L992.2 1450.1 L993.2 1451.3 L994.2 1450.8 L995.2 1450.9 L996.2 1450.8 L997.2 1450.7 L998.2 1450.5 L999.2 1450.8 L1000.2 1450.5 L1001.2 1450.9 L1002.2 1451.2 L1003.2 1451.4 L1004.2 1450.5 L1005.2 1450.6 L1006.2 1450.5 L1007.2 1450.2 L1008.2 1450.4 L1009.2 1450.7 L1010.2 1451.0 L1011.2 1451.1 L1012.2 1450.5 L1013.2 1450.9 L1014.2 1450.7 L1015.2 1450.8 L1016.2 1451.0 L1017.2 1451.0 L1018.2 1451.0 L1019.2 1450.8 L1020.2 1450.8 L1021.2 1450.8 L1022.2 1450.9 L1023.2 1450.7 L1024.2 1450.9 L1025.2 1450.8 L1026.2 1451.1 L1027.2 1450.4 L1028.2 1450.6 L1029.2 1450.7 L1030.2 1450.7 L1031.2 1450.1 L1032.2 1451.0 L1033.2 1451.1 L1034.2 1450.2 L1035.2 1450.3 L1036.2 1451.1 L1037.2 1450.2 L1038.2 1450.7 L1039.2 1450.6 L1040.2 1450.6 L1041.2 1450.8 L1042.2 1450.3 L1043.2 1450.2 L1044.2 1450.5 L1045.2 1450.6 L1046.2 1450.7 L1047.2 1450.9 L1048.2 1451.1 L1049.2 1450.8 L1050.2 1450.6 L1051.2 1450.7 L1052.2 1450.2 L1053.2 1450.4 L1054.2 1450.3 L1055.2 1450.1 L1056.2 1450.7 L1057.2 1450.2 L1058.2 1450.1 L1059.2 1450.2 L1060.2 1450.9 L1061.2 1450.8 L1062.2 1450.4 L1063.2 1450.5 L1064.2 1449.7 L1065.2 1450.0 L1066.2 1450.2 L1067.2 1449.8 L1068.2 1449.6 L1069.0 1449.7 L1069.2 1450.1 L1069.5 1450.3 L1070.0 1449.5 L1070.2 1450.2 L1070.5 1449.3 L1071.0 1449.7 L1071.2 1449.6 L1071.5 1449.4 L1072.0 1449.9 L1072.2 1449.6 L1072.5 1449.3 L1073.0 1449.5 L1073.2 1448.9 L1073.5 1449.2 L1074.0 1449.3 L1074.2 1448.9 L1074.5 1449.2 L1075.0 1448.1 L1075.2 1448.0 L1075.5 1448.1 L1076.0 1447.8 L1076.2 1447.5 L1076.5 1447.8 L1077.0 1447.0 L1077.2 1446.4 L1077.5 1446.1 L1078.0 1445.7 L1078.2 1444.8 L1078.5 1444.7 L1079.0 1443.0 L1079.2 1442.6 L1079.2 1442.6 L1079.5 1441.1 L1079.7 1440.4 L1080.0 1439.0 L1080.2 1437.9 L1080.2 1437.9 L1080.3 1437.1 L1080.4 1436.0 L1080.5 1435.4 L1080.6 1434.4 L1080.7 1433.6 L1080.7 1433.8 L1080.8 1432.9 L1080.9 1431.8 L1081.0 1429.9 L1081.1 1428.2 L1081.2 1426.9 L1081.2 1426.8 L1081.3 1425.2 L1081.4 1423.1 L1081.5 1421.2 L1081.6 1419.0 L1081.7 1415.8 L1081.7 1415.3 L1081.8 1413.2 L1081.9 1408.7 L1082.0 1404.7 L1082.1 1398.8 L1082.2 1392.8 L1082.2 1391.6 L1082.3 1385.8 L1082.4 1376.1 L1082.5 1363.9 L1082.6 1348.1 L1082.7 1325.7 L1082.7 1320.0 L1082.8 1290.8 L1082.9 1234.0 L1083.0 1133.0 L1083.6 1133.0 L1083.7 1159.3 L1083.7 1171.1 L1083.8 1203.1 L1083.9 1226.9 L1084.0 1241.9 L1084.1 1253.1 L1084.2 1261.3 L1084.2 1263.8 L1084.3 1268.1 L1084.4 1272.5 L1084.5 1277.0 L1084.6 1280.7 L1084.7 1284.5 L1084.7 1284.7 L1084.8 1287.0 L1084.9 1290.5 L1085.0 1294.0 L1085.1 1297.0 L1085.2 1299.9 L1085.2 1300.3 L1085.3 1303.5 L1085.4 1306.5 L1085.5 1309.2 L1085.6 1312.4 L1085.7 1316.3 L1085.7 1316.3 L1085.8 1319.3 L1085.9 1322.0 L1086.0 1325.1 L1086.1 1328.1 L1086.2 1331.6 L1086.2 1332.1 L1086.3 1334.2 L1086.4 1338.0 L1086.5 1340.3 L1086.6 1343.2 L1086.7 1346.6 L1086.7 1346.6 L1086.8 1349.0 L1086.9 1351.9 L1087.0 1354.8 L1087.2 1359.3 L1087.2 1360.0 L1087.5 1366.4 L1087.7 1372.3 L1088.0 1378.1 L1088.2 1382.1 L1088.2 1382.4 L1088.5 1387.2 L1088.7 1391.2 L1089.0 1395.1 L1089.2 1397.9 L1089.2 1398.4 L1089.5 1402.4 L1089.7 1404.4 L1090.0 1408.7 L1090.2 1409.7 L1090.2 1409.6 L1090.5 1412.8 L1090.7 1414.4 L1091.0 1417.1 L1091.2 1418.6 L1091.2 1418.2 L1091.5 1420.6 L1091.7 1421.6 L1092.0 1423.5 L1092.2 1424.4 L1092.2 1424.6 L1092.5 1426.2 L1093.0 1428.8 L1093.2 1429.1 L1093.5 1430.6 L1094.0 1432.6 L1094.2 1432.6 L1094.5 1434.0 L1095.0 1435.0 L1095.2 1435.7 L1095.5 1436.4 L1096.0 1437.3 L1096.2 1438.2 L1096.5 1438.7 L1097.0 1439.2 L1097.2 1439.5 L1097.5 1440.0 L1098.0 1440.8 L1098.2 1441.1 L1098.5 1440.9 L1099.0 1442.1 L1099.2 1442.3 L1099.5 1442.3 L1100.0 1442.7 L1100.2 1442.6 L1100.5 1443.5 L1101.0 1443.6 L1101.2 1443.8 L1101.5 1444.9 L1102.0 1444.0 L1102.2 1444.0 L1102.5 1445.0 L1103.0 1444.6 L1103.2 1445.0 L1103.5 1445.4 L1104.0 1445.3 L1104.2 1446.0 L1104.5 1445.8 L1105.0 1446.1 L1105.2 1445.9 L1105.5 1445.9 L1106.0 1446.4 L1106.2 1447.1 L1106.5 1446.6 L1107.0 1446.9 L1107.2 1447.0 L1107.5 1446.7 L1108.0 1447.3 L1108.2 1447.0 L1108.5 1446.7 L1109.0 1446.8 L1109.2 1447.6 L1109.5 1448.0 L1110.0 1447.8 L1110.2 1448.0 L1110.5 1447.4 L1111.0 1446.9 L1111.2 1448.4 L1111.5 1448.2 L1112.0 1447.5 L1112.2 1448.1 L1112.5 1448.1 L1113.0 1448.1 L1113.2 1447.9 L1113.5 1448.3 L1114.0 1448.5 L1114.2 1447.9 L1114.5 1448.5 L1115.0 1448.0 L1115.2 1448.6 L1115.5 1448.4 L1116.0 1448.8 L1116.2 1448.7 L1116.5 1448.1 L1117.0 1448.3 L1117.2 1448.7 L1117.5 1448.9 L1118.0 1449.1 L1118.2 1448.4 L1118.3 1448.7 L1118.5 1449.5 L1118.8 1448.8 L1119.0 1448.5 L1119.2 1448.3 L1119.3 1449.0 L1119.5 1449.1 L1119.8 1448.6 L1120.0 1449.1 L1120.2 1449.2 L1120.3 1449.3 L1120.5 1449.1 L1120.8 1448.8 L1121.0 1448.7 L1121.2 1449.2 L1121.3 1448.5 L1121.5 1449.4 L1121.8 1449.2 L1122.0 1448.9 L1122.2 1448.4 L1122.3 1448.7 L1122.5 1448.5 L1122.8 1448.7 L1123.0 1449.1 L1123.2 1449.7 L1123.3 1448.7 L1123.5 1448.8 L1123.8 1449.6 L1124.2 1449.0 L1124.3 1449.1 L1124.8 1448.8 L1125.2 1449.5 L1125.3 1449.0 L1125.8 1449.2 L1126.2 1449.3 L1126.3 1449.5 L1126.8 1449.1 L1127.2 1448.8 L1127.3 1449.1 L1127.8 1448.9 L1128.2 1448.4 L1128.3 1448.8 L1128.8 1448.5 L1129.2 1448.8 L1129.3 1448.7 L1129.8 1448.7 L1130.2 1448.3 L1130.3 1449.0 L1130.8 1448.8 L1131.2 1449.1 L1131.3 1448.4 L1131.8 1448.6 L1132.0 1448.5 L1132.1 1448.8 L1132.2 1448.5 L1132.3 1448.9 L1132.3 1448.4 L1132.4 1448.8 L1132.5 1448.7 L1132.6 1448.7 L1132.7 1448.6 L1132.8 1448.6 L1132.8 1449.0 L1132.9 1449.0 L1133.0 1448.9 L1133.1 1448.7 L1133.2 1448.5 L1133.3 1448.5 L1133.3 1448.6 L1133.4 1448.6 L1133.5 1448.5 L1133.6 1448.3 L1133.7 1448.3 L1133.8 1448.9 L1133.8 1448.4 L1133.9 1448.6 L1134.0 1448.5 L1134.1 1448.7 L1134.2 1448.6 L1134.3 1449.0 L1134.3 1448.7 L1134.4 1448.3 L1134.5 1448.6 L1134.6 1448.3 L1134.7 1448.5 L1134.8 1448.9 L1134.8 1448.2 L1134.9 1448.8 L1135.0 1448.6 L1135.1 1448.9 L1135.2 1448.7 L1135.3 1448.9 L1135.3 1448.7 L1135.4 1449.0 L1135.5 1448.7 L1135.6 1448.4 L1135.7 1448.7 L1135.8 1448.7 L1135.8 1449.2 L1135.9 1448.5 L1136.0 1448.2 L1136.1 1449.1 L1136.2 1448.5 L1136.3 1448.2 L1136.3 1448.4 L1136.4 1448.5 L1136.5 1448.6 L1136.6 1449.4 L1136.7 1448.7 L1136.8 1448.9 L1136.8 1448.9 L1136.9 1448.6 L1137.0 1448.3 L1137.1 1449.3 L1137.2 1448.6 L1137.3 1448.6 L1137.3 1449.0 L1137.4 1448.6 L1137.5 1448.7 L1137.6 1449.1 L1137.7 1448.7 L1137.8 1448.9 L1137.8 1448.8 L1137.9 1449.3 L1138.2 1448.4 L1138.3 1448.1 L1138.8 1449.0 L1139.2 1448.9 L1139.3 1449.9 L1139.8 1449.1 L1140.2 1449.2 L1140.3 1449.4 L1140.8 1449.3 L1141.2 1449.5 L1141.3 1449.0 L1141.8 1449.3 L1142.2 1449.8 L1142.3 1449.1 L1142.8 1449.4 L1143.2 1449.6 L1143.3 1449.7 L1143.8 1449.6 L1144.2 1449.8 L1144.3 1449.9 L1144.8 1449.7 L1145.2 1449.5 L1145.3 1449.8 L1145.8 1449.6 L1146.2 1449.6 L1146.3 1450.1 L1146.8 1449.9 L1147.2 1449.5 L1147.3 1449.3 L1147.8 1449.6 L1148.2 1450.0 L1148.3 1450.1 L1148.8 1449.9 L1149.2 1450.5 L1149.3 1449.9 L1149.8 1449.7 L1150.2 1450.0 L1150.3 1450.3 L1150.8 1450.1 L1151.2 1450.1 L1151.3 1450.4 L1152.2 1450.4 L1153.2 1450.6 L1154.2 1450.0 L1155.2 1450.3 L1156.2 1450.3 L1157.2 1450.3 L1158.2 1450.8 L1159.2 1450.4 L1160.2 1450.4 L1161.2 1449.9 L1162.2 1450.2 L1163.2 1450.5 L1164.2 1450.4 L1165.2 1450.1 L1166.2 1450.5 L1167.2 1450.4 L1168.2 1450.7 L1169.2 1450.6 L1170.2 1450.7 L1171.2 1450.1 L1172.2 1450.2 L1173.2 1450.7 L1174.2 1451.3 L1175.2 1450.6 L1176.2 1450.6 L1177.2 1450.3 L1178.2 1451.1 L1179.2 1450.5 L1180.2 1450.4 L1181.2 1450.6 L1182.2 1450.3 L1183.2 1450.6 L1184.2 1450.5 L1185.2 1450.4 L1186.2 1450.0 L1187.2 1450.0 L1188.2 1450.2 L1189.2 1449.6 L1190.2 1450.0 L1191.0 1450.2 L1191.1 1450.2 L1191.2 1450.8 L1191.3 1449.6 L1191.4 1450.1 L1191.5 1450.0 L1191.6 1450.2 L1191.7 1450.0 L1191.8 1449.8 L1191.9 1450.1 L1192.0 1449.9 L1192.1 1450.6 L1192.2 1449.9 L1192.3 1450.1 L1192.4 1450.2 L1192.5 1450.0 L1192.6 1449.8 L1192.7 1449.8 L1192.8 1449.6 L1192.9 1449.4 L1193.0 1449.5 L1193.1 1449.8 L1193.2 1449.6 L1193.3 1448.6 L1193.4 1448.7 L1193.5 1447.9 L1193.6 1446.9 L1193.7 1445.2 L1193.8 1442.8 L1193.9 1438.4 L1194.0 1436.0 L1194.1 1439.0 L1194.2 1442.0 L1194.3 1445.1 L1194.4 1447.0 L1194.5 1447.8 L1194.6 1448.3 L1194.7 1449.3 L1194.8 1449.4 L1194.9 1449.3 L1195.0 1449.7 L1195.1 1449.4 L1195.2 1449.4 L1195.3 1449.9 L1195.4 1450.0 L1195.5 1449.3 L1195.6 1450.1 L1195.7 1450.3 L1195.8 1450.0 L1195.9 1449.4 L1196.0 1450.0 L1196.1 1449.6 L1196.2 1450.1 L1196.3 1449.7 L1196.4 1449.7 L1196.5 1449.5 L1196.6 1449.7 L1196.7 1449.8 L1196.8 1449.3 L1196.9 1449.5 L1197.2 1449.4 L1197.7 1449.9 L1198.2 1449.5 L1198.7 1449.2 L1199.2 1449.5 L1199.7 1449.1 L1200.2 1448.8 L1200.7 1448.5 L1201.2 1448.6 L1201.7 1447.9 L1202.2 1446.8 L1202.7 1446.4 L1203.2 1445.6 L1203.2 1444.9 L1203.7 1444.7 L1203.7 1444.7 L1204.2 1442.2 L1204.2 1442.7 L1204.3 1442.1 L1204.4 1441.5 L1204.5 1440.6 L1204.6 1440.8 L1204.7 1439.7 L1204.7 1439.2 L1204.8 1439.0 L1204.9 1438.0 L1205.0 1436.8 L1205.1 1436.2 L1205.2 1434.9 L1205.2 1433.9 L1205.3 1433.4 L1205.4 1432.1 L1205.5 1430.5 L1205.6 1428.6 L1205.7 1426.0 L1205.7 1425.6 L1205.8 1423.0 L1205.9 1420.2 L1206.0 1416.3 L1206.1 1412.4 L1206.2 1407.1 L1206.2 1405.3 L1206.3 1399.3 L1206.4 1391.5 L1206.5 1380.5 L1206.6 1364.9 L1206.7 1342.7 L1206.7 1337.8 L1206.8 1309.4 L1206.9 1253.2 L1207.0 1142.9 L1207.1 1133.0 L1207.6 1133.0 L1207.7 1187.9 L1207.7 1199.7 L1207.8 1236.5 L1207.9 1264.3 L1208.0 1282.9 L1208.1 1295.0 L1208.2 1304.4 L1208.2 1305.7 L1208.3 1311.1 L1208.4 1318.1 L1208.5 1323.7 L1208.6 1328.8 L1208.7 1332.9 L1208.7 1334.1 L1208.8 1337.8 L1208.9 1341.9 L1209.0 1346.3 L1209.1 1350.4 L1209.2 1354.7 L1209.2 1354.6 L1209.3 1358.8 L1209.4 1362.1 L1209.5 1365.8 L1209.6 1369.1 L1209.7 1373.0 L1209.7 1373.6 L1209.8 1376.0 L1209.9 1379.4 L1210.0 1382.0 L1210.1 1385.3 L1210.2 1387.5 L1210.2 1388.2 L1210.3 1391.0 L1210.4 1392.8 L1210.5 1395.1 L1210.6 1397.6 L1210.7 1399.9 L1210.7 1400.4 L1211.2 1409.2 L1211.2 1409.5 L1211.7 1416.5 L1211.7 1417.5 L1212.2 1421.7 L1212.2 1422.5 L1212.7 1426.9 L1212.7 1426.5 L1213.2 1430.4 L1213.2 1430.5 L1213.7 1432.3 L1213.7 1433.8 L1214.2 1435.7 L1214.2 1435.6 L1214.7 1437.1 L1214.7 1437.3 L1215.2 1438.7 L1215.2 1438.7 L1215.7 1440.5 L1215.7 1439.6 L1216.2 1440.7 L1216.2 1441.2 L1216.7 1442.5 L1217.2 1442.8 L1217.7 1444.0 L1218.2 1444.2 L1218.7 1444.9 L1219.2 1445.4 L1219.7 1445.9 L1219.8 1446.0 L1219.9 1445.9 L1220.0 1445.7 L1220.1 1445.6 L1220.2 1446.5 L1220.3 1446.3 L1220.4 1446.5 L1220.5 1446.1 L1220.6 1446.5 L1220.7 1446.6 L1220.8 1446.8 L1220.9 1446.4 L1221.0 1446.9 L1221.1 1446.1 L1221.2 1446.4 L1221.3 1446.2 L1221.4 1446.1 L1221.5 1446.5 L1221.6 1446.7 L1221.7 1446.1 L1221.8 1446.1 L1221.9 1445.9 L1222.0 1445.6 L1222.1 1445.6 L1222.2 1445.0 L1222.3 1443.1 L1222.4 1441.7 L1222.5 1438.4 L1222.6 1433.5 L1222.7 1430.3 L1222.8 1433.6 L1222.9 1438.1 L1223.0 1441.9 L1223.1 1444.0 L1223.2 1445.5 L1223.3 1445.7 L1223.4 1446.4 L1223.5 1446.6 L1223.6 1447.1 L1223.7 1447.0 L1223.8 1447.2 L1223.9 1447.1 L1224.0 1447.6 L1224.1 1447.7 L1224.2 1448.3 L1224.3 1448.0 L1224.4 1447.8 L1224.5 1448.3 L1224.6 1448.3 L1224.7 1447.9 L1224.8 1448.2 L1224.9 1448.1 L1225.0 1448.1 L1225.1 1448.3 L1225.2 1448.2 L1225.3 1448.1 L1225.4 1448.5 L1225.5 1448.2 L1225.6 1447.8 L1225.7 1448.2 L1226.2 1448.9 L1226.7 1448.8 L1227.2 1449.0 L1227.7 1449.0 L1228.2 1448.7 L1228.7 1448.6 L1229.2 1448.7 L1229.7 1449.2 L1230.2 1449.2 L1230.7 1449.4 L1231.2 1449.2 L1231.7 1450.1 L1232.2 1449.3 L1232.7 1450.0 L1233.2 1449.5 L1233.7 1450.0 L1234.2 1450.3 L1234.7 1450.3 L1235.2 1450.2 L1235.7 1450.0 L1236.2 1449.4 L1236.7 1449.4 L1237.2 1450.0 L1237.7 1450.2 L1238.2 1449.5 L1238.7 1450.3 L1239.2 1450.0 L1239.7 1449.7 L1240.2 1450.1 L1240.7 1450.8 L1241.2 1449.9 L1241.7 1450.2 L1242.2 1450.2 L1242.7 1450.0 L1243.2 1450.5 L1243.7 1450.6 L1244.2 1450.4 L1244.7 1450.7 L1245.2 1450.3 L1245.7 1450.5 L1246.2 1449.9 L1246.7 1450.6 L1247.2 1450.2 L1247.7 1449.8 L1248.2 1450.3 L1249.2 1449.9 L1250.2 1450.0 L1251.2 1450.6 L1252.2 1450.6 L1253.2 1450.1 L1254.2 1449.7 L1255.2 1450.6 L1256.2 1450.0 L1257.2 1450.6 L1258.2 1450.6 L1259.2 1450.6 L1260.2 1451.1 L1261.2 1450.7 L1262.2 1450.4 L1263.2 1450.3 L1264.2 1450.5 L1265.2 1450.6 L1266.2 1450.1 L1267.2 1450.4 L1268.2 1450.5 L1268.4 1450.0" fill="none" stroke="#151515" stroke-linejoin="round"/></defs>
<use href="#sp3" stroke-width="1.3"/>
<clipPath id="bc3"><rect x="28.200000000000003" y="1447.8" width="1245.2" height="10"/></clipPath>
<use href="#sp3" stroke-width="2.0" clip-path="url(#bc3)"/>
<text transform="translate(83.2,1286.1) rotate(-90)" font-size="22.6" fill="#2b2d5e" stroke="#2b2d5e" stroke-width="0.35">10.043</text>
<text transform="translate(280.5,1385) rotate(-90)" font-size="22.6" fill="#2b2d5e" stroke="#2b2d5e" stroke-width="0.35">8.133</text>
<text transform="translate(306.7,1370.2) rotate(-90)" font-size="22.6" fill="#2b2d5e" stroke="#2b2d5e" stroke-width="0.35">8.032</text>
<text transform="translate(332.1,1355.3) rotate(-90)" font-size="22.6" fill="#2b2d5e" stroke="#2b2d5e" stroke-width="0.35">8.029</text>
<text transform="translate(357.6,1346.8) rotate(-90)" font-size="22.6" fill="#2b2d5e" stroke="#2b2d5e" stroke-width="0.35">8.020</text>
<text transform="translate(382.3,1317.2) rotate(-90)" font-size="22.6" fill="#2b2d5e" stroke="#2b2d5e" stroke-width="0.35">8.017</text>
<text transform="translate(407.8,1310.1) rotate(-90)" font-size="22.6" fill="#2b2d5e" stroke="#2b2d5e" stroke-width="0.35">7.978</text>
<text transform="translate(433.3,1320) rotate(-90)" font-size="22.6" fill="#2b2d5e" stroke="#2b2d5e" stroke-width="0.35">7.822</text>
<text transform="translate(458.7,1351.1) rotate(-90)" font-size="22.6" fill="#2b2d5e" stroke="#2b2d5e" stroke-width="0.35">7.789</text>
<text transform="translate(484.2,1390.8) rotate(-90)" font-size="22.6" fill="#2b2d5e" stroke="#2b2d5e" stroke-width="0.35">7.765</text>
<text transform="translate(509.6,1382.2) rotate(-90)" font-size="22.6" fill="#2b2d5e" stroke="#2b2d5e" stroke-width="0.35">7.555</text>
<text transform="translate(535.1,1378.7) rotate(-90)" font-size="22.6" fill="#2b2d5e" stroke="#2b2d5e" stroke-width="0.35">7.479</text>
<path d="M75.3 1289 L75.3 1311" fill="none" stroke="#3a3b5c" stroke-width="1.25" />
<path d="M272.6 1388 L272.6 1393 L361 1398" fill="none" stroke="#3a3b5c" stroke-width="1.25" />
<path d="M298.8 1373 L298.8 1378 L378 1383" fill="none" stroke="#3a3b5c" stroke-width="1.25" />
<path d="M324.2 1358 L324.2 1363 L378 1370" fill="none" stroke="#3a3b5c" stroke-width="1.25" />
<path d="M349.7 1349 L349.7 1354 L378 1360" fill="none" stroke="#3a3b5c" stroke-width="1.25" />
<path d="M374.4 1319 L374.4 1325 L379 1330" fill="none" stroke="#3a3b5c" stroke-width="1.25" />
<path d="M399.9 1312 L399.9 1318 L387 1325" fill="none" stroke="#3a3b5c" stroke-width="1.25" />
<path d="M425.4 1322 L425.4 1327 L409 1337 L409 1347" fill="none" stroke="#3a3b5c" stroke-width="1.25" />
<path d="M450.8 1353 L450.8 1359 L413.5 1367 L413.5 1372" fill="none" stroke="#3a3b5c" stroke-width="1.25" />
<path d="M476.3 1393 L476.3 1399 L417.6 1407 L417.6 1412" fill="none" stroke="#3a3b5c" stroke-width="1.25" />
<path d="M501.7 1384 L501.7 1390 L449 1395" fill="none" stroke="#3a3b5c" stroke-width="1.25" />
<path d="M527.2 1381 L527.2 1389 L460.5 1397" fill="none" stroke="#3a3b5c" stroke-width="1.25" />
<text x="74.9" y="1478.5" font-size="22.5" fill="#bb5f69" text-anchor="middle" >1.00</text>
<text x="259" y="1478.5" font-size="22.5" fill="#bb5f69" text-anchor="middle" >1.06</text>
<text x="308.2" y="1478.5" font-size="22.5" fill="#bb5f69" text-anchor="middle" >3.13</text>
<text x="357.5" y="1478.5" font-size="22.5" fill="#bb5f69" text-anchor="middle" >2.17</text>
<text x="406.8" y="1478.5" font-size="22.5" fill="#bb5f69" text-anchor="middle" >1.08</text>
<text x="456" y="1478.5" font-size="22.5" fill="#bb5f69" text-anchor="middle" >1.10</text>
<text x="505.3" y="1478.5" font-size="22.5" fill="#bb5f69" text-anchor="middle" >1.06</text>
<text x="554.5" y="1478.5" font-size="22.5" fill="#bb5f69" text-anchor="middle" >1.09</text>
<path d="M259 1461 L259 1458 L308.2 1457.5 L357.5 1457 L360 1455" fill="none" stroke="#d9878e" stroke-width="1.2" />
<line x1="308.2" y1="1457.5" x2="308.2" y2="1461" stroke="#d9878e" stroke-width="1.2" />
<line x1="357.5" y1="1457" x2="357.5" y2="1461" stroke="#d9878e" stroke-width="1.2" />
<path d="M360 1452 L360 1455.5 L376.5 1455.5 L376.5 1452" fill="none" stroke="#d9878e" stroke-width="1.1" />
<path d="M376.5 1455.5 L386 1455.5 L386 1452" fill="none" stroke="#d9878e" stroke-width="1.1" />
<path d="M406.8 1452 L406.8 1456 L417.5 1456 L417.5 1452" fill="none" stroke="#d9878e" stroke-width="1.1" />
<path d="M417.5 1456 L446.5 1456 L446.5 1452" fill="none" stroke="#d9878e" stroke-width="1.1" />
<path d="M446.5 1456 L456 1457.5 L505.3 1457.5 L554.5 1457.5 L554.5 1461" fill="none" stroke="#d9878e" stroke-width="1.2" />
<line x1="456" y1="1457.5" x2="456" y2="1461" stroke="#d9878e" stroke-width="1.2" />
<line x1="505.3" y1="1457.5" x2="505.3" y2="1461" stroke="#d9878e" stroke-width="1.2" />
<line x1="72.3" y1="1486" x2="72.3" y2="1501" stroke="#c9535e" stroke-width="1.4" />
<line x1="77.5" y1="1486" x2="77.5" y2="1501" stroke="#c9535e" stroke-width="1.4" />
<rect x="71.5" y="1496.5" width="6.8" height="4" fill="#c9535e"/>
<line x1="256.4" y1="1486" x2="256.4" y2="1501" stroke="#c9535e" stroke-width="1.4" />
<line x1="261.6" y1="1486" x2="261.6" y2="1501" stroke="#c9535e" stroke-width="1.4" />
<rect x="255.6" y="1496.5" width="6.8" height="4" fill="#c9535e"/>
<line x1="305.6" y1="1486" x2="305.6" y2="1501" stroke="#c9535e" stroke-width="1.4" />
<line x1="310.8" y1="1486" x2="310.8" y2="1501" stroke="#c9535e" stroke-width="1.4" />
<rect x="304.8" y="1496.5" width="6.8" height="4" fill="#c9535e"/>
<line x1="354.9" y1="1486" x2="354.9" y2="1501" stroke="#c9535e" stroke-width="1.4" />
<line x1="360.1" y1="1486" x2="360.1" y2="1501" stroke="#c9535e" stroke-width="1.4" />
<rect x="354.1" y="1496.5" width="6.8" height="4" fill="#c9535e"/>
<line x1="404.2" y1="1486" x2="404.2" y2="1501" stroke="#c9535e" stroke-width="1.4" />
<line x1="409.4" y1="1486" x2="409.4" y2="1501" stroke="#c9535e" stroke-width="1.4" />
<rect x="403.4" y="1496.5" width="6.8" height="4" fill="#c9535e"/>
<line x1="453.4" y1="1486" x2="453.4" y2="1501" stroke="#c9535e" stroke-width="1.4" />
<line x1="458.6" y1="1486" x2="458.6" y2="1501" stroke="#c9535e" stroke-width="1.4" />
<rect x="452.6" y="1496.5" width="6.8" height="4" fill="#c9535e"/>
<line x1="502.7" y1="1486" x2="502.7" y2="1501" stroke="#c9535e" stroke-width="1.4" />
<line x1="507.9" y1="1486" x2="507.9" y2="1501" stroke="#c9535e" stroke-width="1.4" />
<rect x="501.9" y="1496.5" width="6.8" height="4" fill="#c9535e"/>
<line x1="551.9" y1="1486" x2="551.9" y2="1501" stroke="#c9535e" stroke-width="1.4" />
<line x1="557.1" y1="1486" x2="557.1" y2="1501" stroke="#c9535e" stroke-width="1.4" />
<rect x="551.1" y="1496.5" width="6.8" height="4" fill="#c9535e"/>
<line x1="34.3" y1="1511" x2="1268.4" y2="1511" stroke="#3c3c3c" stroke-width="1.6"/>
<path d="M1261.9 1511.0V1515.5 M1254.4 1511.0V1515.5 M1246.8 1511.0V1518.0 M1239.3 1511.0V1515.5 M1231.8 1511.0V1515.5 M1224.3 1511.0V1515.5 M1216.7 1511.0V1515.5 M1209.2 1511.0V1519.5 M1201.7 1511.0V1515.5 M1194.2 1511.0V1515.5 M1186.7 1511.0V1515.5 M1179.1 1511.0V1515.5 M1171.6 1511.0V1518.0 M1164.1 1511.0V1515.5 M1156.6 1511.0V1515.5 M1149.1 1511.0V1515.5 M1141.5 1511.0V1515.5 M1134.0 1511.0V1519.5 M1126.5 1511.0V1515.5 M1119.0 1511.0V1515.5 M1111.4 1511.0V1515.5 M1103.9 1511.0V1515.5 M1096.4 1511.0V1518.0 M1088.9 1511.0V1515.5 M1081.4 1511.0V1515.5 M1073.8 1511.0V1515.5 M1066.3 1511.0V1515.5 M1058.8 1511.0V1519.5 M1051.3 1511.0V1515.5 M1043.8 1511.0V1515.5 M1036.2 1511.0V1515.5 M1028.7 1511.0V1515.5 M1021.2 1511.0V1518.0 M1013.7 1511.0V1515.5 M1006.1 1511.0V1515.5 M998.6 1511.0V1515.5 M991.1 1511.0V1515.5 M983.6 1511.0V1519.5 M976.1 1511.0V1515.5 M968.5 1511.0V1515.5 M961.0 1511.0V1515.5 M953.5 1511.0V1515.5 M946.0 1511.0V1518.0 M938.5 1511.0V1515.5 M930.9 1511.0V1515.5 M923.4 1511.0V1515.5 M915.9 1511.0V1515.5 M908.4 1511.0V1519.5 M900.8 1511.0V1515.5 M893.3 1511.0V1515.5 M885.8 1511.0V1515.5 M878.3 1511.0V1515.5 M870.8 1511.0V1518.0 M863.2 1511.0V1515.5 M855.7 1511.0V1515.5 M848.2 1511.0V1515.5 M840.7 1511.0V1515.5 M833.2 1511.0V1519.5 M825.6 1511.0V1515.5 M818.1 1511.0V1515.5 M810.6 1511.0V1515.5 M803.1 1511.0V1515.5 M795.5 1511.0V1518.0 M788.0 1511.0V1515.5 M780.5 1511.0V1515.5 M773.0 1511.0V1515.5 M765.5 1511.0V1515.5 M757.9 1511.0V1519.5 M750.4 1511.0V1515.5 M742.9 1511.0V1515.5 M735.4 1511.0V1515.5 M727.8 1511.0V1515.5 M720.3 1511.0V1518.0 M712.8 1511.0V1515.5 M705.3 1511.0V1515.5 M697.8 1511.0V1515.5 M690.2 1511.0V1515.5 M682.7 1511.0V1519.5 M675.2 1511.0V1515.5 M667.7 1511.0V1515.5 M660.2 1511.0V1515.5 M652.6 1511.0V1515.5 M645.1 1511.0V1518.0 M637.6 1511.0V1515.5 M630.1 1511.0V1515.5 M622.5 1511.0V1515.5 M615.0 1511.0V1515.5 M607.5 1511.0V1519.5 M600.0 1511.0V1515.5 M592.5 1511.0V1515.5 M584.9 1511.0V1515.5 M577.4 1511.0V1515.5 M569.9 1511.0V1518.0 M562.4 1511.0V1515.5 M554.9 1511.0V1515.5 M547.3 1511.0V1515.5 M539.8 1511.0V1515.5 M532.3 1511.0V1519.5 M524.8 1511.0V1515.5 M517.2 1511.0V1515.5 M509.7 1511.0V1515.5 M502.2 1511.0V1515.5 M494.7 1511.0V1518.0 M487.2 1511.0V1515.5 M479.6 1511.0V1515.5 M472.1 1511.0V1515.5 M464.6 1511.0V1515.5 M457.1 1511.0V1519.5 M449.6 1511.0V1515.5 M442.0 1511.0V1515.5 M434.5 1511.0V1515.5 M427.0 1511.0V1515.5 M419.5 1511.0V1518.0 M411.9 1511.0V1515.5 M404.4 1511.0V1515.5 M396.9 1511.0V1515.5 M389.4 1511.0V1515.5 M381.9 1511.0V1519.5 M374.3 1511.0V1515.5 M366.8 1511.0V1515.5 M359.3 1511.0V1515.5 M351.8 1511.0V1515.5 M344.3 1511.0V1518.0 M336.7 1511.0V1515.5 M329.2 1511.0V1515.5 M321.7 1511.0V1515.5 M314.2 1511.0V1515.5 M306.6 1511.0V1519.5 M299.1 1511.0V1515.5 M291.6 1511.0V1515.5 M284.1 1511.0V1515.5 M276.6 1511.0V1515.5 M269.0 1511.0V1518.0 M261.5 1511.0V1515.5 M254.0 1511.0V1515.5 M246.5 1511.0V1515.5 M239.0 1511.0V1515.5 M231.4 1511.0V1519.5 M223.9 1511.0V1515.5 M216.4 1511.0V1515.5 M208.9 1511.0V1515.5 M201.3 1511.0V1515.5 M193.8 1511.0V1518.0 M186.3 1511.0V1515.5 M178.8 1511.0V1515.5 M171.3 1511.0V1515.5 M163.7 1511.0V1515.5 M156.2 1511.0V1519.5 M148.7 1511.0V1515.5 M141.2 1511.0V1515.5 M133.7 1511.0V1515.5 M126.1 1511.0V1515.5 M118.6 1511.0V1518.0 M111.1 1511.0V1515.5 M103.6 1511.0V1515.5 M96.0 1511.0V1515.5 M88.5 1511.0V1515.5 M81.0 1511.0V1519.5 M73.5 1511.0V1515.5 M66.0 1511.0V1515.5 M58.4 1511.0V1515.5 M50.9 1511.0V1515.5 M43.4 1511.0V1518.0 M35.9 1511.0V1515.5 M34.3 1511.0V1515.5 M1268.4 1511.0V1515.5" stroke="#3c3c3c" stroke-width="1.5" fill="none"/>
<text x="80.1" y="1543.5" font-size="19.5" fill="#333333" text-anchor="middle" >10.0</text>
<text x="227.8" y="1543.5" font-size="19.5" fill="#333333" text-anchor="middle" >9.0</text>
<text x="381.6" y="1543.5" font-size="19.5" fill="#333333" text-anchor="middle" >8.0</text>
<text x="531.6" y="1543.5" font-size="19.5" fill="#333333" text-anchor="middle" >7.0</text>
<text x="682.7" y="1543.5" font-size="19.5" fill="#333333" text-anchor="middle" >6.0</text>
<text x="830.4" y="1543.5" font-size="19.5" fill="#333333" text-anchor="middle" >5.0</text>
<text x="983.6" y="1543.5" font-size="19.5" fill="#333333" text-anchor="middle" >4.0</text>
<text x="1133.6" y="1543.5" font-size="19.5" fill="#333333" text-anchor="middle" >3.0</text>
<text x="411.5" y="1609.3" font-size="37.5" fill="#111" text-anchor="start" >Chemical shift, ppm</text>
</svg>
</body></html>
